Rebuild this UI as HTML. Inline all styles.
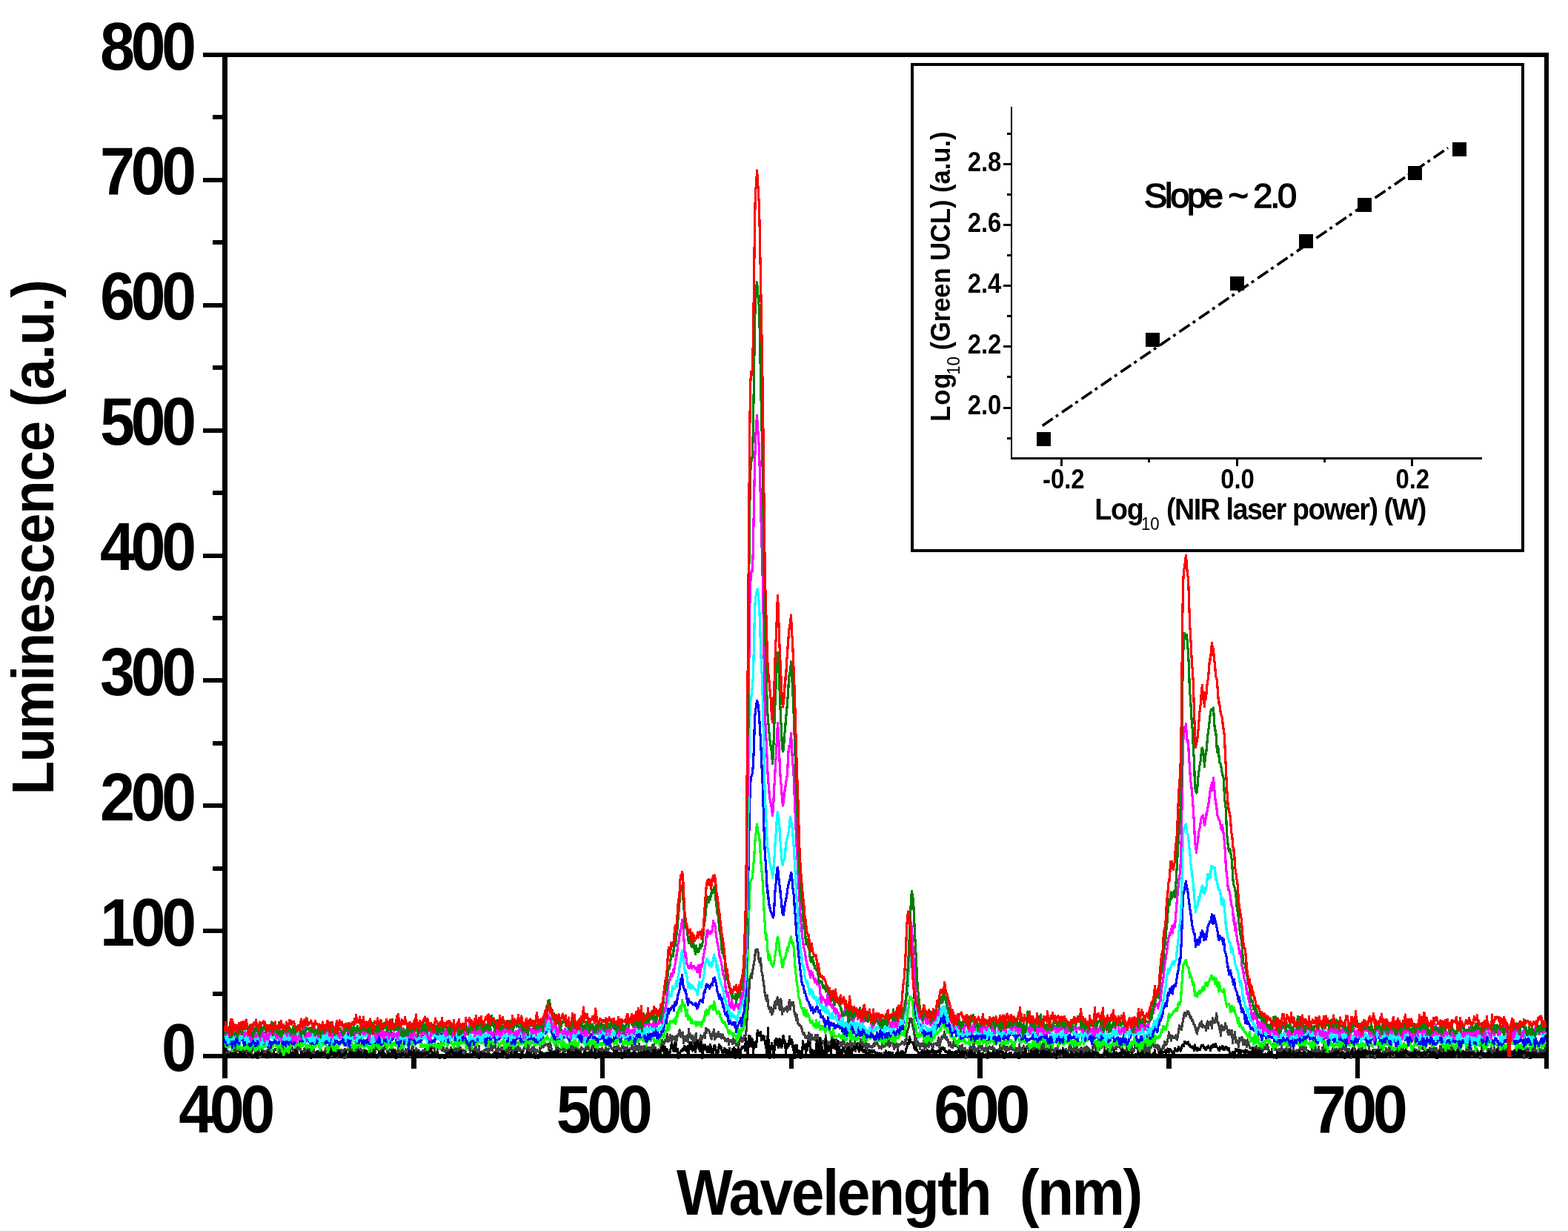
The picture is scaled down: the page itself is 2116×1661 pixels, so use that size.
<!DOCTYPE html><html><head><meta charset="utf-8"><title>Luminescence spectra</title><style>html,body{margin:0;padding:0;background:#fff;overflow:hidden}svg{display:block}text{font-family:'Liberation Sans', Arial, sans-serif;white-space:pre}</style></head><body>
<svg width="2116" height="1661" viewBox="0 0 2116 1661">
<rect x="0" y="0" width="2116" height="1661" fill="#fff"/>
<g fill="#000" shape-rendering="crispEdges">
<rect x="300" y="71" width="6.5" height="1357"/>
<rect x="274" y="71" width="1816" height="6"/>
<rect x="2084" y="71" width="6" height="1357"/>
<rect x="274" y="1422" width="1816" height="6"/>
<rect x="274" y="1422.0" width="28" height="6"/>
<rect x="274" y="1253.1" width="28" height="6"/>
<rect x="274" y="1084.2" width="28" height="6"/>
<rect x="274" y="915.4" width="28" height="6"/>
<rect x="274" y="746.5" width="28" height="6"/>
<rect x="274" y="577.6" width="28" height="6"/>
<rect x="274" y="408.8" width="28" height="6"/>
<rect x="274" y="239.9" width="28" height="6"/>
<rect x="274" y="71.0" width="28" height="6"/>
<rect x="287" y="1337.6" width="15" height="6"/>
<rect x="287" y="1168.7" width="15" height="6"/>
<rect x="287" y="999.8" width="15" height="6"/>
<rect x="287" y="830.9" width="15" height="6"/>
<rect x="287" y="662.1" width="15" height="6"/>
<rect x="287" y="493.2" width="15" height="6"/>
<rect x="287" y="324.3" width="15" height="6"/>
<rect x="287" y="155.4" width="15" height="6"/>
<rect x="300.3" y="1425" width="6.5" height="30"/>
<rect x="809.8" y="1425" width="6.5" height="30"/>
<rect x="1319.3" y="1425" width="6.5" height="30"/>
<rect x="1828.8" y="1425" width="6.5" height="30"/>
<rect x="555.0" y="1425" width="6.5" height="16.6"/>
<rect x="1064.5" y="1425" width="6.5" height="16.6"/>
<rect x="1574.0" y="1425" width="6.5" height="16.6"/>
<rect x="2083.6" y="1425" width="6.5" height="16.6"/>
</g>
<g font-weight="bold" font-size="90" letter-spacing="-5.9" fill="#000">
<text transform="translate(259.5,1444.5) scale(0.94,1)" text-anchor="end">0</text>
<text transform="translate(259.5,1275.6) scale(0.94,1)" text-anchor="end">100</text>
<text transform="translate(259.5,1106.8) scale(0.94,1)" text-anchor="end">200</text>
<text transform="translate(259.5,937.9) scale(0.94,1)" text-anchor="end">300</text>
<text transform="translate(259.5,769.0) scale(0.94,1)" text-anchor="end">400</text>
<text transform="translate(259.5,600.1) scale(0.94,1)" text-anchor="end">500</text>
<text transform="translate(259.5,431.2) scale(0.94,1)" text-anchor="end">600</text>
<text transform="translate(259.5,262.4) scale(0.94,1)" text-anchor="end">700</text>
<text transform="translate(259.5,93.5) scale(0.94,1)" text-anchor="end">800</text>
<text transform="translate(303.5,1527.5) scale(0.94,1)" text-anchor="middle">400</text>
<text transform="translate(813.0,1527.5) scale(0.94,1)" text-anchor="middle">500</text>
<text transform="translate(1322.5,1527.5) scale(0.94,1)" text-anchor="middle">600</text>
<text transform="translate(1832.0,1527.5) scale(0.94,1)" text-anchor="middle">700</text>
</g>
<text transform="translate(913,1638.8) scale(0.93,1)" font-weight="bold" font-size="86.5" letter-spacing="-2.72">Wavelength  (nm)</text>
<text transform="translate(72,1072.6) rotate(-90) scale(0.93,1)" x="0" y="0" font-weight="bold" font-size="80" letter-spacing="-1.18">Luminescence (a.u.)</text>
<g fill="none" stroke-width="3.2" stroke-linejoin="round" stroke-linecap="butt" shape-rendering="crispEdges">
<polyline stroke="#404040" points="303.5,1421.8 304.5,1424.1 305.5,1420.7 306.5,1425.1 307.5,1420.5 308.5,1418.6 309.5,1419.8 310.5,1420.7 311.5,1423.2 312.5,1420.4 313.5,1415.7 314.5,1415.4 315.5,1415.7 316.5,1423.1 317.5,1414.7 318.5,1423.6 319.5,1414.5 320.5,1416.4 321.5,1418.0 322.5,1419.2 323.5,1411.9 324.5,1418.9 325.5,1417.4 326.5,1414.7 327.5,1418.7 328.5,1414.7 329.5,1418.8 330.5,1415.7 331.5,1416.6 332.5,1419.0 333.5,1419.7 334.5,1413.6 335.5,1422.8 336.5,1425.3 337.5,1416.1 338.5,1421.9 339.5,1423.7 340.5,1412.6 341.5,1414.2 342.5,1414.1 343.5,1416.9 344.5,1417.4 345.5,1423.8 346.5,1419.1 347.5,1419.3 348.5,1419.6 349.5,1416.3 350.5,1425.6 351.5,1422.8 352.5,1426.4 353.5,1413.9 354.5,1418.4 355.5,1420.7 356.5,1418.0 357.5,1421.0 358.5,1418.9 359.5,1421.6 360.5,1416.9 361.5,1418.8 362.5,1414.3 363.5,1420.5 364.5,1413.3 365.5,1422.2 366.5,1421.3 367.5,1423.6 368.5,1426.8 369.5,1417.1 370.5,1418.2 371.5,1415.3 372.5,1416.5 373.5,1414.9 374.5,1415.8 375.5,1419.1 376.5,1413.4 377.5,1419.4 378.5,1425.0 379.5,1423.9 380.5,1408.1 381.5,1415.3 382.5,1419.1 383.5,1420.0 384.5,1416.2 385.5,1412.5 386.5,1417.2 387.5,1419.7 388.5,1414.9 389.5,1414.9 390.5,1412.7 391.5,1420.2 392.5,1411.9 393.5,1412.2 394.5,1413.3 395.5,1418.6 396.5,1417.8 397.5,1423.5 398.5,1414.8 399.5,1411.4 400.5,1417.5 401.5,1421.4 402.5,1410.2 403.5,1415.2 404.5,1414.3 405.5,1415.3 406.5,1421.5 407.5,1418.5 408.5,1421.8 409.5,1421.8 410.5,1415.1 411.5,1424.5 412.5,1416.6 413.5,1419.2 414.5,1418.1 415.5,1414.4 416.5,1418.4 417.5,1418.8 418.5,1419.8 419.5,1407.1 420.5,1416.0 421.5,1420.5 422.5,1419.1 423.5,1414.6 424.5,1422.5 425.5,1419.4 426.5,1423.0 427.5,1422.0 428.5,1421.7 429.5,1419.3 430.5,1418.4 431.5,1420.8 432.5,1414.7 433.5,1419.1 434.5,1420.9 435.5,1419.2 436.5,1425.4 437.5,1423.6 438.5,1419.6 439.5,1414.7 440.5,1411.8 441.5,1418.1 442.5,1420.9 443.5,1418.9 444.5,1418.2 445.5,1417.4 446.5,1412.7 447.5,1425.6 448.5,1420.3 449.5,1417.2 450.5,1421.0 451.5,1414.3 452.5,1419.6 453.5,1414.1 454.5,1419.9 455.5,1427.1 456.5,1416.5 457.5,1420.0 458.5,1419.9 459.5,1421.8 460.5,1416.7 461.5,1418.7 462.5,1419.0 463.5,1416.9 464.5,1427.5 465.5,1415.3 466.5,1427.1 467.5,1417.5 468.5,1416.8 469.5,1415.0 470.5,1414.2 471.5,1418.4 472.5,1421.9 473.5,1412.7 474.5,1413.2 475.5,1413.9 476.5,1421.3 477.5,1412.6 478.5,1416.4 479.5,1415.2 480.5,1416.4 481.5,1416.0 482.5,1411.8 483.5,1412.8 484.5,1416.8 485.5,1415.3 486.5,1415.3 487.5,1416.2 488.5,1419.3 489.5,1422.6 490.5,1417.4 491.5,1421.3 492.5,1419.3 493.5,1417.7 494.5,1419.2 495.5,1420.7 496.5,1422.5 497.5,1415.6 498.5,1419.9 499.5,1416.3 500.5,1421.2 501.5,1417.2 502.5,1414.1 503.5,1417.6 504.5,1422.4 505.5,1418.8 506.5,1419.9 507.5,1411.6 508.5,1411.3 509.5,1416.1 510.5,1413.9 511.5,1419.8 512.5,1426.7 513.5,1419.1 514.5,1418.3 515.5,1414.7 516.5,1415.4 517.5,1414.1 518.5,1416.3 519.5,1409.4 520.5,1412.5 521.5,1414.7 522.5,1418.9 523.5,1422.7 524.5,1418.3 525.5,1417.2 526.5,1415.2 527.5,1415.3 528.5,1410.9 529.5,1416.6 530.5,1419.5 531.5,1422.0 532.5,1421.9 533.5,1421.6 534.5,1421.0 535.5,1418.0 536.5,1422.7 537.5,1413.2 538.5,1423.6 539.5,1412.8 540.5,1420.5 541.5,1420.4 542.5,1418.0 543.5,1413.1 544.5,1425.7 545.5,1423.8 546.5,1419.3 547.5,1415.8 548.5,1418.2 549.5,1424.1 550.5,1415.5 551.5,1415.4 552.5,1419.5 553.5,1425.5 554.5,1418.8 555.5,1415.0 556.5,1412.3 557.5,1412.0 558.5,1420.8 559.5,1419.2 560.5,1420.8 561.5,1414.7 562.5,1416.7 563.5,1416.3 564.5,1416.8 565.5,1417.5 566.5,1423.9 567.5,1419.3 568.5,1421.7 569.5,1418.8 570.5,1417.7 571.5,1420.5 572.5,1425.6 573.5,1417.5 574.5,1412.6 575.5,1421.0 576.5,1423.3 577.5,1419.4 578.5,1419.5 579.5,1417.3 580.5,1411.1 581.5,1417.0 582.5,1414.7 583.5,1411.5 584.5,1414.4 585.5,1410.8 586.5,1419.4 587.5,1423.6 588.5,1419.8 589.5,1422.2 590.5,1416.5 591.5,1408.6 592.5,1410.2 593.5,1414.2 594.5,1415.8 595.5,1405.8 596.5,1417.8 597.5,1416.8 598.5,1413.6 599.5,1418.3 600.5,1416.4 601.5,1419.5 602.5,1415.1 603.5,1412.1 604.5,1420.1 605.5,1422.9 606.5,1421.8 607.5,1418.6 608.5,1413.7 609.5,1420.9 610.5,1423.0 611.5,1419.2 612.5,1412.3 613.5,1413.9 614.5,1414.2 615.5,1422.8 616.5,1416.0 617.5,1422.5 618.5,1410.7 619.5,1413.4 620.5,1414.1 621.5,1413.4 622.5,1418.2 623.5,1419.0 624.5,1416.7 625.5,1417.0 626.5,1421.7 627.5,1423.9 628.5,1418.1 629.5,1415.4 630.5,1411.6 631.5,1413.5 632.5,1409.3 633.5,1414.8 634.5,1420.3 635.5,1413.2 636.5,1417.7 637.5,1412.1 638.5,1417.0 639.5,1419.0 640.5,1425.4 641.5,1411.2 642.5,1413.8 643.5,1422.1 644.5,1420.7 645.5,1419.8 646.5,1411.5 647.5,1426.7 648.5,1423.3 649.5,1420.0 650.5,1424.7 651.5,1418.7 652.5,1417.8 653.5,1418.6 654.5,1416.5 655.5,1416.5 656.5,1417.4 657.5,1412.8 658.5,1420.5 659.5,1423.2 660.5,1412.5 661.5,1412.1 662.5,1407.9 663.5,1417.3 664.5,1417.8 665.5,1411.7 666.5,1411.9 667.5,1408.2 668.5,1411.5 669.5,1417.0 670.5,1427.5 671.5,1418.7 672.5,1411.4 673.5,1417.3 674.5,1415.7 675.5,1417.6 676.5,1413.7 677.5,1413.2 678.5,1419.4 679.5,1416.8 680.5,1425.4 681.5,1415.5 682.5,1416.9 683.5,1417.1 684.5,1427.5 685.5,1411.2 686.5,1419.3 687.5,1415.3 688.5,1412.9 689.5,1410.0 690.5,1417.7 691.5,1423.5 692.5,1418.0 693.5,1415.4 694.5,1412.4 695.5,1416.4 696.5,1414.2 697.5,1419.5 698.5,1413.6 699.5,1409.8 700.5,1417.7 701.5,1414.4 702.5,1417.7 703.5,1421.4 704.5,1417.8 705.5,1420.9 706.5,1414.9 707.5,1415.1 708.5,1410.6 709.5,1409.3 710.5,1414.9 711.5,1404.3 712.5,1421.1 713.5,1411.1 714.5,1421.7 715.5,1420.3 716.5,1419.1 717.5,1416.8 718.5,1413.2 719.5,1418.9 720.5,1412.1 721.5,1417.4 722.5,1419.7 723.5,1422.0 724.5,1416.5 725.5,1418.3 726.5,1418.9 727.5,1419.5 728.5,1416.7 729.5,1408.9 730.5,1413.9 731.5,1412.0 732.5,1411.9 733.5,1412.9 734.5,1410.9 735.5,1406.9 736.5,1409.9 737.5,1409.6 738.5,1408.8 739.5,1408.3 740.5,1416.6 741.5,1411.2 742.5,1407.4 743.5,1412.3 744.5,1416.4 745.5,1423.4 746.5,1421.7 747.5,1420.7 748.5,1419.8 749.5,1420.8 750.5,1417.7 751.5,1408.2 752.5,1412.7 753.5,1415.0 754.5,1418.4 755.5,1418.7 756.5,1417.1 757.5,1412.7 758.5,1415.9 759.5,1407.6 760.5,1419.1 761.5,1421.4 762.5,1416.7 763.5,1414.1 764.5,1417.6 765.5,1413.5 766.5,1414.4 767.5,1421.2 768.5,1414.6 769.5,1419.1 770.5,1412.9 771.5,1408.8 772.5,1412.4 773.5,1421.0 774.5,1420.9 775.5,1411.4 776.5,1414.4 777.5,1417.3 778.5,1421.0 779.5,1410.4 780.5,1421.3 781.5,1417.8 782.5,1416.0 783.5,1421.0 784.5,1413.0 785.5,1415.3 786.5,1415.1 787.5,1415.4 788.5,1418.3 789.5,1421.8 790.5,1413.4 791.5,1413.8 792.5,1415.4 793.5,1409.8 794.5,1413.9 795.5,1417.7 796.5,1421.7 797.5,1417.3 798.5,1415.8 799.5,1409.8 800.5,1411.0 801.5,1412.7 802.5,1416.4 803.5,1422.0 804.5,1415.7 805.5,1416.1 806.5,1422.1 807.5,1418.8 808.5,1415.6 809.5,1418.1 810.5,1418.1 811.5,1415.8 812.5,1414.5 813.5,1418.3 814.5,1416.4 815.5,1421.4 816.5,1422.6 817.5,1410.4 818.5,1418.2 819.5,1419.1 820.5,1417.2 821.5,1415.3 822.5,1409.9 823.5,1413.5 824.5,1411.5 825.5,1414.8 826.5,1416.1 827.5,1415.8 828.5,1413.5 829.5,1412.2 830.5,1412.2 831.5,1415.4 832.5,1412.4 833.5,1416.4 834.5,1411.1 835.5,1416.5 836.5,1414.2 837.5,1416.4 838.5,1418.5 839.5,1411.3 840.5,1409.1 841.5,1412.8 842.5,1417.5 843.5,1414.7 844.5,1413.4 845.5,1423.0 846.5,1413.0 847.5,1421.1 848.5,1419.4 849.5,1418.1 850.5,1414.7 851.5,1415.8 852.5,1412.7 853.5,1406.0 854.5,1417.0 855.5,1401.2 856.5,1416.8 857.5,1406.9 858.5,1416.3 859.5,1411.4 860.5,1416.3 861.5,1417.4 862.5,1408.7 863.5,1416.7 864.5,1416.7 865.5,1412.0 866.5,1413.3 867.5,1412.5 868.5,1420.4 869.5,1411.4 870.5,1416.4 871.5,1414.0 872.5,1420.5 873.5,1418.3 874.5,1413.6 875.5,1421.4 876.5,1417.1 877.5,1413.4 878.5,1420.3 879.5,1417.7 880.5,1410.0 881.5,1415.3 882.5,1409.2 883.5,1420.3 884.5,1413.2 885.5,1417.7 886.5,1420.5 887.5,1419.1 888.5,1415.9 889.5,1416.5 890.5,1417.8 891.5,1416.1 892.5,1405.9 893.5,1403.6 894.5,1406.9 895.5,1410.1 896.5,1406.8 897.5,1403.3 898.5,1405.1 899.5,1400.9 900.5,1395.3 901.5,1405.9 902.5,1404.4 903.5,1402.1 904.5,1396.4 905.5,1400.9 906.5,1407.8 907.5,1397.9 908.5,1402.6 909.5,1401.2 910.5,1398.9 911.5,1398.9 912.5,1410.6 913.5,1397.6 914.5,1398.9 915.5,1396.1 916.5,1392.3 917.5,1389.7 918.5,1399.2 919.5,1393.4 920.5,1396.3 921.5,1393.0 922.5,1407.7 923.5,1400.6 924.5,1398.3 925.5,1404.6 926.5,1399.1 927.5,1396.9 928.5,1405.4 929.5,1388.7 930.5,1399.1 931.5,1395.0 932.5,1401.0 933.5,1400.3 934.5,1397.2 935.5,1407.4 936.5,1402.7 937.5,1399.6 938.5,1397.6 939.5,1394.6 940.5,1414.2 941.5,1404.1 942.5,1405.5 943.5,1402.9 944.5,1404.4 945.5,1396.9 946.5,1405.3 947.5,1398.3 948.5,1399.5 949.5,1399.1 950.5,1394.8 951.5,1400.9 952.5,1387.3 953.5,1393.4 954.5,1388.9 955.5,1390.6 956.5,1390.0 957.5,1393.3 958.5,1395.8 959.5,1400.9 960.5,1401.9 961.5,1394.1 962.5,1394.7 963.5,1389.0 964.5,1402.6 965.5,1394.8 966.5,1400.0 967.5,1398.3 968.5,1394.7 969.5,1392.5 970.5,1398.4 971.5,1399.1 972.5,1395.4 973.5,1401.0 974.5,1396.9 975.5,1396.0 976.5,1400.7 977.5,1400.0 978.5,1404.6 979.5,1401.8 980.5,1405.0 981.5,1403.6 982.5,1401.2 983.5,1409.3 984.5,1404.4 985.5,1403.3 986.5,1403.2 987.5,1403.5 988.5,1408.6 989.5,1400.4 990.5,1406.3 991.5,1407.5 992.5,1403.5 993.5,1410.8 994.5,1403.9 995.5,1406.3 996.5,1413.4 997.5,1407.4 998.5,1402.8 999.5,1398.6 1000.5,1401.8 1001.5,1405.7 1002.5,1400.7 1003.5,1403.9 1004.5,1397.5 1005.5,1399.3 1006.5,1396.6 1007.5,1386.0 1008.5,1364.8 1009.5,1360.2 1010.5,1343.0 1011.5,1323.0 1012.5,1318.7 1013.5,1314.7 1014.5,1319.7 1015.5,1307.9 1016.5,1307.4 1017.5,1297.7 1018.5,1295.4 1019.5,1282.0 1020.5,1281.1 1021.5,1282.3 1022.5,1281.0 1023.5,1289.3 1024.5,1298.0 1025.5,1296.2 1026.5,1293.1 1027.5,1310.3 1028.5,1312.4 1029.5,1319.7 1030.5,1325.9 1031.5,1334.4 1032.5,1343.2 1033.5,1345.6 1034.5,1350.7 1035.5,1342.9 1036.5,1354.1 1037.5,1361.1 1038.5,1358.9 1039.5,1365.9 1040.5,1359.4 1041.5,1369.0 1042.5,1368.2 1043.5,1362.8 1044.5,1359.3 1045.5,1351.9 1046.5,1360.9 1047.5,1351.8 1048.5,1347.9 1049.5,1345.7 1050.5,1352.3 1051.5,1360.6 1052.5,1362.4 1053.5,1348.0 1054.5,1350.9 1055.5,1368.6 1056.5,1362.9 1057.5,1364.6 1058.5,1360.8 1059.5,1360.7 1060.5,1362.8 1061.5,1358.2 1062.5,1365.1 1063.5,1360.9 1064.5,1354.2 1065.5,1349.3 1066.5,1362.0 1067.5,1352.4 1068.5,1355.2 1069.5,1355.2 1070.5,1352.3 1071.5,1361.5 1072.5,1368.9 1073.5,1367.6 1074.5,1376.5 1075.5,1369.7 1076.5,1380.8 1077.5,1381.2 1078.5,1383.3 1079.5,1382.8 1080.5,1384.4 1081.5,1385.4 1082.5,1390.3 1083.5,1394.7 1084.5,1395.3 1085.5,1393.9 1086.5,1399.7 1087.5,1400.8 1088.5,1399.6 1089.5,1398.0 1090.5,1403.1 1091.5,1393.6 1092.5,1396.3 1093.5,1408.6 1094.5,1395.8 1095.5,1396.4 1096.5,1402.4 1097.5,1402.4 1098.5,1399.9 1099.5,1402.9 1100.5,1396.2 1101.5,1399.2 1102.5,1409.5 1103.5,1396.4 1104.5,1403.6 1105.5,1400.5 1106.5,1410.2 1107.5,1400.8 1108.5,1405.8 1109.5,1405.0 1110.5,1404.2 1111.5,1405.7 1112.5,1410.6 1113.5,1407.8 1114.5,1396.9 1115.5,1411.0 1116.5,1409.4 1117.5,1411.5 1118.5,1406.0 1119.5,1407.8 1120.5,1407.3 1121.5,1412.3 1122.5,1396.7 1123.5,1402.9 1124.5,1407.9 1125.5,1406.0 1126.5,1408.9 1127.5,1410.8 1128.5,1402.2 1129.5,1404.5 1130.5,1408.7 1131.5,1405.0 1132.5,1406.1 1133.5,1406.7 1134.5,1411.5 1135.5,1407.1 1136.5,1412.1 1137.5,1403.7 1138.5,1404.1 1139.5,1406.8 1140.5,1411.0 1141.5,1413.3 1142.5,1415.1 1143.5,1407.7 1144.5,1410.1 1145.5,1409.4 1146.5,1411.8 1147.5,1404.3 1148.5,1415.6 1149.5,1407.5 1150.5,1412.0 1151.5,1408.4 1152.5,1416.8 1153.5,1405.2 1154.5,1418.8 1155.5,1411.6 1156.5,1410.2 1157.5,1407.2 1158.5,1408.2 1159.5,1408.5 1160.5,1409.2 1161.5,1402.3 1162.5,1415.8 1163.5,1403.4 1164.5,1409.1 1165.5,1397.7 1166.5,1412.7 1167.5,1401.7 1168.5,1417.6 1169.5,1408.1 1170.5,1416.0 1171.5,1409.6 1172.5,1408.8 1173.5,1412.2 1174.5,1411.4 1175.5,1413.1 1176.5,1413.6 1177.5,1412.4 1178.5,1409.7 1179.5,1408.2 1180.5,1411.2 1181.5,1403.3 1182.5,1408.3 1183.5,1407.5 1184.5,1409.1 1185.5,1411.1 1186.5,1414.2 1187.5,1411.9 1188.5,1413.0 1189.5,1415.0 1190.5,1409.1 1191.5,1412.2 1192.5,1412.7 1193.5,1408.5 1194.5,1411.8 1195.5,1409.9 1196.5,1407.9 1197.5,1407.9 1198.5,1410.6 1199.5,1400.9 1200.5,1412.3 1201.5,1411.0 1202.5,1406.2 1203.5,1407.5 1204.5,1406.1 1205.5,1408.4 1206.5,1415.8 1207.5,1413.5 1208.5,1405.6 1209.5,1407.6 1210.5,1410.1 1211.5,1416.5 1212.5,1408.9 1213.5,1410.2 1214.5,1409.1 1215.5,1409.0 1216.5,1408.4 1217.5,1405.2 1218.5,1407.1 1219.5,1406.5 1220.5,1409.5 1221.5,1403.1 1222.5,1408.3 1223.5,1396.8 1224.5,1390.6 1225.5,1388.4 1226.5,1384.9 1227.5,1374.7 1228.5,1376.4 1229.5,1374.5 1230.5,1375.7 1231.5,1384.5 1232.5,1383.9 1233.5,1393.7 1234.5,1398.3 1235.5,1410.6 1236.5,1400.7 1237.5,1411.1 1238.5,1405.5 1239.5,1408.0 1240.5,1408.2 1241.5,1415.8 1242.5,1409.4 1243.5,1407.9 1244.5,1411.8 1245.5,1411.5 1246.5,1404.3 1247.5,1417.3 1248.5,1406.3 1249.5,1413.6 1250.5,1411.7 1251.5,1406.7 1252.5,1411.0 1253.5,1412.6 1254.5,1401.0 1255.5,1405.4 1256.5,1409.5 1257.5,1409.7 1258.5,1414.6 1259.5,1411.6 1260.5,1408.1 1261.5,1408.7 1262.5,1409.1 1263.5,1407.4 1264.5,1410.7 1265.5,1407.4 1266.5,1400.0 1267.5,1414.1 1268.5,1408.9 1269.5,1404.9 1270.5,1399.0 1271.5,1401.8 1272.5,1398.6 1273.5,1399.6 1274.5,1392.0 1275.5,1400.4 1276.5,1401.9 1277.5,1399.4 1278.5,1403.4 1279.5,1403.0 1280.5,1411.1 1281.5,1408.0 1282.5,1406.5 1283.5,1412.6 1284.5,1410.0 1285.5,1413.5 1286.5,1410.3 1287.5,1402.2 1288.5,1411.6 1289.5,1408.2 1290.5,1411.0 1291.5,1410.3 1292.5,1411.9 1293.5,1414.4 1294.5,1415.6 1295.5,1411.5 1296.5,1417.5 1297.5,1413.7 1298.5,1410.1 1299.5,1417.3 1300.5,1418.9 1301.5,1415.1 1302.5,1413.8 1303.5,1427.5 1304.5,1423.8 1305.5,1417.0 1306.5,1421.1 1307.5,1418.6 1308.5,1415.6 1309.5,1412.0 1310.5,1420.7 1311.5,1418.6 1312.5,1417.1 1313.5,1406.7 1314.5,1407.2 1315.5,1417.9 1316.5,1416.5 1317.5,1418.8 1318.5,1415.1 1319.5,1421.8 1320.5,1411.4 1321.5,1411.3 1322.5,1412.7 1323.5,1411.9 1324.5,1416.3 1325.5,1411.7 1326.5,1414.9 1327.5,1417.7 1328.5,1414.3 1329.5,1418.2 1330.5,1414.2 1331.5,1404.6 1332.5,1422.7 1333.5,1413.8 1334.5,1414.6 1335.5,1411.9 1336.5,1413.1 1337.5,1415.4 1338.5,1413.4 1339.5,1412.0 1340.5,1417.9 1341.5,1414.5 1342.5,1422.0 1343.5,1416.3 1344.5,1418.7 1345.5,1421.1 1346.5,1418.4 1347.5,1416.3 1348.5,1420.4 1349.5,1410.1 1350.5,1421.7 1351.5,1414.9 1352.5,1406.6 1353.5,1415.3 1354.5,1413.8 1355.5,1408.6 1356.5,1415.1 1357.5,1420.2 1358.5,1415.6 1359.5,1412.6 1360.5,1416.1 1361.5,1416.7 1362.5,1416.1 1363.5,1412.0 1364.5,1415.1 1365.5,1407.0 1366.5,1416.7 1367.5,1414.1 1368.5,1411.1 1369.5,1414.7 1370.5,1423.2 1371.5,1414.6 1372.5,1417.1 1373.5,1416.2 1374.5,1418.8 1375.5,1409.6 1376.5,1415.6 1377.5,1420.9 1378.5,1423.0 1379.5,1414.2 1380.5,1413.2 1381.5,1411.1 1382.5,1415.1 1383.5,1417.4 1384.5,1419.5 1385.5,1411.9 1386.5,1413.0 1387.5,1408.4 1388.5,1418.2 1389.5,1417.0 1390.5,1409.9 1391.5,1420.3 1392.5,1422.1 1393.5,1417.2 1394.5,1411.5 1395.5,1409.6 1396.5,1416.4 1397.5,1415.0 1398.5,1420.5 1399.5,1407.3 1400.5,1407.2 1401.5,1414.7 1402.5,1418.0 1403.5,1404.1 1404.5,1413.5 1405.5,1418.7 1406.5,1420.9 1407.5,1418.9 1408.5,1397.8 1409.5,1417.9 1410.5,1414.9 1411.5,1411.8 1412.5,1414.8 1413.5,1416.5 1414.5,1415.0 1415.5,1417.1 1416.5,1413.1 1417.5,1420.6 1418.5,1417.4 1419.5,1406.9 1420.5,1416.6 1421.5,1418.1 1422.5,1416.8 1423.5,1424.9 1424.5,1414.6 1425.5,1414.8 1426.5,1416.4 1427.5,1410.9 1428.5,1425.6 1429.5,1417.4 1430.5,1421.5 1431.5,1416.8 1432.5,1425.7 1433.5,1420.2 1434.5,1413.8 1435.5,1417.0 1436.5,1417.9 1437.5,1416.0 1438.5,1415.4 1439.5,1416.9 1440.5,1421.8 1441.5,1422.6 1442.5,1413.3 1443.5,1411.0 1444.5,1409.2 1445.5,1416.0 1446.5,1420.1 1447.5,1416.1 1448.5,1419.3 1449.5,1411.5 1450.5,1412.3 1451.5,1425.3 1452.5,1412.4 1453.5,1413.6 1454.5,1421.5 1455.5,1420.1 1456.5,1417.1 1457.5,1414.9 1458.5,1417.2 1459.5,1413.6 1460.5,1423.8 1461.5,1416.8 1462.5,1415.5 1463.5,1413.5 1464.5,1417.3 1465.5,1422.2 1466.5,1411.9 1467.5,1418.5 1468.5,1413.8 1469.5,1418.3 1470.5,1416.0 1471.5,1420.5 1472.5,1419.5 1473.5,1419.3 1474.5,1413.6 1475.5,1409.6 1476.5,1408.7 1477.5,1413.3 1478.5,1413.7 1479.5,1424.5 1480.5,1412.4 1481.5,1413.9 1482.5,1413.3 1483.5,1416.7 1484.5,1412.1 1485.5,1408.8 1486.5,1413.9 1487.5,1406.5 1488.5,1409.7 1489.5,1410.3 1490.5,1414.5 1491.5,1425.1 1492.5,1417.2 1493.5,1418.7 1494.5,1415.1 1495.5,1418.3 1496.5,1418.5 1497.5,1425.5 1498.5,1418.7 1499.5,1415.6 1500.5,1416.9 1501.5,1410.2 1502.5,1417.0 1503.5,1415.0 1504.5,1414.7 1505.5,1412.7 1506.5,1415.8 1507.5,1410.7 1508.5,1412.3 1509.5,1410.8 1510.5,1409.3 1511.5,1413.7 1512.5,1410.4 1513.5,1420.4 1514.5,1414.6 1515.5,1423.0 1516.5,1416.3 1517.5,1417.6 1518.5,1418.3 1519.5,1422.1 1520.5,1412.7 1521.5,1410.1 1522.5,1408.6 1523.5,1416.0 1524.5,1419.2 1525.5,1418.9 1526.5,1411.1 1527.5,1414.9 1528.5,1417.5 1529.5,1419.0 1530.5,1418.2 1531.5,1410.8 1532.5,1413.3 1533.5,1413.3 1534.5,1414.6 1535.5,1412.6 1536.5,1425.8 1537.5,1416.2 1538.5,1421.5 1539.5,1416.1 1540.5,1413.2 1541.5,1419.3 1542.5,1420.9 1543.5,1420.5 1544.5,1406.0 1545.5,1420.5 1546.5,1413.1 1547.5,1398.7 1548.5,1418.4 1549.5,1413.5 1550.5,1424.2 1551.5,1415.9 1552.5,1412.2 1553.5,1413.3 1554.5,1408.7 1555.5,1402.5 1556.5,1409.9 1557.5,1412.7 1558.5,1412.6 1559.5,1409.9 1560.5,1413.6 1561.5,1410.0 1562.5,1410.6 1563.5,1420.1 1564.5,1412.1 1565.5,1416.8 1566.5,1415.9 1567.5,1417.5 1568.5,1416.0 1569.5,1411.7 1570.5,1414.0 1571.5,1405.4 1572.5,1410.5 1573.5,1409.6 1574.5,1408.7 1575.5,1403.7 1576.5,1400.2 1577.5,1392.8 1578.5,1399.0 1579.5,1397.6 1580.5,1404.2 1581.5,1397.8 1582.5,1398.1 1583.5,1399.9 1584.5,1399.2 1585.5,1400.7 1586.5,1397.0 1587.5,1401.3 1588.5,1403.1 1589.5,1397.6 1590.5,1391.5 1591.5,1383.8 1592.5,1388.5 1593.5,1385.0 1594.5,1389.8 1595.5,1380.7 1596.5,1378.7 1597.5,1369.9 1598.5,1366.6 1599.5,1366.2 1600.5,1370.9 1601.5,1368.0 1602.5,1364.7 1603.5,1368.1 1604.5,1366.0 1605.5,1372.0 1606.5,1373.6 1607.5,1372.0 1608.5,1377.6 1609.5,1376.0 1610.5,1381.0 1611.5,1382.9 1612.5,1383.5 1613.5,1388.5 1614.5,1391.4 1615.5,1395.0 1616.5,1387.7 1617.5,1387.9 1618.5,1383.2 1619.5,1380.7 1620.5,1384.7 1621.5,1378.1 1622.5,1386.2 1623.5,1383.0 1624.5,1385.5 1625.5,1384.7 1626.5,1384.2 1627.5,1390.5 1628.5,1383.9 1629.5,1378.0 1630.5,1387.7 1631.5,1379.3 1632.5,1381.2 1633.5,1378.3 1634.5,1380.6 1635.5,1387.9 1636.5,1373.8 1637.5,1378.7 1638.5,1376.5 1639.5,1380.0 1640.5,1378.8 1641.5,1367.3 1642.5,1375.3 1643.5,1381.0 1644.5,1379.8 1645.5,1388.9 1646.5,1387.7 1647.5,1397.6 1648.5,1383.7 1649.5,1385.3 1650.5,1388.7 1651.5,1390.2 1652.5,1388.7 1653.5,1380.8 1654.5,1387.7 1655.5,1384.8 1656.5,1392.1 1657.5,1395.5 1658.5,1396.0 1659.5,1390.1 1660.5,1394.0 1661.5,1396.9 1662.5,1390.4 1663.5,1407.6 1664.5,1397.7 1665.5,1400.6 1666.5,1392.2 1667.5,1406.6 1668.5,1402.8 1669.5,1404.1 1670.5,1404.8 1671.5,1412.7 1672.5,1400.8 1673.5,1403.3 1674.5,1402.5 1675.5,1399.4 1676.5,1399.9 1677.5,1409.5 1678.5,1406.6 1679.5,1403.0 1680.5,1409.6 1681.5,1404.2 1682.5,1412.7 1683.5,1402.9 1684.5,1407.9 1685.5,1409.6 1686.5,1414.0 1687.5,1414.2 1688.5,1414.6 1689.5,1413.6 1690.5,1413.7 1691.5,1413.7 1692.5,1414.8 1693.5,1415.0 1694.5,1413.1 1695.5,1411.5 1696.5,1416.7 1697.5,1414.3 1698.5,1420.0 1699.5,1415.2 1700.5,1411.0 1701.5,1422.0 1702.5,1411.7 1703.5,1413.4 1704.5,1417.9 1705.5,1414.0 1706.5,1411.1 1707.5,1407.1 1708.5,1415.3 1709.5,1411.6 1710.5,1409.0 1711.5,1417.1 1712.5,1417.3 1713.5,1420.4 1714.5,1423.8 1715.5,1421.9 1716.5,1418.5 1717.5,1410.6 1718.5,1408.4 1719.5,1416.1 1720.5,1415.9 1721.5,1414.5 1722.5,1416.3 1723.5,1418.8 1724.5,1416.5 1725.5,1420.0 1726.5,1415.3 1727.5,1422.6 1728.5,1419.7 1729.5,1410.8 1730.5,1417.6 1731.5,1421.2 1732.5,1418.1 1733.5,1416.1 1734.5,1415.6 1735.5,1416.6 1736.5,1412.0 1737.5,1420.9 1738.5,1415.7 1739.5,1420.6 1740.5,1419.8 1741.5,1414.0 1742.5,1418.1 1743.5,1425.1 1744.5,1419.5 1745.5,1414.2 1746.5,1421.5 1747.5,1420.5 1748.5,1420.9 1749.5,1417.0 1750.5,1419.4 1751.5,1422.5 1752.5,1416.8 1753.5,1421.4 1754.5,1410.3 1755.5,1416.8 1756.5,1409.0 1757.5,1406.1 1758.5,1413.1 1759.5,1420.1 1760.5,1411.1 1761.5,1409.6 1762.5,1415.9 1763.5,1417.6 1764.5,1417.5 1765.5,1419.5 1766.5,1419.7 1767.5,1421.6 1768.5,1421.0 1769.5,1421.3 1770.5,1414.9 1771.5,1416.7 1772.5,1420.1 1773.5,1426.4 1774.5,1419.4 1775.5,1413.1 1776.5,1419.5 1777.5,1418.7 1778.5,1419.0 1779.5,1412.3 1780.5,1421.4 1781.5,1423.6 1782.5,1422.6 1783.5,1423.5 1784.5,1413.2 1785.5,1421.3 1786.5,1413.5 1787.5,1404.9 1788.5,1416.5 1789.5,1413.6 1790.5,1421.8 1791.5,1416.1 1792.5,1419.4 1793.5,1418.7 1794.5,1422.8 1795.5,1419.9 1796.5,1421.7 1797.5,1418.6 1798.5,1415.1 1799.5,1415.9 1800.5,1420.1 1801.5,1421.4 1802.5,1416.6 1803.5,1414.9 1804.5,1416.4 1805.5,1423.4 1806.5,1419.4 1807.5,1416.3 1808.5,1413.7 1809.5,1409.5 1810.5,1417.7 1811.5,1413.9 1812.5,1409.7 1813.5,1415.5 1814.5,1410.3 1815.5,1417.6 1816.5,1413.2 1817.5,1416.8 1818.5,1421.7 1819.5,1420.4 1820.5,1415.5 1821.5,1422.8 1822.5,1427.5 1823.5,1418.5 1824.5,1417.8 1825.5,1421.4 1826.5,1407.5 1827.5,1413.7 1828.5,1415.8 1829.5,1421.5 1830.5,1418.8 1831.5,1420.0 1832.5,1418.6 1833.5,1414.0 1834.5,1415.2 1835.5,1412.6 1836.5,1417.4 1837.5,1408.2 1838.5,1418.1 1839.5,1419.2 1840.5,1419.6 1841.5,1420.4 1842.5,1413.4 1843.5,1421.7 1844.5,1425.4 1845.5,1418.9 1846.5,1426.7 1847.5,1412.6 1848.5,1420.9 1849.5,1421.0 1850.5,1423.4 1851.5,1420.6 1852.5,1417.0 1853.5,1416.3 1854.5,1420.8 1855.5,1427.5 1856.5,1416.7 1857.5,1416.3 1858.5,1416.5 1859.5,1420.6 1860.5,1411.0 1861.5,1416.7 1862.5,1417.0 1863.5,1415.3 1864.5,1412.9 1865.5,1412.4 1866.5,1421.0 1867.5,1422.1 1868.5,1422.6 1869.5,1422.3 1870.5,1414.7 1871.5,1419.2 1872.5,1417.0 1873.5,1426.4 1874.5,1410.9 1875.5,1424.6 1876.5,1416.7 1877.5,1414.3 1878.5,1423.9 1879.5,1427.1 1880.5,1418.1 1881.5,1424.6 1882.5,1419.9 1883.5,1419.6 1884.5,1414.3 1885.5,1415.7 1886.5,1418.1 1887.5,1414.6 1888.5,1415.9 1889.5,1415.3 1890.5,1414.9 1891.5,1420.3 1892.5,1422.1 1893.5,1414.9 1894.5,1418.3 1895.5,1421.7 1896.5,1421.1 1897.5,1413.7 1898.5,1424.6 1899.5,1418.2 1900.5,1421.5 1901.5,1425.0 1902.5,1419.3 1903.5,1420.5 1904.5,1421.7 1905.5,1422.9 1906.5,1417.1 1907.5,1416.9 1908.5,1415.5 1909.5,1421.2 1910.5,1417.1 1911.5,1416.4 1912.5,1419.9 1913.5,1422.4 1914.5,1425.6 1915.5,1411.7 1916.5,1413.3 1917.5,1412.1 1918.5,1414.4 1919.5,1415.2 1920.5,1413.1 1921.5,1415.7 1922.5,1414.7 1923.5,1425.2 1924.5,1421.6 1925.5,1424.7 1926.5,1416.4 1927.5,1417.4 1928.5,1418.0 1929.5,1413.9 1930.5,1417.4 1931.5,1413.9 1932.5,1416.8 1933.5,1421.7 1934.5,1417.2 1935.5,1408.2 1936.5,1420.1 1937.5,1424.0 1938.5,1414.5 1939.5,1418.7 1940.5,1420.4 1941.5,1417.9 1942.5,1419.6 1943.5,1411.8 1944.5,1413.6 1945.5,1418.3 1946.5,1405.8 1947.5,1417.4 1948.5,1423.2 1949.5,1411.6 1950.5,1417.3 1951.5,1407.5 1952.5,1421.0 1953.5,1420.5 1954.5,1415.8 1955.5,1409.8 1956.5,1415.5 1957.5,1414.8 1958.5,1422.1 1959.5,1413.1 1960.5,1417.6 1961.5,1419.0 1962.5,1417.5 1963.5,1420.2 1964.5,1422.1 1965.5,1426.8 1966.5,1416.1 1967.5,1414.5 1968.5,1420.3 1969.5,1413.0 1970.5,1420.6 1971.5,1421.5 1972.5,1426.1 1973.5,1419.5 1974.5,1417.8 1975.5,1420.1 1976.5,1423.7 1977.5,1422.6 1978.5,1421.6 1979.5,1411.5 1980.5,1409.7 1981.5,1417.0 1982.5,1420.5 1983.5,1418.5 1984.5,1417.6 1985.5,1414.4 1986.5,1424.6 1987.5,1419.0 1988.5,1418.5 1989.5,1424.8 1990.5,1418.2 1991.5,1423.6 1992.5,1415.3 1993.5,1418.7 1994.5,1418.3 1995.5,1420.3 1996.5,1423.2 1997.5,1427.5 1998.5,1426.7 1999.5,1412.4 2000.5,1406.7 2001.5,1416.8 2002.5,1414.8 2003.5,1414.1 2004.5,1414.3 2005.5,1414.6 2006.5,1415.0 2007.5,1418.6 2008.5,1419.3 2009.5,1415.3 2010.5,1415.4 2011.5,1423.8 2012.5,1409.3 2013.5,1425.3 2014.5,1419.7 2015.5,1423.3 2016.5,1412.9 2017.5,1420.8 2018.5,1416.9 2019.5,1417.6 2020.5,1415.5 2021.5,1415.0 2022.5,1412.8 2023.5,1418.1 2024.5,1411.9 2025.5,1416.4 2026.5,1414.7 2027.5,1415.9 2028.5,1411.1 2029.5,1416.2 2030.5,1418.3 2031.5,1415.6 2032.5,1415.3 2033.5,1415.6 2034.5,1418.3 2035.5,1419.3 2036.5,1425.0 2037.5,1415.0 2038.5,1420.2 2039.5,1424.2 2040.5,1418.5 2041.5,1423.1 2042.5,1421.4 2043.5,1417.8 2044.5,1420.4 2045.5,1422.0 2046.5,1418.0 2047.5,1417.8 2048.5,1422.9 2049.5,1415.8 2050.5,1413.6 2051.5,1419.3 2052.5,1416.0 2053.5,1415.8 2054.5,1416.0 2055.5,1418.5 2056.5,1427.5 2057.5,1418.3 2058.5,1415.9 2059.5,1416.9 2060.5,1425.9 2061.5,1414.6 2062.5,1414.5 2063.5,1427.4 2064.5,1427.0 2065.5,1422.3 2066.5,1418.5 2067.5,1420.0 2068.5,1415.8 2069.5,1416.9 2070.5,1414.8 2071.5,1413.0 2072.5,1422.2 2073.5,1417.4 2074.5,1423.7 2075.5,1420.2 2076.5,1424.7 2077.5,1415.4 2078.5,1419.6 2079.5,1420.1 2080.5,1414.1 2081.5,1418.1 2082.5,1419.3 2083.5,1424.4 2084.5,1419.1 2085.5,1408.0"/>
<polyline stroke="#000000" points="303.5,1422.3 304.5,1426.8 305.5,1424.1 306.5,1425.1 307.5,1422.4 308.5,1423.2 309.5,1423.8 310.5,1423.7 311.5,1421.9 312.5,1419.9 313.5,1420.4 314.5,1422.4 315.5,1421.4 316.5,1424.0 317.5,1421.8 318.5,1421.1 319.5,1421.8 320.5,1424.5 321.5,1422.9 322.5,1422.2 323.5,1424.1 324.5,1419.2 325.5,1422.9 326.5,1421.9 327.5,1424.2 328.5,1421.5 329.5,1425.6 330.5,1420.7 331.5,1425.5 332.5,1424.8 333.5,1424.2 334.5,1421.3 335.5,1423.9 336.5,1423.4 337.5,1422.5 338.5,1425.5 339.5,1425.3 340.5,1427.2 341.5,1425.7 342.5,1424.4 343.5,1426.0 344.5,1420.2 345.5,1425.0 346.5,1422.4 347.5,1427.5 348.5,1420.5 349.5,1423.6 350.5,1423.6 351.5,1422.4 352.5,1421.8 353.5,1419.4 354.5,1426.6 355.5,1423.4 356.5,1425.2 357.5,1422.5 358.5,1423.8 359.5,1424.6 360.5,1427.0 361.5,1419.2 362.5,1421.9 363.5,1424.1 364.5,1422.3 365.5,1424.4 366.5,1426.5 367.5,1424.9 368.5,1425.5 369.5,1419.5 370.5,1423.4 371.5,1425.4 372.5,1426.3 373.5,1421.9 374.5,1424.2 375.5,1426.3 376.5,1424.7 377.5,1425.8 378.5,1422.0 379.5,1420.8 380.5,1425.2 381.5,1422.0 382.5,1423.1 383.5,1426.8 384.5,1423.0 385.5,1426.2 386.5,1421.0 387.5,1422.1 388.5,1424.2 389.5,1426.0 390.5,1422.5 391.5,1424.1 392.5,1425.0 393.5,1420.3 394.5,1420.7 395.5,1422.1 396.5,1421.8 397.5,1425.0 398.5,1417.5 399.5,1423.8 400.5,1419.0 401.5,1422.5 402.5,1423.2 403.5,1424.2 404.5,1425.6 405.5,1424.4 406.5,1420.0 407.5,1421.7 408.5,1425.5 409.5,1424.8 410.5,1422.3 411.5,1421.1 412.5,1424.8 413.5,1423.1 414.5,1422.8 415.5,1418.8 416.5,1420.6 417.5,1423.7 418.5,1420.5 419.5,1427.5 420.5,1427.1 421.5,1424.0 422.5,1425.5 423.5,1424.0 424.5,1425.6 425.5,1425.6 426.5,1421.3 427.5,1423.4 428.5,1418.7 429.5,1424.7 430.5,1422.0 431.5,1417.7 432.5,1419.8 433.5,1423.9 434.5,1423.2 435.5,1421.2 436.5,1424.0 437.5,1420.7 438.5,1422.4 439.5,1422.7 440.5,1424.4 441.5,1424.2 442.5,1427.5 443.5,1418.6 444.5,1423.5 445.5,1423.5 446.5,1421.5 447.5,1417.2 448.5,1422.4 449.5,1422.5 450.5,1423.2 451.5,1421.0 452.5,1422.4 453.5,1423.7 454.5,1424.6 455.5,1421.6 456.5,1421.3 457.5,1417.6 458.5,1420.9 459.5,1420.5 460.5,1423.2 461.5,1424.8 462.5,1423.2 463.5,1421.2 464.5,1424.1 465.5,1421.6 466.5,1418.8 467.5,1421.0 468.5,1422.2 469.5,1422.3 470.5,1422.5 471.5,1420.3 472.5,1419.5 473.5,1422.5 474.5,1423.6 475.5,1420.1 476.5,1420.2 477.5,1422.4 478.5,1424.4 479.5,1419.9 480.5,1426.1 481.5,1426.0 482.5,1419.9 483.5,1418.1 484.5,1420.4 485.5,1419.4 486.5,1421.7 487.5,1420.4 488.5,1425.1 489.5,1424.8 490.5,1425.2 491.5,1425.6 492.5,1417.4 493.5,1424.6 494.5,1427.1 495.5,1418.8 496.5,1424.3 497.5,1425.1 498.5,1424.0 499.5,1422.8 500.5,1421.7 501.5,1421.2 502.5,1426.0 503.5,1417.9 504.5,1420.3 505.5,1426.9 506.5,1423.1 507.5,1424.0 508.5,1427.1 509.5,1425.2 510.5,1423.6 511.5,1419.8 512.5,1423.7 513.5,1420.6 514.5,1423.5 515.5,1421.1 516.5,1417.6 517.5,1420.2 518.5,1421.2 519.5,1422.5 520.5,1423.0 521.5,1424.3 522.5,1425.2 523.5,1421.5 524.5,1421.5 525.5,1425.1 526.5,1421.3 527.5,1423.4 528.5,1417.9 529.5,1422.5 530.5,1420.5 531.5,1417.2 532.5,1416.5 533.5,1423.3 534.5,1427.5 535.5,1423.7 536.5,1422.2 537.5,1422.5 538.5,1422.4 539.5,1422.6 540.5,1424.5 541.5,1423.6 542.5,1421.3 543.5,1421.1 544.5,1423.6 545.5,1423.7 546.5,1423.0 547.5,1421.9 548.5,1424.9 549.5,1426.7 550.5,1424.5 551.5,1423.3 552.5,1418.7 553.5,1420.8 554.5,1423.7 555.5,1418.9 556.5,1426.3 557.5,1423.8 558.5,1417.7 559.5,1420.8 560.5,1421.1 561.5,1423.3 562.5,1422.5 563.5,1418.9 564.5,1422.1 565.5,1423.7 566.5,1420.7 567.5,1420.0 568.5,1425.3 569.5,1421.4 570.5,1422.4 571.5,1422.0 572.5,1424.2 573.5,1421.1 574.5,1423.2 575.5,1421.6 576.5,1419.6 577.5,1421.2 578.5,1420.4 579.5,1419.2 580.5,1418.0 581.5,1415.7 582.5,1419.9 583.5,1423.0 584.5,1424.4 585.5,1420.3 586.5,1423.8 587.5,1423.8 588.5,1422.3 589.5,1422.4 590.5,1420.2 591.5,1426.5 592.5,1426.6 593.5,1427.5 594.5,1423.4 595.5,1423.9 596.5,1425.6 597.5,1425.7 598.5,1425.8 599.5,1427.5 600.5,1427.3 601.5,1425.4 602.5,1421.8 603.5,1420.2 604.5,1422.1 605.5,1420.8 606.5,1421.9 607.5,1418.7 608.5,1418.9 609.5,1416.6 610.5,1420.7 611.5,1422.7 612.5,1421.0 613.5,1423.2 614.5,1422.5 615.5,1419.9 616.5,1423.2 617.5,1422.9 618.5,1423.3 619.5,1420.6 620.5,1418.8 621.5,1424.6 622.5,1418.4 623.5,1424.5 624.5,1424.9 625.5,1424.4 626.5,1426.8 627.5,1425.4 628.5,1425.3 629.5,1422.6 630.5,1425.6 631.5,1422.4 632.5,1425.7 633.5,1424.7 634.5,1424.0 635.5,1425.2 636.5,1423.0 637.5,1424.0 638.5,1418.8 639.5,1423.2 640.5,1422.9 641.5,1420.1 642.5,1424.2 643.5,1423.2 644.5,1421.8 645.5,1424.3 646.5,1427.5 647.5,1425.7 648.5,1420.0 649.5,1424.7 650.5,1421.2 651.5,1421.9 652.5,1422.3 653.5,1422.7 654.5,1421.4 655.5,1423.5 656.5,1421.5 657.5,1423.4 658.5,1424.3 659.5,1423.8 660.5,1422.1 661.5,1422.9 662.5,1424.2 663.5,1424.4 664.5,1424.1 665.5,1422.7 666.5,1421.4 667.5,1419.9 668.5,1421.3 669.5,1421.1 670.5,1425.2 671.5,1426.5 672.5,1421.5 673.5,1421.3 674.5,1425.8 675.5,1422.7 676.5,1421.3 677.5,1419.4 678.5,1426.6 679.5,1418.4 680.5,1421.6 681.5,1422.8 682.5,1421.9 683.5,1425.4 684.5,1426.6 685.5,1423.8 686.5,1423.0 687.5,1424.9 688.5,1426.0 689.5,1420.1 690.5,1424.5 691.5,1426.8 692.5,1424.7 693.5,1424.6 694.5,1421.6 695.5,1419.5 696.5,1419.2 697.5,1422.3 698.5,1421.8 699.5,1426.2 700.5,1425.7 701.5,1422.2 702.5,1427.5 703.5,1426.0 704.5,1419.7 705.5,1424.8 706.5,1423.7 707.5,1424.1 708.5,1424.0 709.5,1424.2 710.5,1423.4 711.5,1418.8 712.5,1421.4 713.5,1420.6 714.5,1421.7 715.5,1426.4 716.5,1421.2 717.5,1425.5 718.5,1423.5 719.5,1425.8 720.5,1421.8 721.5,1426.2 722.5,1427.4 723.5,1426.6 724.5,1425.2 725.5,1425.9 726.5,1427.5 727.5,1425.6 728.5,1422.5 729.5,1419.5 730.5,1424.0 731.5,1420.3 732.5,1423.7 733.5,1424.0 734.5,1421.5 735.5,1421.8 736.5,1421.5 737.5,1426.5 738.5,1420.6 739.5,1420.8 740.5,1422.3 741.5,1421.2 742.5,1417.6 743.5,1421.7 744.5,1422.1 745.5,1423.3 746.5,1419.7 747.5,1422.7 748.5,1418.2 749.5,1422.8 750.5,1423.8 751.5,1422.6 752.5,1417.8 753.5,1420.1 754.5,1422.3 755.5,1424.8 756.5,1421.9 757.5,1425.1 758.5,1423.5 759.5,1420.7 760.5,1423.9 761.5,1422.2 762.5,1423.0 763.5,1423.0 764.5,1423.0 765.5,1423.4 766.5,1419.9 767.5,1416.6 768.5,1422.0 769.5,1420.1 770.5,1420.3 771.5,1419.6 772.5,1421.3 773.5,1420.6 774.5,1422.3 775.5,1423.7 776.5,1420.8 777.5,1417.1 778.5,1420.3 779.5,1418.2 780.5,1422.8 781.5,1423.8 782.5,1418.9 783.5,1420.5 784.5,1423.2 785.5,1424.4 786.5,1422.4 787.5,1425.4 788.5,1421.6 789.5,1418.5 790.5,1420.6 791.5,1425.6 792.5,1421.4 793.5,1420.4 794.5,1422.0 795.5,1420.7 796.5,1421.1 797.5,1421.5 798.5,1417.1 799.5,1423.4 800.5,1423.0 801.5,1423.6 802.5,1415.7 803.5,1427.3 804.5,1421.9 805.5,1423.7 806.5,1422.9 807.5,1421.7 808.5,1419.3 809.5,1420.5 810.5,1422.7 811.5,1420.2 812.5,1421.0 813.5,1421.5 814.5,1425.7 815.5,1419.7 816.5,1421.1 817.5,1421.9 818.5,1420.0 819.5,1422.6 820.5,1423.3 821.5,1420.7 822.5,1423.6 823.5,1421.1 824.5,1421.2 825.5,1422.5 826.5,1421.4 827.5,1424.2 828.5,1417.6 829.5,1424.1 830.5,1420.2 831.5,1418.7 832.5,1418.5 833.5,1425.0 834.5,1420.6 835.5,1420.7 836.5,1422.7 837.5,1421.5 838.5,1421.4 839.5,1427.5 840.5,1423.2 841.5,1420.3 842.5,1418.7 843.5,1423.1 844.5,1423.9 845.5,1421.5 846.5,1418.9 847.5,1420.6 848.5,1416.3 849.5,1423.5 850.5,1422.6 851.5,1421.9 852.5,1422.4 853.5,1420.3 854.5,1420.6 855.5,1424.7 856.5,1419.5 857.5,1423.0 858.5,1421.7 859.5,1423.1 860.5,1421.4 861.5,1422.4 862.5,1420.6 863.5,1422.3 864.5,1421.9 865.5,1419.0 866.5,1420.6 867.5,1425.8 868.5,1422.4 869.5,1418.8 870.5,1426.3 871.5,1420.9 872.5,1423.0 873.5,1418.7 874.5,1420.9 875.5,1419.1 876.5,1420.8 877.5,1422.7 878.5,1424.8 879.5,1426.1 880.5,1423.3 881.5,1417.5 882.5,1421.0 883.5,1416.5 884.5,1422.7 885.5,1422.7 886.5,1421.5 887.5,1418.4 888.5,1421.6 889.5,1417.9 890.5,1424.5 891.5,1420.1 892.5,1416.5 893.5,1414.4 894.5,1411.7 895.5,1417.4 896.5,1420.5 897.5,1412.3 898.5,1423.2 899.5,1415.6 900.5,1415.9 901.5,1421.6 902.5,1421.5 903.5,1423.0 904.5,1418.9 905.5,1412.1 906.5,1407.8 907.5,1412.2 908.5,1417.9 909.5,1418.5 910.5,1407.4 911.5,1408.5 912.5,1418.8 913.5,1418.1 914.5,1415.4 915.5,1427.5 916.5,1424.6 917.5,1420.6 918.5,1417.8 919.5,1417.1 920.5,1417.9 921.5,1415.0 922.5,1416.9 923.5,1411.3 924.5,1413.7 925.5,1417.5 926.5,1412.2 927.5,1420.0 928.5,1411.8 929.5,1422.3 930.5,1406.9 931.5,1415.5 932.5,1406.6 933.5,1411.8 934.5,1418.0 935.5,1416.0 936.5,1414.8 937.5,1407.2 938.5,1419.6 939.5,1411.8 940.5,1406.3 941.5,1404.4 942.5,1411.1 943.5,1413.1 944.5,1418.7 945.5,1406.0 946.5,1407.0 947.5,1427.5 948.5,1419.8 949.5,1410.0 950.5,1415.9 951.5,1409.9 952.5,1413.5 953.5,1416.6 954.5,1419.5 955.5,1412.1 956.5,1413.4 957.5,1419.9 958.5,1409.5 959.5,1414.6 960.5,1420.3 961.5,1415.5 962.5,1421.4 963.5,1410.8 964.5,1410.2 965.5,1412.0 966.5,1422.6 967.5,1418.0 968.5,1425.4 969.5,1415.7 970.5,1409.4 971.5,1413.9 972.5,1411.8 973.5,1413.8 974.5,1420.1 975.5,1417.9 976.5,1420.3 977.5,1414.7 978.5,1415.0 979.5,1424.6 980.5,1424.2 981.5,1416.8 982.5,1418.4 983.5,1423.3 984.5,1414.4 985.5,1426.5 986.5,1419.9 987.5,1421.9 988.5,1415.2 989.5,1421.6 990.5,1413.2 991.5,1415.3 992.5,1427.5 993.5,1422.7 994.5,1416.3 995.5,1423.2 996.5,1414.0 997.5,1419.3 998.5,1427.5 999.5,1416.6 1000.5,1415.3 1001.5,1412.8 1002.5,1413.9 1003.5,1411.9 1004.5,1411.0 1005.5,1417.6 1006.5,1401.2 1007.5,1407.8 1008.5,1423.7 1009.5,1425.1 1010.5,1397.6 1011.5,1400.1 1012.5,1398.5 1013.5,1411.6 1014.5,1401.4 1015.5,1403.0 1016.5,1420.6 1017.5,1409.9 1018.5,1406.6 1019.5,1411.1 1020.5,1412.8 1021.5,1398.6 1022.5,1390.4 1023.5,1395.4 1024.5,1397.8 1025.5,1396.3 1026.5,1392.4 1027.5,1403.6 1028.5,1397.4 1029.5,1397.4 1030.5,1402.9 1031.5,1398.3 1032.5,1409.0 1033.5,1405.4 1034.5,1420.5 1035.5,1414.3 1036.5,1387.1 1037.5,1422.1 1038.5,1427.5 1039.5,1416.4 1040.5,1415.4 1041.5,1407.2 1042.5,1414.6 1043.5,1415.8 1044.5,1427.0 1045.5,1403.8 1046.5,1403.5 1047.5,1401.7 1048.5,1410.2 1049.5,1402.3 1050.5,1413.4 1051.5,1411.3 1052.5,1401.8 1053.5,1403.8 1054.5,1413.9 1055.5,1411.1 1056.5,1398.0 1057.5,1398.0 1058.5,1408.2 1059.5,1404.9 1060.5,1421.6 1061.5,1408.2 1062.5,1413.3 1063.5,1410.6 1064.5,1411.0 1065.5,1398.3 1066.5,1404.9 1067.5,1408.7 1068.5,1403.1 1069.5,1408.1 1070.5,1416.9 1071.5,1412.0 1072.5,1427.5 1073.5,1410.7 1074.5,1415.8 1075.5,1410.5 1076.5,1423.0 1077.5,1419.1 1078.5,1418.0 1079.5,1422.9 1080.5,1427.5 1081.5,1418.4 1082.5,1424.8 1083.5,1404.8 1084.5,1415.7 1085.5,1413.8 1086.5,1409.3 1087.5,1421.8 1088.5,1408.5 1089.5,1417.2 1090.5,1405.3 1091.5,1410.2 1092.5,1406.9 1093.5,1417.3 1094.5,1423.2 1095.5,1416.6 1096.5,1424.4 1097.5,1417.9 1098.5,1419.5 1099.5,1419.7 1100.5,1421.2 1101.5,1412.2 1102.5,1404.1 1103.5,1424.4 1104.5,1422.7 1105.5,1418.3 1106.5,1400.9 1107.5,1421.8 1108.5,1406.9 1109.5,1420.8 1110.5,1418.8 1111.5,1418.1 1112.5,1423.7 1113.5,1411.4 1114.5,1400.8 1115.5,1424.1 1116.5,1411.6 1117.5,1413.2 1118.5,1418.2 1119.5,1412.3 1120.5,1413.8 1121.5,1421.5 1122.5,1403.5 1123.5,1413.6 1124.5,1414.2 1125.5,1403.7 1126.5,1410.4 1127.5,1415.7 1128.5,1409.2 1129.5,1420.5 1130.5,1405.0 1131.5,1425.2 1132.5,1412.9 1133.5,1421.9 1134.5,1416.2 1135.5,1419.9 1136.5,1420.3 1137.5,1415.2 1138.5,1413.9 1139.5,1418.4 1140.5,1417.6 1141.5,1422.6 1142.5,1421.1 1143.5,1414.9 1144.5,1423.6 1145.5,1413.5 1146.5,1420.8 1147.5,1417.2 1148.5,1416.8 1149.5,1420.6 1150.5,1415.7 1151.5,1417.0 1152.5,1412.4 1153.5,1415.4 1154.5,1413.1 1155.5,1414.6 1156.5,1408.6 1157.5,1414.5 1158.5,1416.5 1159.5,1418.9 1160.5,1410.1 1161.5,1415.7 1162.5,1417.0 1163.5,1412.5 1164.5,1418.9 1165.5,1419.5 1166.5,1416.6 1167.5,1418.1 1168.5,1418.7 1169.5,1424.1 1170.5,1421.9 1171.5,1421.6 1172.5,1417.4 1173.5,1416.8 1174.5,1420.8 1175.5,1418.2 1176.5,1417.4 1177.5,1420.0 1178.5,1419.7 1179.5,1417.5 1180.5,1419.2 1181.5,1422.3 1182.5,1420.3 1183.5,1420.5 1184.5,1421.4 1185.5,1421.6 1186.5,1420.9 1187.5,1422.6 1188.5,1422.1 1189.5,1421.4 1190.5,1424.1 1191.5,1424.2 1192.5,1424.1 1193.5,1420.3 1194.5,1423.6 1195.5,1417.8 1196.5,1422.7 1197.5,1422.5 1198.5,1420.2 1199.5,1419.8 1200.5,1420.4 1201.5,1420.1 1202.5,1421.3 1203.5,1420.2 1204.5,1420.7 1205.5,1423.4 1206.5,1425.2 1207.5,1424.7 1208.5,1423.8 1209.5,1421.1 1210.5,1423.3 1211.5,1418.0 1212.5,1421.4 1213.5,1422.7 1214.5,1422.5 1215.5,1420.7 1216.5,1418.3 1217.5,1420.3 1218.5,1419.0 1219.5,1420.6 1220.5,1421.7 1221.5,1423.3 1222.5,1415.6 1223.5,1414.9 1224.5,1409.7 1225.5,1407.4 1226.5,1408.3 1227.5,1398.9 1228.5,1404.3 1229.5,1406.4 1230.5,1406.3 1231.5,1407.1 1232.5,1407.0 1233.5,1413.0 1234.5,1415.4 1235.5,1416.6 1236.5,1413.1 1237.5,1417.5 1238.5,1418.9 1239.5,1420.5 1240.5,1420.7 1241.5,1421.0 1242.5,1422.8 1243.5,1419.7 1244.5,1416.9 1245.5,1420.6 1246.5,1422.0 1247.5,1419.8 1248.5,1421.0 1249.5,1418.8 1250.5,1421.8 1251.5,1416.5 1252.5,1421.1 1253.5,1418.2 1254.5,1421.8 1255.5,1421.1 1256.5,1419.9 1257.5,1415.9 1258.5,1416.0 1259.5,1423.9 1260.5,1418.1 1261.5,1422.1 1262.5,1419.1 1263.5,1420.7 1264.5,1418.7 1265.5,1417.8 1266.5,1419.8 1267.5,1417.4 1268.5,1421.8 1269.5,1418.1 1270.5,1413.9 1271.5,1413.4 1272.5,1413.7 1273.5,1416.4 1274.5,1414.7 1275.5,1419.1 1276.5,1417.8 1277.5,1419.8 1278.5,1420.1 1279.5,1421.5 1280.5,1417.5 1281.5,1417.4 1282.5,1422.7 1283.5,1419.9 1284.5,1419.7 1285.5,1419.8 1286.5,1421.9 1287.5,1421.2 1288.5,1419.5 1289.5,1422.3 1290.5,1418.6 1291.5,1422.3 1292.5,1419.4 1293.5,1416.9 1294.5,1419.2 1295.5,1420.2 1296.5,1423.2 1297.5,1420.1 1298.5,1418.3 1299.5,1418.8 1300.5,1421.5 1301.5,1419.2 1302.5,1421.5 1303.5,1419.6 1304.5,1422.9 1305.5,1423.5 1306.5,1422.5 1307.5,1420.1 1308.5,1421.3 1309.5,1417.4 1310.5,1420.7 1311.5,1418.6 1312.5,1420.1 1313.5,1421.2 1314.5,1420.2 1315.5,1421.9 1316.5,1423.6 1317.5,1424.7 1318.5,1424.6 1319.5,1423.1 1320.5,1419.9 1321.5,1418.6 1322.5,1425.0 1323.5,1423.2 1324.5,1421.5 1325.5,1424.7 1326.5,1420.9 1327.5,1424.1 1328.5,1424.6 1329.5,1423.1 1330.5,1425.7 1331.5,1422.5 1332.5,1427.5 1333.5,1419.5 1334.5,1423.2 1335.5,1424.1 1336.5,1420.8 1337.5,1424.0 1338.5,1420.8 1339.5,1420.1 1340.5,1418.7 1341.5,1422.9 1342.5,1423.1 1343.5,1422.1 1344.5,1423.8 1345.5,1418.1 1346.5,1420.2 1347.5,1421.5 1348.5,1420.9 1349.5,1418.6 1350.5,1419.6 1351.5,1419.8 1352.5,1419.0 1353.5,1419.6 1354.5,1425.7 1355.5,1427.5 1356.5,1421.4 1357.5,1420.7 1358.5,1423.3 1359.5,1423.9 1360.5,1422.9 1361.5,1426.1 1362.5,1420.8 1363.5,1425.9 1364.5,1420.6 1365.5,1424.0 1366.5,1425.7 1367.5,1424.7 1368.5,1422.1 1369.5,1423.2 1370.5,1422.1 1371.5,1422.9 1372.5,1423.3 1373.5,1421.5 1374.5,1427.5 1375.5,1420.5 1376.5,1427.0 1377.5,1424.8 1378.5,1424.9 1379.5,1424.4 1380.5,1420.3 1381.5,1423.5 1382.5,1422.6 1383.5,1415.2 1384.5,1419.3 1385.5,1423.6 1386.5,1422.4 1387.5,1421.8 1388.5,1421.0 1389.5,1423.6 1390.5,1423.2 1391.5,1418.1 1392.5,1420.5 1393.5,1422.3 1394.5,1419.3 1395.5,1420.5 1396.5,1417.9 1397.5,1423.2 1398.5,1417.2 1399.5,1423.2 1400.5,1418.6 1401.5,1424.3 1402.5,1426.1 1403.5,1422.9 1404.5,1419.5 1405.5,1418.7 1406.5,1421.1 1407.5,1420.6 1408.5,1417.2 1409.5,1420.5 1410.5,1425.4 1411.5,1419.0 1412.5,1422.4 1413.5,1423.1 1414.5,1423.2 1415.5,1415.2 1416.5,1423.9 1417.5,1424.4 1418.5,1421.5 1419.5,1425.7 1420.5,1423.3 1421.5,1421.1 1422.5,1423.3 1423.5,1422.9 1424.5,1422.3 1425.5,1427.5 1426.5,1418.1 1427.5,1423.2 1428.5,1422.3 1429.5,1418.9 1430.5,1418.2 1431.5,1421.1 1432.5,1421.3 1433.5,1421.9 1434.5,1416.1 1435.5,1420.8 1436.5,1424.9 1437.5,1424.6 1438.5,1418.3 1439.5,1425.8 1440.5,1421.4 1441.5,1424.3 1442.5,1423.2 1443.5,1425.1 1444.5,1422.6 1445.5,1419.7 1446.5,1420.8 1447.5,1424.3 1448.5,1422.0 1449.5,1425.7 1450.5,1422.4 1451.5,1420.7 1452.5,1424.0 1453.5,1421.5 1454.5,1423.0 1455.5,1422.7 1456.5,1423.1 1457.5,1426.2 1458.5,1418.9 1459.5,1420.8 1460.5,1425.6 1461.5,1426.1 1462.5,1423.7 1463.5,1422.0 1464.5,1423.9 1465.5,1420.4 1466.5,1422.1 1467.5,1422.5 1468.5,1422.8 1469.5,1419.4 1470.5,1422.5 1471.5,1421.4 1472.5,1421.8 1473.5,1421.4 1474.5,1424.0 1475.5,1419.1 1476.5,1423.4 1477.5,1422.0 1478.5,1419.9 1479.5,1422.1 1480.5,1424.1 1481.5,1420.1 1482.5,1423.5 1483.5,1423.1 1484.5,1423.8 1485.5,1424.6 1486.5,1424.1 1487.5,1424.6 1488.5,1423.4 1489.5,1424.0 1490.5,1417.9 1491.5,1419.0 1492.5,1423.1 1493.5,1423.5 1494.5,1419.0 1495.5,1419.4 1496.5,1425.0 1497.5,1419.0 1498.5,1422.0 1499.5,1424.5 1500.5,1423.4 1501.5,1422.2 1502.5,1422.4 1503.5,1417.6 1504.5,1423.1 1505.5,1424.2 1506.5,1419.9 1507.5,1421.1 1508.5,1422.0 1509.5,1421.9 1510.5,1424.8 1511.5,1420.6 1512.5,1423.5 1513.5,1420.2 1514.5,1417.1 1515.5,1421.7 1516.5,1420.5 1517.5,1419.5 1518.5,1421.7 1519.5,1422.9 1520.5,1424.3 1521.5,1422.0 1522.5,1419.4 1523.5,1422.3 1524.5,1423.5 1525.5,1424.3 1526.5,1426.0 1527.5,1420.4 1528.5,1423.9 1529.5,1423.7 1530.5,1423.2 1531.5,1423.4 1532.5,1422.3 1533.5,1423.2 1534.5,1423.1 1535.5,1422.8 1536.5,1420.2 1537.5,1425.0 1538.5,1420.4 1539.5,1424.2 1540.5,1419.6 1541.5,1419.3 1542.5,1421.5 1543.5,1423.2 1544.5,1424.1 1545.5,1423.6 1546.5,1426.8 1547.5,1420.8 1548.5,1425.3 1549.5,1421.4 1550.5,1424.6 1551.5,1422.6 1552.5,1424.2 1553.5,1426.6 1554.5,1423.1 1555.5,1423.8 1556.5,1421.0 1557.5,1422.2 1558.5,1416.8 1559.5,1426.8 1560.5,1423.4 1561.5,1423.4 1562.5,1424.9 1563.5,1424.5 1564.5,1423.1 1565.5,1419.0 1566.5,1417.4 1567.5,1418.7 1568.5,1422.6 1569.5,1419.4 1570.5,1419.7 1571.5,1419.5 1572.5,1417.1 1573.5,1421.0 1574.5,1419.1 1575.5,1415.1 1576.5,1415.6 1577.5,1420.0 1578.5,1415.3 1579.5,1416.4 1580.5,1417.3 1581.5,1420.2 1582.5,1420.2 1583.5,1420.4 1584.5,1421.9 1585.5,1414.7 1586.5,1416.7 1587.5,1416.8 1588.5,1418.7 1589.5,1417.8 1590.5,1412.7 1591.5,1416.7 1592.5,1414.5 1593.5,1418.3 1594.5,1412.6 1595.5,1410.1 1596.5,1411.0 1597.5,1411.8 1598.5,1405.7 1599.5,1406.2 1600.5,1406.3 1601.5,1408.3 1602.5,1407.3 1603.5,1405.9 1604.5,1410.3 1605.5,1409.4 1606.5,1412.4 1607.5,1411.8 1608.5,1413.8 1609.5,1412.1 1610.5,1412.2 1611.5,1417.5 1612.5,1409.9 1613.5,1415.6 1614.5,1414.4 1615.5,1417.7 1616.5,1414.1 1617.5,1416.7 1618.5,1416.4 1619.5,1416.3 1620.5,1412.4 1621.5,1410.4 1622.5,1411.5 1623.5,1410.1 1624.5,1413.3 1625.5,1415.2 1626.5,1413.6 1627.5,1416.3 1628.5,1413.8 1629.5,1412.5 1630.5,1410.8 1631.5,1413.4 1632.5,1414.3 1633.5,1417.4 1634.5,1411.8 1635.5,1413.7 1636.5,1410.3 1637.5,1409.5 1638.5,1412.8 1639.5,1409.5 1640.5,1408.6 1641.5,1412.4 1642.5,1413.0 1643.5,1414.7 1644.5,1416.1 1645.5,1417.6 1646.5,1412.8 1647.5,1414.9 1648.5,1412.9 1649.5,1411.6 1650.5,1415.9 1651.5,1412.8 1652.5,1416.3 1653.5,1414.3 1654.5,1412.7 1655.5,1413.4 1656.5,1416.5 1657.5,1414.4 1658.5,1414.7 1659.5,1422.2 1660.5,1421.1 1661.5,1421.6 1662.5,1425.6 1663.5,1419.7 1664.5,1424.9 1665.5,1427.1 1666.5,1423.2 1667.5,1415.5 1668.5,1418.2 1669.5,1418.6 1670.5,1416.1 1671.5,1421.0 1672.5,1416.6 1673.5,1419.9 1674.5,1420.4 1675.5,1417.6 1676.5,1417.8 1677.5,1419.0 1678.5,1419.9 1679.5,1417.4 1680.5,1421.6 1681.5,1416.8 1682.5,1417.6 1683.5,1419.5 1684.5,1421.4 1685.5,1419.1 1686.5,1420.0 1687.5,1419.7 1688.5,1423.5 1689.5,1419.9 1690.5,1415.0 1691.5,1420.3 1692.5,1422.3 1693.5,1417.1 1694.5,1416.0 1695.5,1420.6 1696.5,1421.5 1697.5,1422.3 1698.5,1417.3 1699.5,1418.8 1700.5,1426.5 1701.5,1418.2 1702.5,1421.2 1703.5,1423.3 1704.5,1423.0 1705.5,1422.3 1706.5,1423.1 1707.5,1422.1 1708.5,1423.3 1709.5,1422.6 1710.5,1421.9 1711.5,1420.7 1712.5,1424.5 1713.5,1419.4 1714.5,1424.6 1715.5,1419.9 1716.5,1422.8 1717.5,1423.0 1718.5,1427.0 1719.5,1424.4 1720.5,1423.3 1721.5,1425.6 1722.5,1427.5 1723.5,1419.8 1724.5,1424.9 1725.5,1421.9 1726.5,1423.5 1727.5,1420.3 1728.5,1422.8 1729.5,1421.2 1730.5,1421.1 1731.5,1425.4 1732.5,1417.9 1733.5,1424.5 1734.5,1419.3 1735.5,1420.1 1736.5,1421.8 1737.5,1422.6 1738.5,1422.6 1739.5,1422.2 1740.5,1417.5 1741.5,1421.1 1742.5,1423.4 1743.5,1423.2 1744.5,1424.9 1745.5,1419.1 1746.5,1422.4 1747.5,1422.0 1748.5,1422.6 1749.5,1421.0 1750.5,1421.6 1751.5,1422.4 1752.5,1421.0 1753.5,1418.5 1754.5,1420.6 1755.5,1420.2 1756.5,1421.9 1757.5,1421.0 1758.5,1421.0 1759.5,1421.8 1760.5,1419.5 1761.5,1424.7 1762.5,1423.4 1763.5,1421.5 1764.5,1423.0 1765.5,1423.8 1766.5,1419.1 1767.5,1424.9 1768.5,1419.9 1769.5,1423.2 1770.5,1421.1 1771.5,1422.0 1772.5,1425.0 1773.5,1421.1 1774.5,1424.2 1775.5,1423.4 1776.5,1421.2 1777.5,1423.7 1778.5,1421.3 1779.5,1422.0 1780.5,1423.1 1781.5,1420.4 1782.5,1421.0 1783.5,1424.4 1784.5,1426.4 1785.5,1424.2 1786.5,1418.9 1787.5,1422.0 1788.5,1422.3 1789.5,1421.6 1790.5,1422.2 1791.5,1423.2 1792.5,1422.7 1793.5,1423.4 1794.5,1422.9 1795.5,1422.1 1796.5,1422.8 1797.5,1421.3 1798.5,1425.8 1799.5,1423.1 1800.5,1420.6 1801.5,1423.8 1802.5,1418.6 1803.5,1419.8 1804.5,1422.7 1805.5,1419.5 1806.5,1418.7 1807.5,1420.2 1808.5,1422.0 1809.5,1420.2 1810.5,1421.9 1811.5,1423.7 1812.5,1420.0 1813.5,1421.2 1814.5,1427.5 1815.5,1422.6 1816.5,1421.2 1817.5,1422.1 1818.5,1420.1 1819.5,1422.1 1820.5,1423.4 1821.5,1425.0 1822.5,1420.9 1823.5,1420.9 1824.5,1416.3 1825.5,1425.5 1826.5,1422.1 1827.5,1422.4 1828.5,1421.2 1829.5,1418.9 1830.5,1421.8 1831.5,1421.8 1832.5,1417.7 1833.5,1418.1 1834.5,1422.8 1835.5,1420.7 1836.5,1419.4 1837.5,1421.4 1838.5,1418.9 1839.5,1420.8 1840.5,1417.2 1841.5,1421.5 1842.5,1423.7 1843.5,1417.9 1844.5,1418.1 1845.5,1422.1 1846.5,1419.3 1847.5,1421.4 1848.5,1419.7 1849.5,1422.6 1850.5,1419.5 1851.5,1420.0 1852.5,1419.0 1853.5,1422.0 1854.5,1421.7 1855.5,1421.5 1856.5,1420.8 1857.5,1419.1 1858.5,1417.8 1859.5,1421.7 1860.5,1419.6 1861.5,1417.9 1862.5,1420.9 1863.5,1421.2 1864.5,1421.3 1865.5,1424.1 1866.5,1423.3 1867.5,1425.7 1868.5,1421.9 1869.5,1421.3 1870.5,1426.1 1871.5,1423.7 1872.5,1422.6 1873.5,1421.3 1874.5,1423.0 1875.5,1424.3 1876.5,1419.9 1877.5,1421.6 1878.5,1421.2 1879.5,1422.9 1880.5,1420.4 1881.5,1420.8 1882.5,1419.3 1883.5,1417.9 1884.5,1421.7 1885.5,1422.4 1886.5,1421.0 1887.5,1422.1 1888.5,1423.1 1889.5,1418.7 1890.5,1420.6 1891.5,1421.7 1892.5,1426.1 1893.5,1421.4 1894.5,1418.7 1895.5,1421.1 1896.5,1420.4 1897.5,1415.2 1898.5,1418.9 1899.5,1421.8 1900.5,1422.9 1901.5,1423.0 1902.5,1424.0 1903.5,1421.4 1904.5,1425.6 1905.5,1422.5 1906.5,1418.9 1907.5,1425.6 1908.5,1420.6 1909.5,1418.5 1910.5,1421.1 1911.5,1421.1 1912.5,1419.9 1913.5,1419.9 1914.5,1423.2 1915.5,1422.3 1916.5,1420.7 1917.5,1424.9 1918.5,1420.8 1919.5,1421.2 1920.5,1420.0 1921.5,1421.6 1922.5,1420.2 1923.5,1422.5 1924.5,1424.5 1925.5,1419.4 1926.5,1418.0 1927.5,1417.9 1928.5,1419.9 1929.5,1420.6 1930.5,1420.1 1931.5,1421.3 1932.5,1420.9 1933.5,1423.5 1934.5,1419.4 1935.5,1423.1 1936.5,1423.8 1937.5,1421.2 1938.5,1427.5 1939.5,1427.3 1940.5,1425.8 1941.5,1426.8 1942.5,1419.1 1943.5,1423.4 1944.5,1424.9 1945.5,1421.0 1946.5,1423.5 1947.5,1424.1 1948.5,1424.8 1949.5,1417.3 1950.5,1424.5 1951.5,1426.6 1952.5,1422.4 1953.5,1424.3 1954.5,1418.2 1955.5,1420.4 1956.5,1419.7 1957.5,1420.0 1958.5,1424.8 1959.5,1419.5 1960.5,1422.1 1961.5,1421.5 1962.5,1417.3 1963.5,1424.5 1964.5,1420.3 1965.5,1420.8 1966.5,1420.7 1967.5,1417.9 1968.5,1422.0 1969.5,1422.9 1970.5,1421.8 1971.5,1423.0 1972.5,1424.7 1973.5,1423.0 1974.5,1418.9 1975.5,1423.5 1976.5,1420.0 1977.5,1423.5 1978.5,1420.6 1979.5,1421.5 1980.5,1420.7 1981.5,1420.2 1982.5,1421.8 1983.5,1424.6 1984.5,1420.6 1985.5,1422.6 1986.5,1420.8 1987.5,1422.2 1988.5,1420.3 1989.5,1424.8 1990.5,1423.0 1991.5,1423.5 1992.5,1422.9 1993.5,1423.0 1994.5,1420.5 1995.5,1422.9 1996.5,1422.3 1997.5,1422.6 1998.5,1418.7 1999.5,1421.0 2000.5,1423.8 2001.5,1420.8 2002.5,1420.9 2003.5,1422.7 2004.5,1421.6 2005.5,1422.8 2006.5,1421.2 2007.5,1424.1 2008.5,1421.8 2009.5,1418.3 2010.5,1421.6 2011.5,1426.4 2012.5,1422.8 2013.5,1424.2 2014.5,1424.7 2015.5,1424.4 2016.5,1421.1 2017.5,1421.8 2018.5,1425.2 2019.5,1422.2 2020.5,1416.7 2021.5,1418.5 2022.5,1424.8 2023.5,1420.6 2024.5,1418.0 2025.5,1422.3 2026.5,1419.8 2027.5,1419.1 2028.5,1418.4 2029.5,1420.4 2030.5,1421.4 2031.5,1419.6 2032.5,1420.2 2033.5,1424.4 2034.5,1420.6 2035.5,1421.2 2036.5,1421.8 2037.5,1420.3 2038.5,1420.4 2039.5,1420.5 2040.5,1422.4 2041.5,1420.3 2042.5,1420.6 2043.5,1425.5 2044.5,1417.0 2045.5,1420.9 2046.5,1417.5 2047.5,1425.0 2048.5,1417.1 2049.5,1421.9 2050.5,1423.2 2051.5,1418.6 2052.5,1414.3 2053.5,1422.1 2054.5,1418.3 2055.5,1421.0 2056.5,1418.5 2057.5,1419.6 2058.5,1421.5 2059.5,1420.9 2060.5,1424.7 2061.5,1420.6 2062.5,1424.4 2063.5,1423.7 2064.5,1420.3 2065.5,1427.3 2066.5,1423.6 2067.5,1422.2 2068.5,1420.2 2069.5,1422.5 2070.5,1424.3 2071.5,1420.6 2072.5,1424.7 2073.5,1421.8 2074.5,1423.1 2075.5,1424.4 2076.5,1423.8 2077.5,1423.5 2078.5,1423.0 2079.5,1421.1 2080.5,1422.8 2081.5,1422.9 2082.5,1421.5 2083.5,1423.9 2084.5,1420.7 2085.5,1425.9"/>
<polyline stroke="#00ff00" points="303.5,1404.0 304.5,1411.3 305.5,1412.3 306.5,1409.3 307.5,1408.0 308.5,1413.1 309.5,1411.1 310.5,1409.9 311.5,1408.4 312.5,1405.9 313.5,1418.5 314.5,1409.3 315.5,1407.1 316.5,1413.6 317.5,1406.4 318.5,1411.0 319.5,1410.4 320.5,1415.5 321.5,1404.0 322.5,1401.7 323.5,1410.6 324.5,1416.7 325.5,1415.4 326.5,1413.3 327.5,1412.8 328.5,1414.3 329.5,1410.4 330.5,1415.6 331.5,1413.0 332.5,1411.4 333.5,1410.2 334.5,1415.2 335.5,1408.3 336.5,1417.0 337.5,1410.6 338.5,1416.2 339.5,1413.5 340.5,1410.4 341.5,1404.6 342.5,1406.4 343.5,1416.1 344.5,1418.1 345.5,1416.8 346.5,1407.6 347.5,1414.7 348.5,1404.9 349.5,1411.5 350.5,1415.3 351.5,1412.9 352.5,1408.1 353.5,1411.3 354.5,1414.0 355.5,1408.3 356.5,1406.8 357.5,1412.9 358.5,1412.2 359.5,1407.2 360.5,1409.9 361.5,1412.6 362.5,1411.5 363.5,1406.7 364.5,1408.5 365.5,1410.1 366.5,1417.2 367.5,1410.0 368.5,1411.5 369.5,1409.2 370.5,1402.3 371.5,1407.1 372.5,1411.3 373.5,1405.6 374.5,1417.1 375.5,1404.6 376.5,1412.0 377.5,1410.8 378.5,1413.9 379.5,1410.6 380.5,1419.1 381.5,1418.9 382.5,1423.5 383.5,1423.0 384.5,1414.1 385.5,1418.5 386.5,1411.2 387.5,1418.7 388.5,1414.6 389.5,1420.7 390.5,1410.0 391.5,1414.2 392.5,1409.9 393.5,1404.9 394.5,1398.1 395.5,1403.7 396.5,1406.1 397.5,1407.9 398.5,1412.9 399.5,1409.9 400.5,1405.6 401.5,1410.2 402.5,1407.8 403.5,1410.7 404.5,1403.2 405.5,1408.6 406.5,1412.2 407.5,1404.7 408.5,1411.7 409.5,1408.0 410.5,1401.2 411.5,1404.8 412.5,1412.0 413.5,1413.9 414.5,1410.1 415.5,1410.8 416.5,1413.0 417.5,1409.9 418.5,1411.6 419.5,1412.1 420.5,1417.3 421.5,1416.1 422.5,1407.5 423.5,1413.9 424.5,1400.7 425.5,1412.7 426.5,1410.1 427.5,1408.2 428.5,1405.8 429.5,1409.0 430.5,1409.1 431.5,1417.3 432.5,1413.8 433.5,1408.4 434.5,1411.0 435.5,1404.3 436.5,1409.6 437.5,1409.1 438.5,1407.6 439.5,1406.5 440.5,1414.0 441.5,1413.4 442.5,1419.6 443.5,1414.6 444.5,1409.6 445.5,1409.3 446.5,1405.9 447.5,1411.6 448.5,1407.8 449.5,1417.0 450.5,1411.3 451.5,1404.3 452.5,1417.3 453.5,1413.8 454.5,1410.9 455.5,1413.4 456.5,1414.7 457.5,1407.6 458.5,1409.7 459.5,1403.1 460.5,1406.6 461.5,1406.9 462.5,1408.8 463.5,1405.4 464.5,1410.2 465.5,1409.4 466.5,1406.4 467.5,1409.6 468.5,1401.8 469.5,1413.3 470.5,1409.0 471.5,1402.5 472.5,1404.1 473.5,1408.1 474.5,1405.3 475.5,1413.3 476.5,1411.1 477.5,1417.3 478.5,1410.9 479.5,1408.6 480.5,1406.3 481.5,1413.2 482.5,1404.2 483.5,1407.1 484.5,1408.2 485.5,1413.2 486.5,1409.2 487.5,1412.8 488.5,1408.6 489.5,1405.5 490.5,1410.4 491.5,1414.4 492.5,1410.3 493.5,1411.3 494.5,1407.8 495.5,1409.7 496.5,1405.5 497.5,1419.1 498.5,1412.2 499.5,1413.2 500.5,1411.7 501.5,1418.2 502.5,1407.4 503.5,1410.7 504.5,1413.4 505.5,1408.6 506.5,1406.1 507.5,1409.4 508.5,1409.8 509.5,1412.9 510.5,1404.4 511.5,1415.8 512.5,1402.2 513.5,1414.4 514.5,1413.0 515.5,1407.0 516.5,1410.2 517.5,1406.4 518.5,1410.0 519.5,1407.4 520.5,1403.5 521.5,1411.5 522.5,1415.5 523.5,1408.4 524.5,1409.5 525.5,1404.4 526.5,1407.6 527.5,1413.5 528.5,1407.9 529.5,1413.2 530.5,1407.6 531.5,1409.5 532.5,1406.9 533.5,1411.1 534.5,1404.9 535.5,1407.2 536.5,1411.6 537.5,1410.3 538.5,1408.0 539.5,1414.8 540.5,1415.2 541.5,1403.3 542.5,1413.3 543.5,1412.4 544.5,1412.9 545.5,1411.9 546.5,1405.8 547.5,1404.5 548.5,1406.2 549.5,1407.3 550.5,1411.2 551.5,1406.2 552.5,1409.8 553.5,1407.0 554.5,1410.3 555.5,1409.6 556.5,1404.2 557.5,1408.0 558.5,1406.4 559.5,1402.5 560.5,1410.5 561.5,1402.2 562.5,1406.3 563.5,1407.6 564.5,1402.4 565.5,1400.7 566.5,1404.4 567.5,1412.5 568.5,1407.0 569.5,1409.6 570.5,1412.2 571.5,1411.9 572.5,1409.9 573.5,1409.6 574.5,1412.6 575.5,1409.8 576.5,1416.2 577.5,1414.7 578.5,1406.3 579.5,1404.1 580.5,1410.7 581.5,1409.9 582.5,1408.4 583.5,1409.4 584.5,1410.2 585.5,1411.5 586.5,1410.1 587.5,1407.8 588.5,1412.5 589.5,1411.3 590.5,1410.7 591.5,1411.5 592.5,1414.4 593.5,1408.3 594.5,1415.1 595.5,1412.1 596.5,1407.7 597.5,1407.9 598.5,1408.3 599.5,1409.8 600.5,1400.2 601.5,1405.0 602.5,1398.4 603.5,1412.2 604.5,1409.6 605.5,1403.4 606.5,1406.5 607.5,1407.4 608.5,1405.5 609.5,1405.2 610.5,1409.3 611.5,1409.0 612.5,1413.2 613.5,1405.2 614.5,1403.8 615.5,1404.2 616.5,1409.7 617.5,1412.4 618.5,1404.3 619.5,1409.5 620.5,1409.3 621.5,1400.8 622.5,1406.4 623.5,1407.9 624.5,1403.2 625.5,1407.8 626.5,1404.9 627.5,1403.2 628.5,1411.9 629.5,1416.0 630.5,1411.0 631.5,1405.7 632.5,1403.6 633.5,1404.3 634.5,1405.7 635.5,1404.7 636.5,1410.5 637.5,1415.0 638.5,1406.5 639.5,1408.9 640.5,1407.6 641.5,1409.5 642.5,1402.5 643.5,1410.6 644.5,1407.4 645.5,1400.3 646.5,1406.1 647.5,1406.1 648.5,1404.1 649.5,1407.4 650.5,1404.6 651.5,1404.1 652.5,1407.2 653.5,1406.9 654.5,1409.4 655.5,1410.5 656.5,1412.8 657.5,1402.9 658.5,1404.7 659.5,1412.4 660.5,1404.6 661.5,1405.8 662.5,1402.4 663.5,1404.8 664.5,1406.3 665.5,1407.8 666.5,1408.9 667.5,1402.2 668.5,1404.3 669.5,1403.8 670.5,1405.9 671.5,1406.2 672.5,1410.3 673.5,1411.0 674.5,1408.9 675.5,1406.9 676.5,1406.0 677.5,1407.6 678.5,1406.7 679.5,1401.5 680.5,1415.3 681.5,1412.5 682.5,1405.2 683.5,1413.8 684.5,1403.3 685.5,1403.4 686.5,1410.9 687.5,1409.1 688.5,1407.2 689.5,1410.5 690.5,1404.7 691.5,1406.5 692.5,1414.4 693.5,1412.6 694.5,1403.5 695.5,1410.6 696.5,1406.6 697.5,1407.6 698.5,1406.9 699.5,1409.8 700.5,1406.9 701.5,1403.2 702.5,1408.9 703.5,1408.0 704.5,1408.5 705.5,1407.8 706.5,1397.4 707.5,1405.0 708.5,1410.2 709.5,1413.0 710.5,1402.0 711.5,1407.2 712.5,1405.0 713.5,1404.0 714.5,1402.0 715.5,1410.9 716.5,1408.4 717.5,1405.2 718.5,1404.7 719.5,1407.4 720.5,1403.0 721.5,1410.2 722.5,1410.6 723.5,1409.1 724.5,1405.6 725.5,1398.0 726.5,1408.6 727.5,1408.7 728.5,1411.7 729.5,1401.0 730.5,1407.5 731.5,1403.7 732.5,1399.0 733.5,1407.7 734.5,1406.9 735.5,1400.5 736.5,1400.5 737.5,1402.0 738.5,1397.0 739.5,1401.4 740.5,1402.0 741.5,1404.3 742.5,1405.0 743.5,1404.1 744.5,1399.0 745.5,1402.6 746.5,1405.4 747.5,1406.8 748.5,1410.8 749.5,1406.3 750.5,1405.7 751.5,1402.7 752.5,1410.3 753.5,1400.9 754.5,1405.8 755.5,1406.2 756.5,1407.0 757.5,1413.3 758.5,1405.4 759.5,1398.6 760.5,1411.3 761.5,1412.8 762.5,1407.5 763.5,1409.9 764.5,1414.3 765.5,1410.5 766.5,1409.2 767.5,1413.2 768.5,1406.6 769.5,1402.9 770.5,1407.9 771.5,1405.9 772.5,1408.7 773.5,1409.7 774.5,1403.2 775.5,1411.2 776.5,1402.1 777.5,1409.7 778.5,1409.1 779.5,1412.8 780.5,1408.9 781.5,1404.0 782.5,1405.8 783.5,1404.2 784.5,1401.4 785.5,1406.7 786.5,1404.3 787.5,1397.0 788.5,1408.1 789.5,1401.7 790.5,1410.3 791.5,1404.3 792.5,1400.6 793.5,1408.9 794.5,1405.3 795.5,1410.4 796.5,1404.3 797.5,1408.6 798.5,1404.4 799.5,1401.8 800.5,1407.2 801.5,1408.7 802.5,1403.6 803.5,1413.2 804.5,1407.7 805.5,1410.0 806.5,1413.8 807.5,1404.2 808.5,1408.3 809.5,1409.4 810.5,1407.5 811.5,1409.5 812.5,1411.2 813.5,1407.6 814.5,1407.7 815.5,1407.4 816.5,1408.1 817.5,1410.9 818.5,1403.1 819.5,1407.0 820.5,1405.2 821.5,1412.9 822.5,1407.9 823.5,1406.8 824.5,1400.7 825.5,1405.3 826.5,1406.6 827.5,1405.5 828.5,1409.0 829.5,1407.2 830.5,1404.5 831.5,1401.1 832.5,1409.7 833.5,1394.4 834.5,1403.6 835.5,1401.6 836.5,1407.3 837.5,1404.7 838.5,1404.5 839.5,1403.8 840.5,1407.8 841.5,1409.3 842.5,1407.4 843.5,1404.2 844.5,1396.9 845.5,1408.8 846.5,1408.5 847.5,1409.8 848.5,1409.7 849.5,1402.7 850.5,1408.5 851.5,1408.0 852.5,1403.2 853.5,1406.9 854.5,1407.3 855.5,1409.5 856.5,1408.0 857.5,1407.8 858.5,1404.3 859.5,1401.9 860.5,1406.0 861.5,1405.5 862.5,1403.5 863.5,1403.0 864.5,1399.6 865.5,1399.0 866.5,1403.2 867.5,1403.2 868.5,1405.2 869.5,1404.0 870.5,1399.3 871.5,1399.6 872.5,1411.2 873.5,1402.0 874.5,1403.6 875.5,1400.4 876.5,1397.1 877.5,1403.0 878.5,1404.8 879.5,1400.0 880.5,1401.5 881.5,1398.3 882.5,1404.6 883.5,1406.5 884.5,1405.1 885.5,1407.7 886.5,1404.6 887.5,1401.5 888.5,1405.0 889.5,1409.8 890.5,1406.1 891.5,1399.5 892.5,1397.8 893.5,1396.6 894.5,1399.0 895.5,1400.4 896.5,1394.7 897.5,1390.2 898.5,1390.1 899.5,1391.9 900.5,1384.4 901.5,1381.1 902.5,1390.2 903.5,1385.4 904.5,1377.8 905.5,1378.4 906.5,1378.8 907.5,1376.9 908.5,1379.5 909.5,1379.2 910.5,1374.6 911.5,1381.4 912.5,1378.4 913.5,1366.1 914.5,1371.6 915.5,1363.8 916.5,1361.0 917.5,1358.1 918.5,1356.9 919.5,1364.7 920.5,1349.4 921.5,1353.7 922.5,1355.4 923.5,1358.6 924.5,1356.0 925.5,1371.0 926.5,1368.5 927.5,1362.5 928.5,1375.9 929.5,1370.9 930.5,1372.0 931.5,1373.7 932.5,1380.4 933.5,1375.4 934.5,1378.7 935.5,1380.3 936.5,1381.2 937.5,1381.3 938.5,1378.3 939.5,1384.5 940.5,1379.3 941.5,1379.2 942.5,1382.6 943.5,1380.3 944.5,1379.6 945.5,1381.6 946.5,1385.4 947.5,1378.7 948.5,1378.8 949.5,1374.4 950.5,1377.8 951.5,1364.9 952.5,1370.1 953.5,1362.6 954.5,1364.4 955.5,1368.7 956.5,1365.9 957.5,1358.2 958.5,1359.6 959.5,1357.4 960.5,1358.9 961.5,1356.7 962.5,1362.7 963.5,1351.7 964.5,1354.0 965.5,1361.6 966.5,1363.3 967.5,1367.7 968.5,1365.9 969.5,1366.6 970.5,1364.7 971.5,1371.1 972.5,1373.3 973.5,1373.3 974.5,1378.4 975.5,1379.8 976.5,1380.7 977.5,1378.4 978.5,1380.5 979.5,1385.7 980.5,1384.0 981.5,1387.5 982.5,1391.4 983.5,1394.9 984.5,1390.3 985.5,1392.8 986.5,1393.9 987.5,1395.9 988.5,1393.8 989.5,1399.1 990.5,1394.3 991.5,1397.8 992.5,1397.7 993.5,1397.3 994.5,1405.8 995.5,1396.9 996.5,1387.9 997.5,1399.8 998.5,1390.9 999.5,1396.1 1000.5,1388.1 1001.5,1391.6 1002.5,1388.9 1003.5,1388.7 1004.5,1375.8 1005.5,1370.5 1006.5,1372.9 1007.5,1344.3 1008.5,1310.9 1009.5,1277.4 1010.5,1239.1 1011.5,1209.7 1012.5,1190.4 1013.5,1188.2 1014.5,1185.4 1015.5,1184.9 1016.5,1167.1 1017.5,1161.1 1018.5,1140.9 1019.5,1128.1 1020.5,1121.2 1021.5,1112.1 1022.5,1119.9 1023.5,1124.6 1024.5,1127.3 1025.5,1139.2 1026.5,1158.8 1027.5,1169.9 1028.5,1181.1 1029.5,1194.6 1030.5,1215.3 1031.5,1237.2 1032.5,1249.7 1033.5,1268.1 1034.5,1260.8 1035.5,1276.1 1036.5,1290.3 1037.5,1295.5 1038.5,1288.0 1039.5,1293.5 1040.5,1298.3 1041.5,1301.9 1042.5,1303.9 1043.5,1304.1 1044.5,1299.2 1045.5,1293.5 1046.5,1285.0 1047.5,1280.0 1048.5,1266.1 1049.5,1264.5 1050.5,1266.6 1051.5,1277.7 1052.5,1288.6 1053.5,1289.8 1054.5,1293.2 1055.5,1304.7 1056.5,1305.2 1057.5,1296.5 1058.5,1292.6 1059.5,1293.8 1060.5,1287.8 1061.5,1284.0 1062.5,1278.3 1063.5,1282.7 1064.5,1273.3 1065.5,1271.2 1066.5,1267.4 1067.5,1263.8 1068.5,1272.9 1069.5,1273.0 1070.5,1271.8 1071.5,1282.1 1072.5,1298.1 1073.5,1310.5 1074.5,1318.0 1075.5,1329.5 1076.5,1331.6 1077.5,1343.2 1078.5,1347.0 1079.5,1349.8 1080.5,1357.9 1081.5,1359.7 1082.5,1362.0 1083.5,1360.7 1084.5,1369.2 1085.5,1360.7 1086.5,1368.7 1087.5,1371.3 1088.5,1363.1 1089.5,1371.4 1090.5,1368.6 1091.5,1370.2 1092.5,1375.1 1093.5,1379.3 1094.5,1378.0 1095.5,1380.8 1096.5,1377.3 1097.5,1384.0 1098.5,1384.0 1099.5,1383.3 1100.5,1386.4 1101.5,1376.4 1102.5,1386.8 1103.5,1386.2 1104.5,1382.1 1105.5,1379.1 1106.5,1389.9 1107.5,1384.5 1108.5,1388.4 1109.5,1385.8 1110.5,1384.5 1111.5,1388.7 1112.5,1387.3 1113.5,1393.5 1114.5,1391.7 1115.5,1387.1 1116.5,1388.6 1117.5,1387.3 1118.5,1389.5 1119.5,1391.7 1120.5,1391.0 1121.5,1397.7 1122.5,1393.9 1123.5,1395.9 1124.5,1388.8 1125.5,1400.2 1126.5,1397.5 1127.5,1397.3 1128.5,1398.4 1129.5,1398.5 1130.5,1398.6 1131.5,1397.0 1132.5,1395.7 1133.5,1398.1 1134.5,1400.6 1135.5,1400.5 1136.5,1399.8 1137.5,1393.4 1138.5,1392.1 1139.5,1402.5 1140.5,1402.0 1141.5,1403.5 1142.5,1401.5 1143.5,1402.4 1144.5,1393.1 1145.5,1390.2 1146.5,1396.0 1147.5,1401.4 1148.5,1390.8 1149.5,1403.8 1150.5,1396.0 1151.5,1401.7 1152.5,1400.1 1153.5,1402.7 1154.5,1399.9 1155.5,1395.4 1156.5,1403.7 1157.5,1402.4 1158.5,1400.5 1159.5,1400.3 1160.5,1389.0 1161.5,1395.1 1162.5,1397.1 1163.5,1394.2 1164.5,1403.6 1165.5,1396.0 1166.5,1406.1 1167.5,1397.9 1168.5,1401.0 1169.5,1400.5 1170.5,1404.1 1171.5,1393.4 1172.5,1399.0 1173.5,1390.0 1174.5,1401.4 1175.5,1400.1 1176.5,1390.7 1177.5,1398.8 1178.5,1397.4 1179.5,1403.2 1180.5,1402.5 1181.5,1400.6 1182.5,1404.4 1183.5,1401.3 1184.5,1398.8 1185.5,1405.0 1186.5,1404.2 1187.5,1401.6 1188.5,1402.1 1189.5,1406.0 1190.5,1400.7 1191.5,1400.7 1192.5,1408.9 1193.5,1404.3 1194.5,1400.1 1195.5,1405.7 1196.5,1403.3 1197.5,1400.9 1198.5,1401.6 1199.5,1399.7 1200.5,1392.9 1201.5,1400.2 1202.5,1402.1 1203.5,1405.1 1204.5,1397.5 1205.5,1398.9 1206.5,1405.9 1207.5,1402.0 1208.5,1406.7 1209.5,1391.7 1210.5,1400.8 1211.5,1397.0 1212.5,1400.5 1213.5,1396.7 1214.5,1397.7 1215.5,1392.4 1216.5,1393.8 1217.5,1396.8 1218.5,1395.5 1219.5,1391.4 1220.5,1398.0 1221.5,1386.8 1222.5,1383.3 1223.5,1378.5 1224.5,1370.3 1225.5,1364.3 1226.5,1355.1 1227.5,1345.2 1228.5,1344.3 1229.5,1347.7 1230.5,1347.2 1231.5,1351.8 1232.5,1362.3 1233.5,1378.2 1234.5,1384.2 1235.5,1382.1 1236.5,1391.0 1237.5,1395.3 1238.5,1400.0 1239.5,1395.9 1240.5,1393.9 1241.5,1398.4 1242.5,1397.5 1243.5,1395.4 1244.5,1396.2 1245.5,1397.3 1246.5,1394.7 1247.5,1405.8 1248.5,1393.0 1249.5,1404.0 1250.5,1407.0 1251.5,1401.1 1252.5,1396.3 1253.5,1403.6 1254.5,1398.6 1255.5,1397.3 1256.5,1405.6 1257.5,1402.1 1258.5,1404.1 1259.5,1396.7 1260.5,1400.7 1261.5,1397.5 1262.5,1394.1 1263.5,1390.0 1264.5,1395.6 1265.5,1393.9 1266.5,1393.0 1267.5,1391.4 1268.5,1388.5 1269.5,1390.8 1270.5,1387.7 1271.5,1383.5 1272.5,1377.2 1273.5,1383.1 1274.5,1387.3 1275.5,1383.1 1276.5,1382.3 1277.5,1386.6 1278.5,1393.5 1279.5,1392.8 1280.5,1390.7 1281.5,1390.6 1282.5,1397.5 1283.5,1399.5 1284.5,1397.6 1285.5,1399.3 1286.5,1401.7 1287.5,1399.7 1288.5,1401.8 1289.5,1407.3 1290.5,1406.5 1291.5,1404.2 1292.5,1410.3 1293.5,1402.9 1294.5,1406.7 1295.5,1395.0 1296.5,1404.4 1297.5,1405.1 1298.5,1402.2 1299.5,1398.8 1300.5,1401.8 1301.5,1407.7 1302.5,1404.7 1303.5,1407.9 1304.5,1406.4 1305.5,1406.8 1306.5,1408.0 1307.5,1402.8 1308.5,1409.3 1309.5,1407.9 1310.5,1403.5 1311.5,1400.5 1312.5,1406.2 1313.5,1404.3 1314.5,1397.2 1315.5,1406.2 1316.5,1400.2 1317.5,1407.5 1318.5,1406.3 1319.5,1410.0 1320.5,1409.1 1321.5,1402.7 1322.5,1407.9 1323.5,1403.7 1324.5,1400.4 1325.5,1395.9 1326.5,1408.0 1327.5,1400.0 1328.5,1403.7 1329.5,1401.8 1330.5,1411.2 1331.5,1411.5 1332.5,1406.4 1333.5,1408.0 1334.5,1402.0 1335.5,1400.0 1336.5,1407.2 1337.5,1403.9 1338.5,1404.5 1339.5,1404.9 1340.5,1401.8 1341.5,1409.2 1342.5,1403.4 1343.5,1408.3 1344.5,1409.4 1345.5,1404.5 1346.5,1405.8 1347.5,1405.6 1348.5,1402.4 1349.5,1400.7 1350.5,1401.3 1351.5,1411.0 1352.5,1407.0 1353.5,1408.5 1354.5,1408.1 1355.5,1405.5 1356.5,1409.0 1357.5,1404.3 1358.5,1408.0 1359.5,1397.4 1360.5,1408.1 1361.5,1403.4 1362.5,1403.1 1363.5,1405.8 1364.5,1403.4 1365.5,1405.8 1366.5,1410.9 1367.5,1406.5 1368.5,1413.7 1369.5,1408.0 1370.5,1404.5 1371.5,1396.2 1372.5,1400.7 1373.5,1401.7 1374.5,1401.1 1375.5,1403.4 1376.5,1406.5 1377.5,1406.3 1378.5,1407.0 1379.5,1399.5 1380.5,1404.4 1381.5,1405.2 1382.5,1405.0 1383.5,1406.4 1384.5,1407.7 1385.5,1401.2 1386.5,1407.8 1387.5,1408.2 1388.5,1408.2 1389.5,1415.0 1390.5,1413.4 1391.5,1409.6 1392.5,1410.9 1393.5,1411.0 1394.5,1401.1 1395.5,1410.4 1396.5,1403.5 1397.5,1411.5 1398.5,1408.9 1399.5,1412.6 1400.5,1412.3 1401.5,1409.0 1402.5,1414.1 1403.5,1406.4 1404.5,1402.3 1405.5,1403.2 1406.5,1402.5 1407.5,1405.5 1408.5,1401.4 1409.5,1403.8 1410.5,1398.0 1411.5,1412.6 1412.5,1405.2 1413.5,1408.4 1414.5,1408.4 1415.5,1413.8 1416.5,1408.0 1417.5,1406.1 1418.5,1405.0 1419.5,1404.4 1420.5,1413.8 1421.5,1405.4 1422.5,1402.9 1423.5,1400.2 1424.5,1402.8 1425.5,1399.5 1426.5,1404.4 1427.5,1403.4 1428.5,1411.9 1429.5,1407.7 1430.5,1408.3 1431.5,1406.3 1432.5,1402.4 1433.5,1408.1 1434.5,1404.8 1435.5,1409.8 1436.5,1404.2 1437.5,1406.3 1438.5,1407.5 1439.5,1405.3 1440.5,1405.9 1441.5,1407.1 1442.5,1408.5 1443.5,1403.2 1444.5,1405.2 1445.5,1401.2 1446.5,1410.1 1447.5,1408.2 1448.5,1404.2 1449.5,1408.1 1450.5,1411.6 1451.5,1404.6 1452.5,1398.7 1453.5,1409.2 1454.5,1410.5 1455.5,1405.2 1456.5,1408.4 1457.5,1409.6 1458.5,1406.7 1459.5,1405.6 1460.5,1403.4 1461.5,1402.9 1462.5,1409.9 1463.5,1405.5 1464.5,1402.2 1465.5,1396.5 1466.5,1404.3 1467.5,1403.9 1468.5,1400.7 1469.5,1400.2 1470.5,1401.9 1471.5,1402.9 1472.5,1402.9 1473.5,1391.5 1474.5,1406.9 1475.5,1404.0 1476.5,1404.9 1477.5,1406.0 1478.5,1407.2 1479.5,1404.6 1480.5,1406.7 1481.5,1417.0 1482.5,1407.0 1483.5,1395.9 1484.5,1402.9 1485.5,1413.2 1486.5,1401.1 1487.5,1404.3 1488.5,1410.7 1489.5,1404.6 1490.5,1408.4 1491.5,1408.1 1492.5,1406.3 1493.5,1413.0 1494.5,1406.8 1495.5,1410.6 1496.5,1402.4 1497.5,1418.8 1498.5,1409.8 1499.5,1411.4 1500.5,1408.8 1501.5,1407.5 1502.5,1405.2 1503.5,1409.8 1504.5,1406.7 1505.5,1410.0 1506.5,1404.2 1507.5,1401.2 1508.5,1410.1 1509.5,1409.9 1510.5,1406.4 1511.5,1402.8 1512.5,1405.5 1513.5,1412.4 1514.5,1411.9 1515.5,1406.4 1516.5,1400.3 1517.5,1410.0 1518.5,1408.6 1519.5,1410.3 1520.5,1408.1 1521.5,1403.2 1522.5,1409.8 1523.5,1416.8 1524.5,1411.4 1525.5,1413.1 1526.5,1406.7 1527.5,1405.3 1528.5,1409.9 1529.5,1408.3 1530.5,1401.2 1531.5,1402.2 1532.5,1405.2 1533.5,1411.3 1534.5,1405.4 1535.5,1406.2 1536.5,1407.1 1537.5,1414.5 1538.5,1418.2 1539.5,1405.7 1540.5,1399.7 1541.5,1414.8 1542.5,1407.9 1543.5,1400.9 1544.5,1406.7 1545.5,1404.2 1546.5,1406.1 1547.5,1401.6 1548.5,1411.0 1549.5,1407.1 1550.5,1400.8 1551.5,1410.4 1552.5,1403.9 1553.5,1408.7 1554.5,1400.8 1555.5,1403.4 1556.5,1406.1 1557.5,1396.5 1558.5,1406.4 1559.5,1399.0 1560.5,1398.2 1561.5,1399.9 1562.5,1400.1 1563.5,1400.0 1564.5,1397.7 1565.5,1399.0 1566.5,1396.6 1567.5,1389.8 1568.5,1392.6 1569.5,1384.6 1570.5,1387.6 1571.5,1389.1 1572.5,1385.3 1573.5,1388.9 1574.5,1381.9 1575.5,1383.4 1576.5,1373.4 1577.5,1368.0 1578.5,1372.1 1579.5,1371.9 1580.5,1369.3 1581.5,1369.4 1582.5,1366.8 1583.5,1365.5 1584.5,1363.7 1585.5,1364.6 1586.5,1361.6 1587.5,1360.8 1588.5,1364.0 1589.5,1356.6 1590.5,1353.2 1591.5,1352.3 1592.5,1355.8 1593.5,1349.0 1594.5,1331.9 1595.5,1320.4 1596.5,1302.7 1597.5,1301.9 1598.5,1298.2 1599.5,1297.0 1600.5,1295.2 1601.5,1302.9 1602.5,1303.4 1603.5,1305.3 1604.5,1306.0 1605.5,1319.2 1606.5,1314.7 1607.5,1318.2 1608.5,1320.2 1609.5,1329.2 1610.5,1325.4 1611.5,1330.2 1612.5,1343.7 1613.5,1340.5 1614.5,1343.6 1615.5,1345.0 1616.5,1338.9 1617.5,1339.1 1618.5,1336.9 1619.5,1340.8 1620.5,1339.9 1621.5,1336.7 1622.5,1332.8 1623.5,1331.7 1624.5,1336.3 1625.5,1335.1 1626.5,1326.3 1627.5,1326.6 1628.5,1325.8 1629.5,1330.6 1630.5,1325.5 1631.5,1325.0 1632.5,1321.5 1633.5,1320.5 1634.5,1316.6 1635.5,1316.7 1636.5,1321.2 1637.5,1320.7 1638.5,1319.1 1639.5,1327.6 1640.5,1323.0 1641.5,1320.5 1642.5,1330.4 1643.5,1325.5 1644.5,1338.0 1645.5,1326.1 1646.5,1333.1 1647.5,1335.5 1648.5,1337.4 1649.5,1337.2 1650.5,1338.9 1651.5,1334.4 1652.5,1338.4 1653.5,1348.4 1654.5,1352.5 1655.5,1358.2 1656.5,1355.4 1657.5,1355.4 1658.5,1354.5 1659.5,1359.0 1660.5,1365.4 1661.5,1360.6 1662.5,1357.2 1663.5,1364.9 1664.5,1362.5 1665.5,1359.2 1666.5,1366.3 1667.5,1368.4 1668.5,1371.3 1669.5,1374.3 1670.5,1380.7 1671.5,1373.2 1672.5,1385.0 1673.5,1380.8 1674.5,1385.1 1675.5,1385.9 1676.5,1388.6 1677.5,1386.5 1678.5,1390.8 1679.5,1392.3 1680.5,1394.2 1681.5,1393.1 1682.5,1397.8 1683.5,1398.0 1684.5,1399.6 1685.5,1396.0 1686.5,1392.1 1687.5,1405.6 1688.5,1401.2 1689.5,1400.5 1690.5,1401.0 1691.5,1409.3 1692.5,1400.2 1693.5,1395.0 1694.5,1407.3 1695.5,1406.9 1696.5,1398.9 1697.5,1396.9 1698.5,1405.3 1699.5,1411.6 1700.5,1411.6 1701.5,1407.6 1702.5,1408.2 1703.5,1413.5 1704.5,1407.0 1705.5,1404.9 1706.5,1409.9 1707.5,1404.5 1708.5,1402.8 1709.5,1404.7 1710.5,1401.0 1711.5,1405.1 1712.5,1406.4 1713.5,1403.4 1714.5,1408.0 1715.5,1409.3 1716.5,1410.5 1717.5,1411.4 1718.5,1415.5 1719.5,1407.0 1720.5,1407.2 1721.5,1412.6 1722.5,1412.5 1723.5,1407.4 1724.5,1403.7 1725.5,1410.4 1726.5,1402.7 1727.5,1409.3 1728.5,1403.4 1729.5,1407.3 1730.5,1405.2 1731.5,1409.8 1732.5,1406.0 1733.5,1409.0 1734.5,1407.5 1735.5,1404.9 1736.5,1403.7 1737.5,1413.0 1738.5,1407.9 1739.5,1408.2 1740.5,1405.1 1741.5,1404.7 1742.5,1409.4 1743.5,1411.7 1744.5,1407.6 1745.5,1401.8 1746.5,1405.4 1747.5,1403.5 1748.5,1407.5 1749.5,1399.3 1750.5,1408.5 1751.5,1404.9 1752.5,1407.1 1753.5,1410.3 1754.5,1405.7 1755.5,1406.2 1756.5,1410.2 1757.5,1407.3 1758.5,1409.9 1759.5,1404.0 1760.5,1406.7 1761.5,1411.1 1762.5,1401.5 1763.5,1407.8 1764.5,1408.0 1765.5,1408.1 1766.5,1409.1 1767.5,1406.9 1768.5,1413.1 1769.5,1406.2 1770.5,1412.3 1771.5,1403.0 1772.5,1414.6 1773.5,1407.8 1774.5,1405.2 1775.5,1405.8 1776.5,1409.6 1777.5,1407.4 1778.5,1406.1 1779.5,1404.2 1780.5,1404.3 1781.5,1403.6 1782.5,1403.2 1783.5,1404.2 1784.5,1406.6 1785.5,1401.6 1786.5,1403.5 1787.5,1410.4 1788.5,1413.2 1789.5,1409.0 1790.5,1407.8 1791.5,1419.5 1792.5,1408.7 1793.5,1410.6 1794.5,1409.2 1795.5,1405.4 1796.5,1410.7 1797.5,1408.1 1798.5,1411.2 1799.5,1408.2 1800.5,1413.3 1801.5,1409.9 1802.5,1410.3 1803.5,1406.9 1804.5,1410.0 1805.5,1406.7 1806.5,1412.3 1807.5,1402.1 1808.5,1408.3 1809.5,1412.3 1810.5,1411.2 1811.5,1402.6 1812.5,1401.9 1813.5,1406.8 1814.5,1410.1 1815.5,1410.6 1816.5,1407.9 1817.5,1402.2 1818.5,1410.9 1819.5,1403.6 1820.5,1404.9 1821.5,1410.9 1822.5,1406.8 1823.5,1404.2 1824.5,1407.1 1825.5,1407.7 1826.5,1411.4 1827.5,1396.5 1828.5,1403.0 1829.5,1402.2 1830.5,1409.0 1831.5,1405.5 1832.5,1408.6 1833.5,1412.8 1834.5,1410.6 1835.5,1413.1 1836.5,1405.7 1837.5,1411.3 1838.5,1408.1 1839.5,1407.6 1840.5,1409.3 1841.5,1409.8 1842.5,1413.5 1843.5,1404.4 1844.5,1408.3 1845.5,1406.7 1846.5,1407.8 1847.5,1406.1 1848.5,1409.3 1849.5,1404.2 1850.5,1410.2 1851.5,1411.6 1852.5,1412.6 1853.5,1409.0 1854.5,1408.9 1855.5,1410.2 1856.5,1410.2 1857.5,1409.5 1858.5,1407.4 1859.5,1408.8 1860.5,1405.7 1861.5,1407.9 1862.5,1413.3 1863.5,1404.6 1864.5,1405.9 1865.5,1408.2 1866.5,1416.5 1867.5,1411.7 1868.5,1406.2 1869.5,1395.5 1870.5,1404.9 1871.5,1409.3 1872.5,1404.9 1873.5,1406.1 1874.5,1410.9 1875.5,1403.1 1876.5,1408.9 1877.5,1409.9 1878.5,1415.5 1879.5,1415.7 1880.5,1414.1 1881.5,1416.9 1882.5,1414.9 1883.5,1416.0 1884.5,1410.0 1885.5,1411.3 1886.5,1413.1 1887.5,1401.2 1888.5,1416.7 1889.5,1409.2 1890.5,1409.1 1891.5,1409.1 1892.5,1412.9 1893.5,1410.1 1894.5,1407.3 1895.5,1412.8 1896.5,1409.9 1897.5,1409.3 1898.5,1413.9 1899.5,1410.9 1900.5,1407.6 1901.5,1404.9 1902.5,1409.7 1903.5,1406.5 1904.5,1414.8 1905.5,1417.4 1906.5,1411.2 1907.5,1411.4 1908.5,1411.9 1909.5,1404.4 1910.5,1407.4 1911.5,1409.7 1912.5,1410.5 1913.5,1409.7 1914.5,1409.0 1915.5,1405.2 1916.5,1416.0 1917.5,1408.7 1918.5,1411.3 1919.5,1407.6 1920.5,1408.2 1921.5,1409.2 1922.5,1412.4 1923.5,1415.6 1924.5,1406.2 1925.5,1409.6 1926.5,1407.3 1927.5,1404.8 1928.5,1406.7 1929.5,1409.1 1930.5,1408.1 1931.5,1408.8 1932.5,1412.4 1933.5,1406.9 1934.5,1408.5 1935.5,1411.7 1936.5,1407.5 1937.5,1405.0 1938.5,1407.6 1939.5,1406.7 1940.5,1405.7 1941.5,1401.6 1942.5,1402.7 1943.5,1407.1 1944.5,1406.7 1945.5,1407.7 1946.5,1407.1 1947.5,1412.9 1948.5,1408.2 1949.5,1406.1 1950.5,1417.3 1951.5,1414.0 1952.5,1405.1 1953.5,1411.2 1954.5,1409.4 1955.5,1414.4 1956.5,1408.3 1957.5,1408.9 1958.5,1410.4 1959.5,1406.8 1960.5,1410.2 1961.5,1411.8 1962.5,1412.5 1963.5,1415.9 1964.5,1410.1 1965.5,1412.3 1966.5,1407.1 1967.5,1407.3 1968.5,1410.4 1969.5,1408.9 1970.5,1409.6 1971.5,1416.6 1972.5,1407.6 1973.5,1408.8 1974.5,1404.9 1975.5,1402.2 1976.5,1401.2 1977.5,1403.4 1978.5,1413.8 1979.5,1404.8 1980.5,1406.9 1981.5,1410.5 1982.5,1404.2 1983.5,1408.6 1984.5,1396.5 1985.5,1399.2 1986.5,1409.3 1987.5,1405.8 1988.5,1406.3 1989.5,1407.2 1990.5,1413.1 1991.5,1418.2 1992.5,1403.8 1993.5,1410.7 1994.5,1409.3 1995.5,1410.2 1996.5,1411.1 1997.5,1405.6 1998.5,1404.3 1999.5,1406.0 2000.5,1410.0 2001.5,1408.5 2002.5,1415.4 2003.5,1406.4 2004.5,1412.4 2005.5,1415.0 2006.5,1408.5 2007.5,1411.2 2008.5,1401.4 2009.5,1407.1 2010.5,1405.0 2011.5,1400.9 2012.5,1411.5 2013.5,1410.8 2014.5,1403.7 2015.5,1410.0 2016.5,1409.5 2017.5,1407.9 2018.5,1409.6 2019.5,1410.1 2020.5,1410.5 2021.5,1410.2 2022.5,1407.7 2023.5,1407.7 2024.5,1416.5 2025.5,1413.5 2026.5,1415.5 2027.5,1409.3 2028.5,1409.4 2029.5,1404.8 2030.5,1414.8 2031.5,1412.8 2032.5,1413.2 2033.5,1410.3 2034.5,1409.2 2035.5,1408.7 2036.5,1408.2 2037.5,1407.4 2038.5,1407.8 2039.5,1408.2 2040.5,1405.7 2041.5,1408.5 2042.5,1405.9 2043.5,1406.6 2044.5,1406.3 2045.5,1410.9 2046.5,1417.0 2047.5,1411.4 2048.5,1408.9 2049.5,1410.3 2050.5,1410.7 2051.5,1414.0 2052.5,1409.7 2053.5,1413.0 2054.5,1415.7 2055.5,1411.5 2056.5,1414.0 2057.5,1406.0 2058.5,1404.3 2059.5,1412.6 2060.5,1406.0 2061.5,1407.3 2062.5,1408.8 2063.5,1408.3 2064.5,1412.3 2065.5,1417.1 2066.5,1409.3 2067.5,1404.7 2068.5,1412.0 2069.5,1411.0 2070.5,1408.6 2071.5,1409.2 2072.5,1403.7 2073.5,1411.0 2074.5,1404.9 2075.5,1414.5 2076.5,1412.9 2077.5,1407.2 2078.5,1409.9 2079.5,1407.1 2080.5,1414.4 2081.5,1410.3 2082.5,1406.2 2083.5,1411.8 2084.5,1405.1 2085.5,1408.3"/>
<polyline stroke="#0000ff" points="303.5,1408.5 304.5,1399.0 305.5,1405.1 306.5,1410.4 307.5,1409.0 308.5,1402.0 309.5,1402.0 310.5,1407.2 311.5,1408.8 312.5,1404.7 313.5,1413.5 314.5,1404.6 315.5,1404.9 316.5,1404.2 317.5,1412.1 318.5,1403.1 319.5,1400.8 320.5,1405.1 321.5,1406.8 322.5,1408.3 323.5,1405.1 324.5,1401.8 325.5,1403.4 326.5,1402.5 327.5,1399.3 328.5,1406.2 329.5,1410.3 330.5,1410.1 331.5,1406.1 332.5,1405.8 333.5,1405.7 334.5,1400.4 335.5,1409.3 336.5,1406.2 337.5,1411.6 338.5,1410.5 339.5,1409.3 340.5,1405.9 341.5,1396.0 342.5,1404.5 343.5,1404.6 344.5,1411.6 345.5,1408.7 346.5,1410.5 347.5,1403.4 348.5,1406.9 349.5,1402.0 350.5,1409.4 351.5,1405.2 352.5,1403.1 353.5,1398.9 354.5,1397.7 355.5,1408.1 356.5,1399.8 357.5,1405.3 358.5,1405.1 359.5,1405.8 360.5,1404.5 361.5,1412.7 362.5,1404.2 363.5,1407.9 364.5,1405.3 365.5,1413.4 366.5,1406.7 367.5,1408.0 368.5,1407.6 369.5,1406.9 370.5,1403.5 371.5,1406.5 372.5,1404.3 373.5,1407.9 374.5,1408.8 375.5,1406.9 376.5,1407.4 377.5,1403.2 378.5,1403.9 379.5,1403.6 380.5,1405.3 381.5,1408.2 382.5,1410.3 383.5,1402.2 384.5,1401.9 385.5,1411.3 386.5,1396.4 387.5,1407.7 388.5,1400.9 389.5,1409.8 390.5,1405.2 391.5,1406.5 392.5,1403.7 393.5,1406.1 394.5,1408.8 395.5,1399.1 396.5,1409.4 397.5,1403.7 398.5,1407.3 399.5,1397.2 400.5,1400.4 401.5,1403.2 402.5,1397.0 403.5,1400.9 404.5,1405.2 405.5,1404.4 406.5,1403.7 407.5,1404.9 408.5,1401.1 409.5,1403.3 410.5,1404.6 411.5,1403.0 412.5,1405.9 413.5,1400.7 414.5,1398.7 415.5,1402.0 416.5,1405.4 417.5,1404.6 418.5,1407.1 419.5,1400.9 420.5,1401.2 421.5,1407.3 422.5,1405.0 423.5,1408.4 424.5,1406.0 425.5,1408.3 426.5,1400.7 427.5,1407.6 428.5,1399.4 429.5,1404.5 430.5,1400.1 431.5,1401.8 432.5,1404.0 433.5,1405.3 434.5,1402.7 435.5,1402.1 436.5,1403.5 437.5,1403.9 438.5,1407.2 439.5,1402.4 440.5,1407.3 441.5,1406.6 442.5,1406.1 443.5,1403.8 444.5,1410.3 445.5,1402.1 446.5,1403.1 447.5,1402.2 448.5,1391.6 449.5,1403.8 450.5,1409.3 451.5,1408.6 452.5,1403.1 453.5,1407.1 454.5,1404.4 455.5,1404.9 456.5,1407.1 457.5,1408.6 458.5,1408.3 459.5,1406.7 460.5,1403.0 461.5,1406.5 462.5,1403.1 463.5,1396.6 464.5,1406.7 465.5,1410.5 466.5,1410.3 467.5,1402.6 468.5,1404.8 469.5,1395.7 470.5,1409.0 471.5,1411.5 472.5,1405.3 473.5,1401.6 474.5,1397.4 475.5,1395.8 476.5,1398.1 477.5,1401.9 478.5,1403.5 479.5,1405.2 480.5,1401.0 481.5,1402.6 482.5,1407.2 483.5,1403.9 484.5,1406.9 485.5,1401.7 486.5,1402.0 487.5,1401.6 488.5,1408.0 489.5,1399.7 490.5,1405.3 491.5,1410.0 492.5,1405.7 493.5,1404.7 494.5,1403.7 495.5,1407.3 496.5,1399.9 497.5,1403.6 498.5,1408.4 499.5,1408.6 500.5,1406.4 501.5,1402.5 502.5,1401.1 503.5,1400.9 504.5,1401.8 505.5,1402.3 506.5,1407.8 507.5,1405.5 508.5,1403.3 509.5,1401.5 510.5,1407.2 511.5,1399.6 512.5,1398.5 513.5,1409.1 514.5,1410.1 515.5,1408.4 516.5,1407.7 517.5,1403.3 518.5,1400.1 519.5,1399.4 520.5,1404.7 521.5,1405.6 522.5,1397.2 523.5,1400.2 524.5,1401.9 525.5,1405.4 526.5,1406.3 527.5,1401.7 528.5,1403.3 529.5,1402.5 530.5,1401.4 531.5,1397.3 532.5,1395.4 533.5,1396.9 534.5,1399.7 535.5,1407.9 536.5,1400.9 537.5,1403.6 538.5,1411.3 539.5,1405.6 540.5,1407.2 541.5,1403.3 542.5,1402.9 543.5,1400.4 544.5,1395.8 545.5,1408.3 546.5,1398.7 547.5,1406.8 548.5,1398.9 549.5,1402.2 550.5,1403.0 551.5,1415.4 552.5,1401.8 553.5,1400.5 554.5,1402.6 555.5,1400.5 556.5,1397.3 557.5,1402.9 558.5,1402.5 559.5,1404.3 560.5,1408.6 561.5,1399.6 562.5,1400.9 563.5,1406.2 564.5,1405.4 565.5,1400.6 566.5,1402.2 567.5,1405.5 568.5,1404.1 569.5,1395.4 570.5,1402.0 571.5,1400.6 572.5,1397.7 573.5,1397.1 574.5,1397.0 575.5,1402.2 576.5,1402.7 577.5,1402.5 578.5,1406.9 579.5,1397.0 580.5,1405.4 581.5,1400.5 582.5,1406.9 583.5,1405.7 584.5,1404.5 585.5,1403.4 586.5,1405.7 587.5,1401.9 588.5,1397.2 589.5,1394.4 590.5,1395.5 591.5,1395.3 592.5,1393.2 593.5,1398.7 594.5,1395.4 595.5,1394.4 596.5,1400.0 597.5,1398.5 598.5,1395.9 599.5,1394.2 600.5,1405.0 601.5,1396.2 602.5,1403.6 603.5,1405.5 604.5,1403.9 605.5,1406.8 606.5,1400.2 607.5,1398.9 608.5,1393.9 609.5,1396.8 610.5,1394.8 611.5,1391.7 612.5,1394.2 613.5,1402.3 614.5,1403.5 615.5,1400.7 616.5,1401.7 617.5,1398.8 618.5,1402.3 619.5,1403.3 620.5,1396.9 621.5,1399.3 622.5,1396.4 623.5,1396.5 624.5,1404.1 625.5,1398.7 626.5,1400.4 627.5,1400.6 628.5,1401.0 629.5,1406.6 630.5,1406.6 631.5,1409.4 632.5,1410.3 633.5,1408.3 634.5,1410.6 635.5,1401.2 636.5,1402.7 637.5,1403.7 638.5,1400.8 639.5,1409.7 640.5,1395.1 641.5,1406.2 642.5,1401.3 643.5,1401.6 644.5,1403.7 645.5,1399.3 646.5,1401.9 647.5,1397.3 648.5,1396.7 649.5,1400.4 650.5,1392.6 651.5,1396.6 652.5,1401.8 653.5,1402.9 654.5,1398.8 655.5,1411.2 656.5,1406.0 657.5,1401.5 658.5,1399.4 659.5,1400.5 660.5,1399.7 661.5,1402.6 662.5,1402.7 663.5,1393.0 664.5,1400.1 665.5,1398.1 666.5,1399.7 667.5,1394.5 668.5,1407.0 669.5,1400.2 670.5,1402.7 671.5,1400.4 672.5,1397.9 673.5,1402.4 674.5,1393.5 675.5,1400.0 676.5,1394.9 677.5,1398.0 678.5,1397.6 679.5,1395.6 680.5,1399.4 681.5,1398.4 682.5,1401.0 683.5,1399.5 684.5,1405.5 685.5,1405.0 686.5,1399.3 687.5,1400.5 688.5,1401.3 689.5,1403.4 690.5,1408.7 691.5,1401.7 692.5,1401.5 693.5,1405.1 694.5,1408.9 695.5,1407.5 696.5,1398.8 697.5,1401.4 698.5,1399.1 699.5,1400.7 700.5,1395.7 701.5,1398.0 702.5,1403.1 703.5,1406.0 704.5,1402.9 705.5,1404.9 706.5,1405.5 707.5,1397.2 708.5,1397.3 709.5,1398.9 710.5,1400.2 711.5,1391.8 712.5,1402.8 713.5,1399.3 714.5,1400.8 715.5,1401.9 716.5,1394.1 717.5,1398.6 718.5,1401.3 719.5,1402.3 720.5,1400.6 721.5,1402.5 722.5,1405.5 723.5,1404.2 724.5,1400.3 725.5,1407.0 726.5,1403.9 727.5,1393.4 728.5,1400.1 729.5,1403.1 730.5,1399.9 731.5,1400.7 732.5,1399.6 733.5,1386.7 734.5,1395.1 735.5,1391.8 736.5,1394.1 737.5,1392.3 738.5,1387.2 739.5,1383.4 740.5,1386.7 741.5,1390.3 742.5,1386.0 743.5,1388.9 744.5,1393.2 745.5,1395.3 746.5,1394.8 747.5,1401.1 748.5,1398.2 749.5,1402.9 750.5,1385.4 751.5,1396.3 752.5,1395.5 753.5,1401.8 754.5,1395.9 755.5,1397.2 756.5,1401.9 757.5,1394.5 758.5,1398.9 759.5,1397.2 760.5,1396.1 761.5,1400.1 762.5,1398.4 763.5,1398.0 764.5,1397.9 765.5,1400.0 766.5,1397.1 767.5,1402.3 768.5,1405.1 769.5,1400.1 770.5,1402.0 771.5,1399.9 772.5,1394.1 773.5,1396.1 774.5,1395.5 775.5,1398.8 776.5,1398.4 777.5,1399.6 778.5,1398.5 779.5,1396.9 780.5,1396.6 781.5,1399.3 782.5,1402.5 783.5,1396.5 784.5,1406.1 785.5,1401.7 786.5,1398.9 787.5,1393.4 788.5,1397.5 789.5,1395.0 790.5,1399.7 791.5,1406.0 792.5,1401.6 793.5,1402.7 794.5,1399.2 795.5,1400.3 796.5,1399.6 797.5,1395.9 798.5,1396.2 799.5,1392.5 800.5,1400.9 801.5,1400.4 802.5,1398.4 803.5,1400.8 804.5,1403.0 805.5,1401.7 806.5,1406.3 807.5,1402.8 808.5,1398.7 809.5,1398.9 810.5,1401.9 811.5,1400.7 812.5,1391.1 813.5,1396.8 814.5,1401.1 815.5,1405.9 816.5,1398.4 817.5,1405.1 818.5,1409.7 819.5,1399.5 820.5,1394.9 821.5,1408.7 822.5,1410.5 823.5,1406.5 824.5,1401.8 825.5,1404.9 826.5,1404.6 827.5,1404.8 828.5,1399.8 829.5,1397.0 830.5,1400.8 831.5,1394.2 832.5,1399.3 833.5,1396.1 834.5,1397.5 835.5,1398.9 836.5,1398.3 837.5,1405.9 838.5,1397.1 839.5,1390.5 840.5,1391.6 841.5,1394.0 842.5,1395.0 843.5,1401.0 844.5,1393.9 845.5,1400.5 846.5,1394.3 847.5,1392.5 848.5,1403.3 849.5,1399.8 850.5,1396.1 851.5,1399.4 852.5,1401.4 853.5,1396.9 854.5,1396.7 855.5,1404.0 856.5,1408.5 857.5,1403.5 858.5,1400.5 859.5,1391.8 860.5,1394.7 861.5,1399.8 862.5,1392.6 863.5,1398.7 864.5,1399.3 865.5,1399.5 866.5,1397.2 867.5,1394.8 868.5,1395.5 869.5,1400.3 870.5,1396.8 871.5,1405.0 872.5,1399.5 873.5,1405.2 874.5,1398.7 875.5,1391.3 876.5,1395.9 877.5,1402.3 878.5,1395.7 879.5,1395.0 880.5,1397.8 881.5,1394.7 882.5,1397.5 883.5,1386.8 884.5,1392.6 885.5,1397.6 886.5,1400.2 887.5,1389.7 888.5,1401.1 889.5,1396.7 890.5,1398.5 891.5,1397.1 892.5,1393.8 893.5,1390.4 894.5,1392.0 895.5,1389.2 896.5,1382.7 897.5,1380.8 898.5,1375.2 899.5,1380.1 900.5,1366.3 901.5,1361.1 902.5,1367.3 903.5,1362.6 904.5,1361.0 905.5,1362.1 906.5,1359.3 907.5,1357.6 908.5,1357.1 909.5,1363.8 910.5,1352.3 911.5,1352.0 912.5,1356.2 913.5,1353.2 914.5,1342.5 915.5,1341.9 916.5,1336.9 917.5,1333.5 918.5,1321.6 919.5,1324.0 920.5,1315.3 921.5,1327.9 922.5,1331.9 923.5,1334.7 924.5,1337.2 925.5,1335.8 926.5,1345.6 927.5,1350.3 928.5,1356.0 929.5,1347.8 930.5,1352.7 931.5,1352.2 932.5,1352.7 933.5,1353.1 934.5,1355.1 935.5,1354.8 936.5,1355.3 937.5,1356.0 938.5,1353.5 939.5,1354.8 940.5,1361.0 941.5,1359.7 942.5,1357.1 943.5,1353.2 944.5,1350.6 945.5,1349.4 946.5,1350.3 947.5,1351.3 948.5,1352.6 949.5,1342.5 950.5,1337.6 951.5,1338.9 952.5,1330.4 953.5,1328.1 954.5,1331.6 955.5,1329.0 956.5,1330.1 957.5,1334.0 958.5,1331.3 959.5,1328.2 960.5,1326.9 961.5,1329.8 962.5,1320.2 963.5,1324.6 964.5,1319.1 965.5,1324.7 966.5,1326.6 967.5,1334.3 968.5,1340.1 969.5,1341.5 970.5,1347.6 971.5,1342.7 972.5,1346.0 973.5,1349.7 974.5,1347.2 975.5,1359.1 976.5,1356.0 977.5,1363.0 978.5,1368.4 979.5,1366.5 980.5,1371.1 981.5,1364.9 982.5,1375.0 983.5,1381.5 984.5,1372.4 985.5,1379.1 986.5,1380.0 987.5,1382.4 988.5,1382.5 989.5,1379.7 990.5,1379.7 991.5,1385.7 992.5,1379.7 993.5,1392.9 994.5,1384.5 995.5,1384.4 996.5,1382.8 997.5,1379.7 998.5,1379.6 999.5,1373.7 1000.5,1384.5 1001.5,1377.1 1002.5,1369.7 1003.5,1367.0 1004.5,1364.7 1005.5,1349.5 1006.5,1338.0 1007.5,1303.0 1008.5,1248.5 1009.5,1197.7 1010.5,1142.5 1011.5,1090.8 1012.5,1057.8 1013.5,1049.9 1014.5,1045.2 1015.5,1043.7 1016.5,1029.8 1017.5,1007.2 1018.5,969.9 1019.5,959.0 1020.5,952.0 1021.5,945.3 1022.5,948.2 1023.5,954.0 1024.5,964.7 1025.5,984.9 1026.5,998.7 1027.5,1022.2 1028.5,1045.6 1029.5,1063.7 1030.5,1104.5 1031.5,1132.6 1032.5,1155.6 1033.5,1166.0 1034.5,1185.5 1035.5,1204.9 1036.5,1202.4 1037.5,1221.1 1038.5,1221.1 1039.5,1228.6 1040.5,1230.2 1041.5,1232.2 1042.5,1236.0 1043.5,1238.1 1044.5,1232.5 1045.5,1209.1 1046.5,1197.0 1047.5,1188.3 1048.5,1174.0 1049.5,1170.2 1050.5,1179.0 1051.5,1193.4 1052.5,1195.4 1053.5,1210.1 1054.5,1215.3 1055.5,1230.6 1056.5,1234.1 1057.5,1234.6 1058.5,1224.0 1059.5,1220.9 1060.5,1212.5 1061.5,1212.1 1062.5,1200.4 1063.5,1197.1 1064.5,1190.5 1065.5,1189.0 1066.5,1183.6 1067.5,1177.4 1068.5,1179.5 1069.5,1195.3 1070.5,1202.2 1071.5,1210.6 1072.5,1229.4 1073.5,1236.2 1074.5,1256.3 1075.5,1266.6 1076.5,1274.5 1077.5,1286.8 1078.5,1295.0 1079.5,1305.0 1080.5,1313.6 1081.5,1319.8 1082.5,1329.1 1083.5,1328.8 1084.5,1331.1 1085.5,1339.6 1086.5,1338.6 1087.5,1342.9 1088.5,1345.8 1089.5,1350.2 1090.5,1351.0 1091.5,1352.4 1092.5,1356.7 1093.5,1356.2 1094.5,1363.2 1095.5,1359.6 1096.5,1358.8 1097.5,1367.0 1098.5,1362.6 1099.5,1362.1 1100.5,1364.9 1101.5,1360.6 1102.5,1357.4 1103.5,1360.1 1104.5,1365.4 1105.5,1365.4 1106.5,1363.4 1107.5,1372.3 1108.5,1372.1 1109.5,1371.8 1110.5,1371.3 1111.5,1377.9 1112.5,1375.1 1113.5,1385.2 1114.5,1377.7 1115.5,1382.0 1116.5,1381.5 1117.5,1372.8 1118.5,1382.2 1119.5,1388.2 1120.5,1381.2 1121.5,1380.0 1122.5,1383.5 1123.5,1382.9 1124.5,1380.9 1125.5,1381.7 1126.5,1387.7 1127.5,1386.6 1128.5,1383.5 1129.5,1384.2 1130.5,1385.8 1131.5,1381.7 1132.5,1383.0 1133.5,1387.5 1134.5,1383.6 1135.5,1382.7 1136.5,1391.3 1137.5,1389.0 1138.5,1388.2 1139.5,1395.1 1140.5,1384.5 1141.5,1384.1 1142.5,1397.7 1143.5,1391.9 1144.5,1384.1 1145.5,1382.0 1146.5,1387.1 1147.5,1375.2 1148.5,1387.5 1149.5,1389.2 1150.5,1384.7 1151.5,1393.6 1152.5,1393.8 1153.5,1392.8 1154.5,1393.8 1155.5,1397.4 1156.5,1396.9 1157.5,1386.5 1158.5,1392.8 1159.5,1394.9 1160.5,1397.6 1161.5,1396.0 1162.5,1383.9 1163.5,1396.5 1164.5,1387.6 1165.5,1393.2 1166.5,1389.7 1167.5,1394.7 1168.5,1393.2 1169.5,1400.0 1170.5,1397.9 1171.5,1397.6 1172.5,1393.2 1173.5,1399.2 1174.5,1391.3 1175.5,1399.3 1176.5,1396.7 1177.5,1396.2 1178.5,1398.9 1179.5,1401.6 1180.5,1402.2 1181.5,1398.4 1182.5,1402.2 1183.5,1392.8 1184.5,1396.5 1185.5,1399.5 1186.5,1402.2 1187.5,1393.1 1188.5,1388.6 1189.5,1398.5 1190.5,1401.0 1191.5,1392.5 1192.5,1388.9 1193.5,1393.9 1194.5,1400.1 1195.5,1398.5 1196.5,1394.1 1197.5,1400.1 1198.5,1395.5 1199.5,1394.2 1200.5,1391.9 1201.5,1398.6 1202.5,1393.7 1203.5,1390.8 1204.5,1393.0 1205.5,1389.3 1206.5,1392.9 1207.5,1395.5 1208.5,1397.2 1209.5,1393.8 1210.5,1393.0 1211.5,1388.8 1212.5,1390.9 1213.5,1394.5 1214.5,1387.8 1215.5,1381.5 1216.5,1389.0 1217.5,1383.3 1218.5,1388.5 1219.5,1370.4 1220.5,1371.3 1221.5,1363.7 1222.5,1359.6 1223.5,1348.1 1224.5,1336.6 1225.5,1323.4 1226.5,1292.1 1227.5,1288.9 1228.5,1287.2 1229.5,1286.6 1230.5,1292.5 1231.5,1304.5 1232.5,1314.7 1233.5,1341.6 1234.5,1351.7 1235.5,1367.4 1236.5,1371.8 1237.5,1376.2 1238.5,1375.2 1239.5,1381.3 1240.5,1383.9 1241.5,1390.0 1242.5,1382.4 1243.5,1386.0 1244.5,1392.4 1245.5,1394.1 1246.5,1390.4 1247.5,1397.5 1248.5,1396.7 1249.5,1391.9 1250.5,1393.7 1251.5,1395.4 1252.5,1393.8 1253.5,1394.1 1254.5,1394.0 1255.5,1392.0 1256.5,1398.5 1257.5,1388.9 1258.5,1391.8 1259.5,1390.7 1260.5,1388.9 1261.5,1385.9 1262.5,1377.9 1263.5,1387.8 1264.5,1386.7 1265.5,1383.0 1266.5,1382.5 1267.5,1385.1 1268.5,1379.0 1269.5,1378.0 1270.5,1369.3 1271.5,1370.3 1272.5,1379.5 1273.5,1380.2 1274.5,1367.0 1275.5,1375.9 1276.5,1384.1 1277.5,1382.0 1278.5,1378.1 1279.5,1384.2 1280.5,1380.9 1281.5,1384.2 1282.5,1392.4 1283.5,1388.6 1284.5,1397.5 1285.5,1391.1 1286.5,1392.0 1287.5,1392.9 1288.5,1392.4 1289.5,1386.9 1290.5,1398.0 1291.5,1397.5 1292.5,1395.4 1293.5,1397.2 1294.5,1393.6 1295.5,1396.4 1296.5,1401.6 1297.5,1395.1 1298.5,1397.7 1299.5,1400.6 1300.5,1392.6 1301.5,1398.6 1302.5,1397.1 1303.5,1393.4 1304.5,1398.8 1305.5,1399.6 1306.5,1399.0 1307.5,1397.2 1308.5,1399.1 1309.5,1395.6 1310.5,1403.2 1311.5,1396.3 1312.5,1398.5 1313.5,1397.8 1314.5,1400.0 1315.5,1404.6 1316.5,1400.5 1317.5,1397.1 1318.5,1395.4 1319.5,1401.2 1320.5,1399.5 1321.5,1397.5 1322.5,1395.6 1323.5,1397.3 1324.5,1401.9 1325.5,1401.2 1326.5,1396.8 1327.5,1399.1 1328.5,1388.2 1329.5,1400.7 1330.5,1395.2 1331.5,1397.6 1332.5,1392.9 1333.5,1388.0 1334.5,1402.4 1335.5,1396.8 1336.5,1398.4 1337.5,1395.4 1338.5,1399.7 1339.5,1397.2 1340.5,1401.7 1341.5,1394.9 1342.5,1395.5 1343.5,1401.6 1344.5,1408.1 1345.5,1401.4 1346.5,1400.3 1347.5,1403.0 1348.5,1393.6 1349.5,1404.0 1350.5,1390.7 1351.5,1396.7 1352.5,1394.8 1353.5,1401.2 1354.5,1402.5 1355.5,1397.1 1356.5,1392.3 1357.5,1400.9 1358.5,1395.5 1359.5,1398.9 1360.5,1402.4 1361.5,1396.5 1362.5,1393.8 1363.5,1396.3 1364.5,1392.9 1365.5,1393.6 1366.5,1390.2 1367.5,1397.1 1368.5,1397.7 1369.5,1394.2 1370.5,1403.0 1371.5,1397.4 1372.5,1398.7 1373.5,1398.3 1374.5,1392.9 1375.5,1395.2 1376.5,1396.4 1377.5,1393.6 1378.5,1402.3 1379.5,1395.8 1380.5,1401.3 1381.5,1397.9 1382.5,1393.6 1383.5,1399.2 1384.5,1402.6 1385.5,1405.1 1386.5,1402.4 1387.5,1402.6 1388.5,1403.5 1389.5,1403.2 1390.5,1401.3 1391.5,1401.7 1392.5,1400.1 1393.5,1401.0 1394.5,1395.0 1395.5,1401.9 1396.5,1402.2 1397.5,1400.4 1398.5,1400.4 1399.5,1403.6 1400.5,1404.4 1401.5,1402.8 1402.5,1403.1 1403.5,1396.1 1404.5,1402.5 1405.5,1399.4 1406.5,1396.9 1407.5,1395.2 1408.5,1391.9 1409.5,1399.3 1410.5,1400.3 1411.5,1396.0 1412.5,1397.7 1413.5,1403.5 1414.5,1407.2 1415.5,1401.6 1416.5,1408.0 1417.5,1397.9 1418.5,1399.6 1419.5,1406.5 1420.5,1398.8 1421.5,1405.4 1422.5,1403.2 1423.5,1396.7 1424.5,1404.6 1425.5,1406.6 1426.5,1403.3 1427.5,1397.6 1428.5,1398.3 1429.5,1402.2 1430.5,1407.1 1431.5,1401.9 1432.5,1404.1 1433.5,1397.7 1434.5,1406.9 1435.5,1397.6 1436.5,1401.2 1437.5,1399.8 1438.5,1399.2 1439.5,1399.0 1440.5,1404.4 1441.5,1397.3 1442.5,1403.7 1443.5,1396.2 1444.5,1398.7 1445.5,1400.9 1446.5,1399.8 1447.5,1399.5 1448.5,1400.3 1449.5,1397.8 1450.5,1400.2 1451.5,1401.4 1452.5,1392.0 1453.5,1403.0 1454.5,1404.4 1455.5,1398.7 1456.5,1396.4 1457.5,1396.3 1458.5,1395.9 1459.5,1394.8 1460.5,1402.1 1461.5,1389.8 1462.5,1404.2 1463.5,1399.5 1464.5,1404.1 1465.5,1399.8 1466.5,1398.7 1467.5,1398.3 1468.5,1400.5 1469.5,1401.9 1470.5,1396.0 1471.5,1395.4 1472.5,1402.4 1473.5,1408.4 1474.5,1401.8 1475.5,1398.1 1476.5,1395.2 1477.5,1401.2 1478.5,1395.6 1479.5,1392.8 1480.5,1399.7 1481.5,1400.2 1482.5,1397.9 1483.5,1402.3 1484.5,1396.5 1485.5,1403.9 1486.5,1395.0 1487.5,1401.5 1488.5,1401.0 1489.5,1396.5 1490.5,1397.2 1491.5,1398.4 1492.5,1398.0 1493.5,1403.0 1494.5,1394.1 1495.5,1406.2 1496.5,1403.2 1497.5,1404.4 1498.5,1403.9 1499.5,1396.1 1500.5,1395.0 1501.5,1395.0 1502.5,1398.0 1503.5,1405.0 1504.5,1404.3 1505.5,1402.5 1506.5,1401.9 1507.5,1398.4 1508.5,1399.3 1509.5,1402.2 1510.5,1408.5 1511.5,1401.0 1512.5,1403.4 1513.5,1409.3 1514.5,1401.2 1515.5,1405.1 1516.5,1394.8 1517.5,1406.4 1518.5,1399.3 1519.5,1403.1 1520.5,1409.7 1521.5,1407.5 1522.5,1407.7 1523.5,1404.0 1524.5,1398.2 1525.5,1400.1 1526.5,1394.6 1527.5,1396.0 1528.5,1392.5 1529.5,1395.5 1530.5,1393.6 1531.5,1393.9 1532.5,1398.9 1533.5,1398.7 1534.5,1403.6 1535.5,1403.3 1536.5,1406.6 1537.5,1404.6 1538.5,1404.6 1539.5,1398.7 1540.5,1403.6 1541.5,1403.0 1542.5,1398.4 1543.5,1400.4 1544.5,1400.2 1545.5,1397.7 1546.5,1396.9 1547.5,1397.6 1548.5,1394.2 1549.5,1385.3 1550.5,1394.5 1551.5,1398.7 1552.5,1401.4 1553.5,1400.0 1554.5,1394.5 1555.5,1398.7 1556.5,1390.8 1557.5,1392.1 1558.5,1389.1 1559.5,1385.4 1560.5,1385.5 1561.5,1392.3 1562.5,1390.1 1563.5,1378.4 1564.5,1382.4 1565.5,1373.8 1566.5,1376.5 1567.5,1371.6 1568.5,1371.5 1569.5,1364.2 1570.5,1359.8 1571.5,1359.2 1572.5,1354.1 1573.5,1353.4 1574.5,1357.7 1575.5,1344.4 1576.5,1339.6 1577.5,1343.2 1578.5,1334.7 1579.5,1339.8 1580.5,1334.6 1581.5,1331.6 1582.5,1341.1 1583.5,1330.0 1584.5,1331.9 1585.5,1329.2 1586.5,1330.6 1587.5,1323.7 1588.5,1317.6 1589.5,1311.1 1590.5,1308.1 1591.5,1294.5 1592.5,1298.5 1593.5,1287.0 1594.5,1265.7 1595.5,1236.7 1596.5,1206.3 1597.5,1205.4 1598.5,1199.8 1599.5,1194.6 1600.5,1189.0 1601.5,1199.6 1602.5,1199.0 1603.5,1209.5 1604.5,1215.0 1605.5,1224.7 1606.5,1230.4 1607.5,1237.0 1608.5,1246.8 1609.5,1251.3 1610.5,1256.7 1611.5,1260.9 1612.5,1260.7 1613.5,1277.4 1614.5,1271.6 1615.5,1268.1 1616.5,1274.9 1617.5,1274.6 1618.5,1265.2 1619.5,1271.7 1620.5,1258.4 1621.5,1259.9 1622.5,1255.8 1623.5,1259.1 1624.5,1268.7 1625.5,1261.0 1626.5,1261.0 1627.5,1267.5 1628.5,1262.1 1629.5,1251.4 1630.5,1248.8 1631.5,1246.7 1632.5,1243.5 1633.5,1244.8 1634.5,1240.8 1635.5,1233.8 1636.5,1245.9 1637.5,1246.1 1638.5,1235.3 1639.5,1242.3 1640.5,1242.9 1641.5,1250.1 1642.5,1253.0 1643.5,1259.5 1644.5,1268.2 1645.5,1268.2 1646.5,1262.8 1647.5,1266.7 1648.5,1265.9 1649.5,1265.5 1650.5,1273.6 1651.5,1267.7 1652.5,1281.7 1653.5,1285.2 1654.5,1287.8 1655.5,1293.5 1656.5,1304.6 1657.5,1304.7 1658.5,1315.2 1659.5,1309.4 1660.5,1309.4 1661.5,1315.9 1662.5,1319.5 1663.5,1321.8 1664.5,1328.6 1665.5,1321.3 1666.5,1330.7 1667.5,1335.5 1668.5,1338.0 1669.5,1339.6 1670.5,1345.9 1671.5,1351.3 1672.5,1345.6 1673.5,1354.3 1674.5,1356.9 1675.5,1365.4 1676.5,1360.5 1677.5,1362.5 1678.5,1366.7 1679.5,1370.0 1680.5,1380.5 1681.5,1369.8 1682.5,1375.7 1683.5,1381.3 1684.5,1378.5 1685.5,1381.7 1686.5,1382.8 1687.5,1388.0 1688.5,1386.6 1689.5,1388.8 1690.5,1386.3 1691.5,1389.9 1692.5,1388.6 1693.5,1390.9 1694.5,1389.4 1695.5,1389.5 1696.5,1392.8 1697.5,1390.9 1698.5,1396.1 1699.5,1386.8 1700.5,1393.9 1701.5,1394.2 1702.5,1403.9 1703.5,1400.0 1704.5,1397.7 1705.5,1395.3 1706.5,1395.2 1707.5,1394.7 1708.5,1400.8 1709.5,1390.5 1710.5,1397.6 1711.5,1397.3 1712.5,1399.7 1713.5,1399.6 1714.5,1399.6 1715.5,1393.1 1716.5,1400.5 1717.5,1397.3 1718.5,1395.0 1719.5,1404.8 1720.5,1403.5 1721.5,1404.4 1722.5,1398.8 1723.5,1406.4 1724.5,1401.7 1725.5,1401.2 1726.5,1403.1 1727.5,1408.7 1728.5,1396.6 1729.5,1405.6 1730.5,1404.8 1731.5,1398.0 1732.5,1403.6 1733.5,1403.2 1734.5,1404.6 1735.5,1403.0 1736.5,1401.4 1737.5,1398.4 1738.5,1403.5 1739.5,1402.8 1740.5,1410.9 1741.5,1403.5 1742.5,1401.7 1743.5,1401.2 1744.5,1411.4 1745.5,1408.6 1746.5,1411.0 1747.5,1404.5 1748.5,1398.1 1749.5,1407.0 1750.5,1398.6 1751.5,1401.6 1752.5,1395.0 1753.5,1401.3 1754.5,1406.3 1755.5,1402.5 1756.5,1401.8 1757.5,1403.0 1758.5,1403.9 1759.5,1398.7 1760.5,1399.0 1761.5,1401.9 1762.5,1398.9 1763.5,1400.7 1764.5,1397.1 1765.5,1395.4 1766.5,1394.7 1767.5,1402.7 1768.5,1398.3 1769.5,1401.1 1770.5,1399.1 1771.5,1399.3 1772.5,1402.6 1773.5,1403.5 1774.5,1400.4 1775.5,1405.1 1776.5,1405.8 1777.5,1407.1 1778.5,1407.5 1779.5,1399.7 1780.5,1398.1 1781.5,1402.2 1782.5,1403.3 1783.5,1395.1 1784.5,1401.0 1785.5,1402.2 1786.5,1401.4 1787.5,1397.7 1788.5,1400.5 1789.5,1395.9 1790.5,1398.9 1791.5,1402.1 1792.5,1410.0 1793.5,1407.7 1794.5,1399.4 1795.5,1400.6 1796.5,1402.5 1797.5,1401.9 1798.5,1403.2 1799.5,1402.8 1800.5,1405.6 1801.5,1398.8 1802.5,1399.5 1803.5,1405.2 1804.5,1405.4 1805.5,1399.2 1806.5,1402.4 1807.5,1393.6 1808.5,1398.6 1809.5,1403.0 1810.5,1401.4 1811.5,1403.3 1812.5,1404.5 1813.5,1400.3 1814.5,1405.8 1815.5,1406.7 1816.5,1410.5 1817.5,1399.0 1818.5,1399.2 1819.5,1407.5 1820.5,1395.8 1821.5,1402.5 1822.5,1395.8 1823.5,1403.1 1824.5,1407.0 1825.5,1403.0 1826.5,1401.6 1827.5,1409.7 1828.5,1403.6 1829.5,1401.7 1830.5,1404.3 1831.5,1406.5 1832.5,1404.4 1833.5,1398.4 1834.5,1398.9 1835.5,1401.7 1836.5,1396.6 1837.5,1401.0 1838.5,1399.6 1839.5,1400.1 1840.5,1401.3 1841.5,1402.0 1842.5,1398.8 1843.5,1402.5 1844.5,1400.8 1845.5,1410.0 1846.5,1404.7 1847.5,1405.1 1848.5,1393.2 1849.5,1407.2 1850.5,1399.4 1851.5,1397.1 1852.5,1402.3 1853.5,1402.1 1854.5,1400.7 1855.5,1408.8 1856.5,1401.8 1857.5,1396.4 1858.5,1397.8 1859.5,1400.3 1860.5,1400.4 1861.5,1396.9 1862.5,1404.3 1863.5,1401.0 1864.5,1398.9 1865.5,1408.0 1866.5,1404.6 1867.5,1400.8 1868.5,1395.6 1869.5,1406.5 1870.5,1398.6 1871.5,1395.4 1872.5,1400.0 1873.5,1402.7 1874.5,1403.5 1875.5,1408.6 1876.5,1399.3 1877.5,1409.5 1878.5,1404.4 1879.5,1405.2 1880.5,1402.1 1881.5,1405.4 1882.5,1399.3 1883.5,1410.9 1884.5,1411.7 1885.5,1404.3 1886.5,1408.8 1887.5,1400.3 1888.5,1399.4 1889.5,1398.0 1890.5,1404.2 1891.5,1402.5 1892.5,1401.2 1893.5,1398.6 1894.5,1399.5 1895.5,1397.6 1896.5,1403.2 1897.5,1394.9 1898.5,1401.3 1899.5,1400.5 1900.5,1410.5 1901.5,1404.6 1902.5,1397.3 1903.5,1402.7 1904.5,1402.9 1905.5,1405.2 1906.5,1402.0 1907.5,1398.8 1908.5,1401.8 1909.5,1398.1 1910.5,1406.2 1911.5,1401.0 1912.5,1402.7 1913.5,1402.8 1914.5,1408.6 1915.5,1403.2 1916.5,1402.0 1917.5,1408.6 1918.5,1396.8 1919.5,1404.0 1920.5,1409.3 1921.5,1400.9 1922.5,1409.6 1923.5,1404.4 1924.5,1411.4 1925.5,1400.5 1926.5,1402.4 1927.5,1403.3 1928.5,1405.9 1929.5,1407.3 1930.5,1398.5 1931.5,1405.5 1932.5,1401.0 1933.5,1409.2 1934.5,1405.0 1935.5,1408.3 1936.5,1401.7 1937.5,1409.9 1938.5,1399.7 1939.5,1407.5 1940.5,1401.4 1941.5,1402.6 1942.5,1403.4 1943.5,1403.1 1944.5,1396.5 1945.5,1406.8 1946.5,1406.0 1947.5,1399.8 1948.5,1402.1 1949.5,1399.9 1950.5,1403.8 1951.5,1407.0 1952.5,1406.0 1953.5,1404.3 1954.5,1403.2 1955.5,1404.7 1956.5,1407.6 1957.5,1404.2 1958.5,1396.1 1959.5,1403.7 1960.5,1395.1 1961.5,1405.3 1962.5,1404.0 1963.5,1406.8 1964.5,1398.3 1965.5,1404.2 1966.5,1404.3 1967.5,1399.9 1968.5,1404.1 1969.5,1411.6 1970.5,1400.9 1971.5,1413.1 1972.5,1403.2 1973.5,1405.4 1974.5,1407.0 1975.5,1402.5 1976.5,1399.3 1977.5,1397.6 1978.5,1392.8 1979.5,1404.0 1980.5,1398.8 1981.5,1399.1 1982.5,1402.1 1983.5,1413.4 1984.5,1409.0 1985.5,1397.1 1986.5,1407.4 1987.5,1403.8 1988.5,1407.8 1989.5,1397.4 1990.5,1401.2 1991.5,1407.4 1992.5,1408.3 1993.5,1401.1 1994.5,1399.2 1995.5,1404.4 1996.5,1400.0 1997.5,1402.0 1998.5,1401.7 1999.5,1401.4 2000.5,1407.8 2001.5,1405.8 2002.5,1402.5 2003.5,1404.2 2004.5,1399.0 2005.5,1409.6 2006.5,1403.0 2007.5,1395.5 2008.5,1402.3 2009.5,1401.2 2010.5,1405.6 2011.5,1397.8 2012.5,1401.7 2013.5,1406.1 2014.5,1407.2 2015.5,1408.0 2016.5,1408.2 2017.5,1400.2 2018.5,1402.0 2019.5,1401.7 2020.5,1405.2 2021.5,1405.0 2022.5,1410.2 2023.5,1405.9 2024.5,1402.3 2025.5,1407.1 2026.5,1410.7 2027.5,1402.1 2028.5,1408.2 2029.5,1401.1 2030.5,1404.8 2031.5,1405.7 2032.5,1405.2 2033.5,1404.1 2034.5,1399.5 2035.5,1398.6 2036.5,1396.6 2037.5,1398.1 2038.5,1398.8 2039.5,1397.0 2040.5,1400.9 2041.5,1402.7 2042.5,1401.4 2043.5,1403.2 2044.5,1408.6 2045.5,1407.7 2046.5,1402.4 2047.5,1405.1 2048.5,1407.0 2049.5,1405.0 2050.5,1404.5 2051.5,1401.3 2052.5,1402.7 2053.5,1404.9 2054.5,1403.7 2055.5,1404.2 2056.5,1412.0 2057.5,1399.1 2058.5,1409.4 2059.5,1402.7 2060.5,1406.5 2061.5,1406.9 2062.5,1398.7 2063.5,1405.2 2064.5,1402.9 2065.5,1409.6 2066.5,1398.2 2067.5,1402.3 2068.5,1404.2 2069.5,1398.1 2070.5,1402.6 2071.5,1412.2 2072.5,1401.2 2073.5,1407.9 2074.5,1407.5 2075.5,1408.0 2076.5,1411.4 2077.5,1407.8 2078.5,1406.1 2079.5,1402.5 2080.5,1401.0 2081.5,1408.0 2082.5,1399.1 2083.5,1406.0 2084.5,1399.9 2085.5,1403.4"/>
<polyline stroke="#00ffff" points="303.5,1397.6 304.5,1399.9 305.5,1403.0 306.5,1397.1 307.5,1407.7 308.5,1407.0 309.5,1406.3 310.5,1394.6 311.5,1402.3 312.5,1398.7 313.5,1398.0 314.5,1402.7 315.5,1402.5 316.5,1398.9 317.5,1394.2 318.5,1395.7 319.5,1394.3 320.5,1393.1 321.5,1395.1 322.5,1396.4 323.5,1404.4 324.5,1398.5 325.5,1401.8 326.5,1400.6 327.5,1399.8 328.5,1396.9 329.5,1396.3 330.5,1403.8 331.5,1398.2 332.5,1397.3 333.5,1406.4 334.5,1397.3 335.5,1398.7 336.5,1405.8 337.5,1398.7 338.5,1396.9 339.5,1396.8 340.5,1401.5 341.5,1396.2 342.5,1394.6 343.5,1396.0 344.5,1404.1 345.5,1395.3 346.5,1401.1 347.5,1401.3 348.5,1394.6 349.5,1394.2 350.5,1394.3 351.5,1412.1 352.5,1396.0 353.5,1410.2 354.5,1400.0 355.5,1407.1 356.5,1401.0 357.5,1397.6 358.5,1397.4 359.5,1402.0 360.5,1410.6 361.5,1402.0 362.5,1401.0 363.5,1397.7 364.5,1393.2 365.5,1399.5 366.5,1393.4 367.5,1400.2 368.5,1399.8 369.5,1396.6 370.5,1395.6 371.5,1395.3 372.5,1401.3 373.5,1396.5 374.5,1403.5 375.5,1391.2 376.5,1397.3 377.5,1399.8 378.5,1403.6 379.5,1402.4 380.5,1399.2 381.5,1402.4 382.5,1399.2 383.5,1402.9 384.5,1402.1 385.5,1395.1 386.5,1402.7 387.5,1400.6 388.5,1402.8 389.5,1397.1 390.5,1403.5 391.5,1401.5 392.5,1400.5 393.5,1402.1 394.5,1398.4 395.5,1399.0 396.5,1398.4 397.5,1400.2 398.5,1398.2 399.5,1400.2 400.5,1399.8 401.5,1401.0 402.5,1391.6 403.5,1394.1 404.5,1401.8 405.5,1397.6 406.5,1393.5 407.5,1397.4 408.5,1390.4 409.5,1402.1 410.5,1397.3 411.5,1406.4 412.5,1393.2 413.5,1400.9 414.5,1397.9 415.5,1395.5 416.5,1400.9 417.5,1403.7 418.5,1405.8 419.5,1398.2 420.5,1397.4 421.5,1404.5 422.5,1395.6 423.5,1401.7 424.5,1406.9 425.5,1399.6 426.5,1399.7 427.5,1395.6 428.5,1396.0 429.5,1401.6 430.5,1402.9 431.5,1401.6 432.5,1411.0 433.5,1399.0 434.5,1396.8 435.5,1399.6 436.5,1404.8 437.5,1388.2 438.5,1402.6 439.5,1402.3 440.5,1393.5 441.5,1401.0 442.5,1402.5 443.5,1397.1 444.5,1405.1 445.5,1393.2 446.5,1398.8 447.5,1399.6 448.5,1399.2 449.5,1405.7 450.5,1397.2 451.5,1396.9 452.5,1398.1 453.5,1401.3 454.5,1398.4 455.5,1392.5 456.5,1401.0 457.5,1396.3 458.5,1394.1 459.5,1402.1 460.5,1398.8 461.5,1395.7 462.5,1391.8 463.5,1395.6 464.5,1399.4 465.5,1397.7 466.5,1405.1 467.5,1397.0 468.5,1399.8 469.5,1400.6 470.5,1399.0 471.5,1397.8 472.5,1401.8 473.5,1389.1 474.5,1401.5 475.5,1397.2 476.5,1398.0 477.5,1405.0 478.5,1399.9 479.5,1402.7 480.5,1404.0 481.5,1405.7 482.5,1399.2 483.5,1395.5 484.5,1396.7 485.5,1400.5 486.5,1398.5 487.5,1398.3 488.5,1398.2 489.5,1401.2 490.5,1395.8 491.5,1394.7 492.5,1396.7 493.5,1397.3 494.5,1397.0 495.5,1389.2 496.5,1398.4 497.5,1396.7 498.5,1395.9 499.5,1394.9 500.5,1406.3 501.5,1400.5 502.5,1405.4 503.5,1401.5 504.5,1396.4 505.5,1405.2 506.5,1396.9 507.5,1397.2 508.5,1392.7 509.5,1395.3 510.5,1394.0 511.5,1395.7 512.5,1390.2 513.5,1391.6 514.5,1393.0 515.5,1406.3 516.5,1391.2 517.5,1396.6 518.5,1392.2 519.5,1394.2 520.5,1394.5 521.5,1399.4 522.5,1398.2 523.5,1400.2 524.5,1405.6 525.5,1398.2 526.5,1402.5 527.5,1398.8 528.5,1394.7 529.5,1392.8 530.5,1395.0 531.5,1395.5 532.5,1396.8 533.5,1400.7 534.5,1397.1 535.5,1399.0 536.5,1403.6 537.5,1399.7 538.5,1394.1 539.5,1398.8 540.5,1401.7 541.5,1401.6 542.5,1401.3 543.5,1400.4 544.5,1402.8 545.5,1399.7 546.5,1400.1 547.5,1389.7 548.5,1407.5 549.5,1401.9 550.5,1396.5 551.5,1393.0 552.5,1397.8 553.5,1393.5 554.5,1397.9 555.5,1393.2 556.5,1398.2 557.5,1401.3 558.5,1396.2 559.5,1398.1 560.5,1397.8 561.5,1400.0 562.5,1404.1 563.5,1399.9 564.5,1400.2 565.5,1402.1 566.5,1400.3 567.5,1397.2 568.5,1396.7 569.5,1400.4 570.5,1401.3 571.5,1399.9 572.5,1400.4 573.5,1398.4 574.5,1391.2 575.5,1399.2 576.5,1405.4 577.5,1393.0 578.5,1388.1 579.5,1401.3 580.5,1397.8 581.5,1401.0 582.5,1392.0 583.5,1397.8 584.5,1397.1 585.5,1398.2 586.5,1395.2 587.5,1398.0 588.5,1399.0 589.5,1398.7 590.5,1401.9 591.5,1396.0 592.5,1394.4 593.5,1403.6 594.5,1401.4 595.5,1397.8 596.5,1404.1 597.5,1401.7 598.5,1396.6 599.5,1398.2 600.5,1397.4 601.5,1405.7 602.5,1393.8 603.5,1397.4 604.5,1398.0 605.5,1390.2 606.5,1393.6 607.5,1403.3 608.5,1390.5 609.5,1400.1 610.5,1398.3 611.5,1401.9 612.5,1391.0 613.5,1396.3 614.5,1393.7 615.5,1391.6 616.5,1395.1 617.5,1403.2 618.5,1389.2 619.5,1396.4 620.5,1400.8 621.5,1396.4 622.5,1396.2 623.5,1396.6 624.5,1395.6 625.5,1393.7 626.5,1388.3 627.5,1391.6 628.5,1394.2 629.5,1385.8 630.5,1394.2 631.5,1385.9 632.5,1396.0 633.5,1404.0 634.5,1393.3 635.5,1400.7 636.5,1401.9 637.5,1401.4 638.5,1400.5 639.5,1398.0 640.5,1400.1 641.5,1403.9 642.5,1396.7 643.5,1395.7 644.5,1398.6 645.5,1390.0 646.5,1394.6 647.5,1404.2 648.5,1405.1 649.5,1400.9 650.5,1394.5 651.5,1404.1 652.5,1393.5 653.5,1399.7 654.5,1395.1 655.5,1398.0 656.5,1397.4 657.5,1395.9 658.5,1397.3 659.5,1398.0 660.5,1391.1 661.5,1395.5 662.5,1395.3 663.5,1399.2 664.5,1395.4 665.5,1394.6 666.5,1391.3 667.5,1392.0 668.5,1394.4 669.5,1394.8 670.5,1400.9 671.5,1398.5 672.5,1393.9 673.5,1395.5 674.5,1391.2 675.5,1388.6 676.5,1389.7 677.5,1399.2 678.5,1399.5 679.5,1398.8 680.5,1392.6 681.5,1396.5 682.5,1398.8 683.5,1401.6 684.5,1396.9 685.5,1397.2 686.5,1391.1 687.5,1386.5 688.5,1402.3 689.5,1403.6 690.5,1394.7 691.5,1395.4 692.5,1400.2 693.5,1396.0 694.5,1395.1 695.5,1400.1 696.5,1392.2 697.5,1396.6 698.5,1393.4 699.5,1389.1 700.5,1398.3 701.5,1391.2 702.5,1391.8 703.5,1389.1 704.5,1399.3 705.5,1395.1 706.5,1403.1 707.5,1397.3 708.5,1391.8 709.5,1389.5 710.5,1394.0 711.5,1400.4 712.5,1391.9 713.5,1394.9 714.5,1399.0 715.5,1394.4 716.5,1395.1 717.5,1394.2 718.5,1386.9 719.5,1398.3 720.5,1393.2 721.5,1389.5 722.5,1387.3 723.5,1398.6 724.5,1400.1 725.5,1397.7 726.5,1403.0 727.5,1400.9 728.5,1390.3 729.5,1399.0 730.5,1400.2 731.5,1395.9 732.5,1392.9 733.5,1395.9 734.5,1391.9 735.5,1387.3 736.5,1387.1 737.5,1389.8 738.5,1382.5 739.5,1379.5 740.5,1382.6 741.5,1392.0 742.5,1380.6 743.5,1386.2 744.5,1370.8 745.5,1389.8 746.5,1391.5 747.5,1392.7 748.5,1393.6 749.5,1386.3 750.5,1396.4 751.5,1396.9 752.5,1394.8 753.5,1400.1 754.5,1397.9 755.5,1399.8 756.5,1392.4 757.5,1402.2 758.5,1397.5 759.5,1396.6 760.5,1392.5 761.5,1393.7 762.5,1395.0 763.5,1399.0 764.5,1384.7 765.5,1388.1 766.5,1391.6 767.5,1399.4 768.5,1396.1 769.5,1399.0 770.5,1399.3 771.5,1397.6 772.5,1400.2 773.5,1398.9 774.5,1395.6 775.5,1394.8 776.5,1401.5 777.5,1394.7 778.5,1387.0 779.5,1393.8 780.5,1394.7 781.5,1394.3 782.5,1383.1 783.5,1389.0 784.5,1389.9 785.5,1392.4 786.5,1396.1 787.5,1389.9 788.5,1399.4 789.5,1407.5 790.5,1396.6 791.5,1394.4 792.5,1395.9 793.5,1393.4 794.5,1393.1 795.5,1393.0 796.5,1385.9 797.5,1387.8 798.5,1391.1 799.5,1392.4 800.5,1394.3 801.5,1396.4 802.5,1396.3 803.5,1395.5 804.5,1391.6 805.5,1391.9 806.5,1388.5 807.5,1391.2 808.5,1400.2 809.5,1399.5 810.5,1395.6 811.5,1382.9 812.5,1394.4 813.5,1390.3 814.5,1391.4 815.5,1394.4 816.5,1389.7 817.5,1400.8 818.5,1396.8 819.5,1399.2 820.5,1391.7 821.5,1385.2 822.5,1395.5 823.5,1398.4 824.5,1398.4 825.5,1394.1 826.5,1394.9 827.5,1392.7 828.5,1396.8 829.5,1397.2 830.5,1390.0 831.5,1389.6 832.5,1391.9 833.5,1398.2 834.5,1389.6 835.5,1382.2 836.5,1399.3 837.5,1393.0 838.5,1397.8 839.5,1396.2 840.5,1397.2 841.5,1395.9 842.5,1400.8 843.5,1397.2 844.5,1399.8 845.5,1395.7 846.5,1396.2 847.5,1398.9 848.5,1395.8 849.5,1396.7 850.5,1392.7 851.5,1392.5 852.5,1391.9 853.5,1402.0 854.5,1394.2 855.5,1396.4 856.5,1396.4 857.5,1390.5 858.5,1391.1 859.5,1393.8 860.5,1388.3 861.5,1389.2 862.5,1392.8 863.5,1389.9 864.5,1386.4 865.5,1390.5 866.5,1397.3 867.5,1395.8 868.5,1393.1 869.5,1391.7 870.5,1386.8 871.5,1394.8 872.5,1386.8 873.5,1387.7 874.5,1387.9 875.5,1393.0 876.5,1386.2 877.5,1386.7 878.5,1388.9 879.5,1390.6 880.5,1385.2 881.5,1386.3 882.5,1389.9 883.5,1384.3 884.5,1385.0 885.5,1386.4 886.5,1384.4 887.5,1390.1 888.5,1387.7 889.5,1390.7 890.5,1385.7 891.5,1387.9 892.5,1388.6 893.5,1381.9 894.5,1383.5 895.5,1380.1 896.5,1368.8 897.5,1373.0 898.5,1359.9 899.5,1348.5 900.5,1356.2 901.5,1351.8 902.5,1337.6 903.5,1344.1 904.5,1344.4 905.5,1343.8 906.5,1344.1 907.5,1330.7 908.5,1335.0 909.5,1334.5 910.5,1334.3 911.5,1331.1 912.5,1323.4 913.5,1331.5 914.5,1320.2 915.5,1315.5 916.5,1312.4 917.5,1297.9 918.5,1298.4 919.5,1287.1 920.5,1282.4 921.5,1295.3 922.5,1294.4 923.5,1305.0 924.5,1312.4 925.5,1310.1 926.5,1317.8 927.5,1317.9 928.5,1333.0 929.5,1326.7 930.5,1332.7 931.5,1327.9 932.5,1334.2 933.5,1329.7 934.5,1333.0 935.5,1331.0 936.5,1333.6 937.5,1334.0 938.5,1335.3 939.5,1335.7 940.5,1339.5 941.5,1342.4 942.5,1331.7 943.5,1324.3 944.5,1331.3 945.5,1327.0 946.5,1332.4 947.5,1323.9 948.5,1323.0 949.5,1318.3 950.5,1313.0 951.5,1300.5 952.5,1300.1 953.5,1293.7 954.5,1298.6 955.5,1295.0 956.5,1302.7 957.5,1302.9 958.5,1298.8 959.5,1300.0 960.5,1304.3 961.5,1299.1 962.5,1294.9 963.5,1288.1 964.5,1295.4 965.5,1293.3 966.5,1301.0 967.5,1309.1 968.5,1302.4 969.5,1312.6 970.5,1317.5 971.5,1322.2 972.5,1324.1 973.5,1329.9 974.5,1331.6 975.5,1333.6 976.5,1340.1 977.5,1347.7 978.5,1345.2 979.5,1354.4 980.5,1355.0 981.5,1361.3 982.5,1357.0 983.5,1366.5 984.5,1363.4 985.5,1374.3 986.5,1372.3 987.5,1367.1 988.5,1368.4 989.5,1372.1 990.5,1370.3 991.5,1372.8 992.5,1374.3 993.5,1371.7 994.5,1378.1 995.5,1371.6 996.5,1367.3 997.5,1362.9 998.5,1366.0 999.5,1358.9 1000.5,1350.9 1001.5,1357.4 1002.5,1350.3 1003.5,1346.7 1004.5,1334.4 1005.5,1332.7 1006.5,1307.7 1007.5,1267.9 1008.5,1199.1 1009.5,1126.9 1010.5,1053.6 1011.5,979.8 1012.5,945.9 1013.5,944.3 1014.5,934.6 1015.5,924.3 1016.5,911.7 1017.5,866.2 1018.5,824.6 1019.5,806.7 1020.5,802.2 1021.5,795.7 1022.5,794.9 1023.5,805.3 1024.5,816.2 1025.5,839.8 1026.5,872.2 1027.5,899.4 1028.5,915.7 1029.5,952.5 1030.5,998.5 1031.5,1043.4 1032.5,1080.3 1033.5,1095.5 1034.5,1119.5 1035.5,1142.8 1036.5,1146.3 1037.5,1153.7 1038.5,1159.9 1039.5,1168.7 1040.5,1170.1 1041.5,1175.9 1042.5,1184.5 1043.5,1176.3 1044.5,1164.7 1045.5,1148.5 1046.5,1129.3 1047.5,1121.9 1048.5,1100.1 1049.5,1095.8 1050.5,1105.7 1051.5,1103.8 1052.5,1133.7 1053.5,1137.2 1054.5,1157.0 1055.5,1165.6 1056.5,1167.0 1057.5,1160.6 1058.5,1159.3 1059.5,1155.7 1060.5,1137.1 1061.5,1136.3 1062.5,1128.4 1063.5,1126.2 1064.5,1121.0 1065.5,1109.7 1066.5,1101.9 1067.5,1105.7 1068.5,1114.8 1069.5,1118.1 1070.5,1135.2 1071.5,1145.5 1072.5,1169.1 1073.5,1182.5 1074.5,1203.0 1075.5,1217.4 1076.5,1233.3 1077.5,1243.6 1078.5,1260.5 1079.5,1272.9 1080.5,1286.4 1081.5,1286.2 1082.5,1299.2 1083.5,1303.5 1084.5,1303.6 1085.5,1312.8 1086.5,1320.5 1087.5,1322.9 1088.5,1327.1 1089.5,1323.4 1090.5,1330.6 1091.5,1333.7 1092.5,1342.1 1093.5,1334.8 1094.5,1335.6 1095.5,1335.3 1096.5,1345.8 1097.5,1338.6 1098.5,1347.3 1099.5,1345.2 1100.5,1347.4 1101.5,1345.7 1102.5,1355.4 1103.5,1350.8 1104.5,1349.5 1105.5,1346.7 1106.5,1356.5 1107.5,1355.8 1108.5,1354.0 1109.5,1362.4 1110.5,1363.3 1111.5,1363.2 1112.5,1358.7 1113.5,1366.1 1114.5,1364.9 1115.5,1359.7 1116.5,1367.6 1117.5,1362.6 1118.5,1367.5 1119.5,1368.4 1120.5,1372.4 1121.5,1373.4 1122.5,1367.6 1123.5,1366.8 1124.5,1374.9 1125.5,1373.4 1126.5,1374.1 1127.5,1373.7 1128.5,1369.3 1129.5,1377.4 1130.5,1369.8 1131.5,1369.4 1132.5,1381.8 1133.5,1377.3 1134.5,1379.7 1135.5,1383.7 1136.5,1373.2 1137.5,1375.7 1138.5,1384.3 1139.5,1385.2 1140.5,1383.3 1141.5,1379.6 1142.5,1380.6 1143.5,1383.8 1144.5,1388.8 1145.5,1390.3 1146.5,1383.6 1147.5,1380.3 1148.5,1378.9 1149.5,1376.3 1150.5,1382.4 1151.5,1383.0 1152.5,1378.5 1153.5,1384.1 1154.5,1381.0 1155.5,1393.8 1156.5,1380.1 1157.5,1383.8 1158.5,1383.4 1159.5,1380.9 1160.5,1383.8 1161.5,1389.6 1162.5,1385.5 1163.5,1377.4 1164.5,1384.7 1165.5,1384.6 1166.5,1387.3 1167.5,1387.1 1168.5,1390.1 1169.5,1393.2 1170.5,1389.8 1171.5,1392.9 1172.5,1394.9 1173.5,1385.9 1174.5,1391.0 1175.5,1388.8 1176.5,1384.0 1177.5,1383.5 1178.5,1391.8 1179.5,1387.7 1180.5,1388.6 1181.5,1390.4 1182.5,1385.8 1183.5,1388.1 1184.5,1388.1 1185.5,1384.8 1186.5,1383.5 1187.5,1382.4 1188.5,1385.9 1189.5,1382.8 1190.5,1389.5 1191.5,1390.4 1192.5,1386.5 1193.5,1392.7 1194.5,1387.1 1195.5,1385.6 1196.5,1389.8 1197.5,1381.8 1198.5,1387.4 1199.5,1386.0 1200.5,1390.2 1201.5,1390.0 1202.5,1394.4 1203.5,1387.3 1204.5,1385.3 1205.5,1384.8 1206.5,1388.3 1207.5,1385.7 1208.5,1381.8 1209.5,1383.9 1210.5,1385.3 1211.5,1384.6 1212.5,1381.8 1213.5,1381.5 1214.5,1383.1 1215.5,1378.1 1216.5,1381.5 1217.5,1378.0 1218.5,1380.9 1219.5,1372.2 1220.5,1372.2 1221.5,1369.1 1222.5,1361.8 1223.5,1342.2 1224.5,1334.9 1225.5,1319.6 1226.5,1311.8 1227.5,1299.5 1228.5,1293.5 1229.5,1290.3 1230.5,1298.8 1231.5,1307.6 1232.5,1325.3 1233.5,1325.4 1234.5,1349.3 1235.5,1338.0 1236.5,1362.0 1237.5,1365.2 1238.5,1375.8 1239.5,1375.9 1240.5,1381.6 1241.5,1389.3 1242.5,1389.5 1243.5,1390.7 1244.5,1382.6 1245.5,1386.1 1246.5,1385.0 1247.5,1383.9 1248.5,1384.9 1249.5,1385.2 1250.5,1389.1 1251.5,1391.3 1252.5,1387.2 1253.5,1388.8 1254.5,1390.6 1255.5,1388.4 1256.5,1388.8 1257.5,1388.4 1258.5,1384.0 1259.5,1395.5 1260.5,1384.7 1261.5,1393.3 1262.5,1379.8 1263.5,1378.1 1264.5,1379.1 1265.5,1376.2 1266.5,1362.8 1267.5,1371.9 1268.5,1367.9 1269.5,1361.5 1270.5,1371.2 1271.5,1359.6 1272.5,1358.5 1273.5,1357.3 1274.5,1359.5 1275.5,1369.0 1276.5,1360.5 1277.5,1371.8 1278.5,1380.3 1279.5,1372.4 1280.5,1375.5 1281.5,1376.9 1282.5,1377.8 1283.5,1376.2 1284.5,1380.2 1285.5,1390.8 1286.5,1384.9 1287.5,1385.7 1288.5,1388.1 1289.5,1387.3 1290.5,1388.0 1291.5,1385.0 1292.5,1392.0 1293.5,1398.9 1294.5,1391.6 1295.5,1395.8 1296.5,1394.5 1297.5,1391.0 1298.5,1398.0 1299.5,1393.0 1300.5,1397.0 1301.5,1396.1 1302.5,1394.5 1303.5,1395.6 1304.5,1390.9 1305.5,1397.2 1306.5,1394.2 1307.5,1394.6 1308.5,1395.4 1309.5,1391.2 1310.5,1389.8 1311.5,1391.4 1312.5,1389.1 1313.5,1393.6 1314.5,1388.9 1315.5,1389.8 1316.5,1392.3 1317.5,1387.4 1318.5,1394.5 1319.5,1394.5 1320.5,1394.9 1321.5,1388.5 1322.5,1394.3 1323.5,1386.1 1324.5,1394.3 1325.5,1391.4 1326.5,1390.7 1327.5,1389.2 1328.5,1394.3 1329.5,1389.6 1330.5,1389.2 1331.5,1393.0 1332.5,1400.1 1333.5,1378.9 1334.5,1395.4 1335.5,1396.8 1336.5,1393.4 1337.5,1401.2 1338.5,1389.7 1339.5,1397.2 1340.5,1391.1 1341.5,1392.5 1342.5,1396.0 1343.5,1391.8 1344.5,1391.8 1345.5,1393.6 1346.5,1392.2 1347.5,1391.0 1348.5,1394.3 1349.5,1395.5 1350.5,1392.3 1351.5,1398.8 1352.5,1397.0 1353.5,1391.0 1354.5,1391.3 1355.5,1394.5 1356.5,1391.6 1357.5,1394.3 1358.5,1396.3 1359.5,1391.2 1360.5,1393.6 1361.5,1393.7 1362.5,1394.4 1363.5,1385.3 1364.5,1391.4 1365.5,1389.8 1366.5,1393.9 1367.5,1391.0 1368.5,1395.1 1369.5,1393.3 1370.5,1392.2 1371.5,1391.4 1372.5,1384.9 1373.5,1394.4 1374.5,1388.9 1375.5,1391.9 1376.5,1392.9 1377.5,1385.7 1378.5,1393.8 1379.5,1398.6 1380.5,1386.7 1381.5,1387.2 1382.5,1394.7 1383.5,1386.2 1384.5,1392.5 1385.5,1390.2 1386.5,1386.4 1387.5,1396.4 1388.5,1395.1 1389.5,1390.3 1390.5,1395.8 1391.5,1397.1 1392.5,1392.0 1393.5,1391.1 1394.5,1390.3 1395.5,1384.7 1396.5,1399.2 1397.5,1398.5 1398.5,1394.1 1399.5,1398.1 1400.5,1395.5 1401.5,1397.6 1402.5,1390.7 1403.5,1389.9 1404.5,1396.4 1405.5,1385.7 1406.5,1387.6 1407.5,1396.7 1408.5,1394.9 1409.5,1394.3 1410.5,1386.3 1411.5,1391.2 1412.5,1393.1 1413.5,1392.3 1414.5,1392.0 1415.5,1390.0 1416.5,1394.5 1417.5,1391.9 1418.5,1396.2 1419.5,1393.9 1420.5,1396.6 1421.5,1396.3 1422.5,1404.4 1423.5,1403.0 1424.5,1391.0 1425.5,1395.6 1426.5,1399.1 1427.5,1393.4 1428.5,1386.3 1429.5,1389.2 1430.5,1397.1 1431.5,1395.6 1432.5,1399.8 1433.5,1396.9 1434.5,1389.8 1435.5,1388.4 1436.5,1394.0 1437.5,1399.6 1438.5,1402.5 1439.5,1392.0 1440.5,1392.1 1441.5,1392.1 1442.5,1391.7 1443.5,1384.8 1444.5,1393.7 1445.5,1392.1 1446.5,1391.3 1447.5,1388.2 1448.5,1395.0 1449.5,1395.7 1450.5,1393.1 1451.5,1395.8 1452.5,1399.6 1453.5,1395.6 1454.5,1395.6 1455.5,1397.7 1456.5,1399.9 1457.5,1397.5 1458.5,1396.6 1459.5,1391.8 1460.5,1390.1 1461.5,1404.4 1462.5,1393.2 1463.5,1394.3 1464.5,1393.4 1465.5,1391.8 1466.5,1397.7 1467.5,1400.1 1468.5,1393.6 1469.5,1395.5 1470.5,1392.0 1471.5,1392.2 1472.5,1394.3 1473.5,1390.1 1474.5,1393.2 1475.5,1390.8 1476.5,1395.9 1477.5,1392.9 1478.5,1394.1 1479.5,1398.8 1480.5,1386.2 1481.5,1390.5 1482.5,1398.0 1483.5,1400.2 1484.5,1389.5 1485.5,1387.2 1486.5,1394.2 1487.5,1393.7 1488.5,1393.5 1489.5,1398.1 1490.5,1394.3 1491.5,1399.0 1492.5,1407.1 1493.5,1400.2 1494.5,1397.8 1495.5,1391.9 1496.5,1399.1 1497.5,1400.6 1498.5,1397.1 1499.5,1397.2 1500.5,1398.3 1501.5,1390.7 1502.5,1392.8 1503.5,1396.5 1504.5,1392.0 1505.5,1388.4 1506.5,1396.9 1507.5,1397.4 1508.5,1392.4 1509.5,1393.9 1510.5,1395.8 1511.5,1393.8 1512.5,1396.8 1513.5,1383.6 1514.5,1389.1 1515.5,1387.2 1516.5,1391.7 1517.5,1387.1 1518.5,1399.1 1519.5,1392.1 1520.5,1388.5 1521.5,1392.8 1522.5,1391.2 1523.5,1399.6 1524.5,1393.2 1525.5,1391.2 1526.5,1390.5 1527.5,1393.0 1528.5,1395.6 1529.5,1388.5 1530.5,1397.6 1531.5,1396.8 1532.5,1391.0 1533.5,1393.5 1534.5,1391.5 1535.5,1395.4 1536.5,1389.0 1537.5,1388.2 1538.5,1394.5 1539.5,1387.8 1540.5,1393.7 1541.5,1385.8 1542.5,1385.5 1543.5,1397.8 1544.5,1401.8 1545.5,1397.7 1546.5,1395.8 1547.5,1394.9 1548.5,1395.7 1549.5,1388.8 1550.5,1392.7 1551.5,1390.1 1552.5,1397.9 1553.5,1387.7 1554.5,1389.1 1555.5,1385.6 1556.5,1384.3 1557.5,1377.7 1558.5,1381.2 1559.5,1377.7 1560.5,1386.0 1561.5,1375.8 1562.5,1376.1 1563.5,1369.2 1564.5,1372.5 1565.5,1366.5 1566.5,1367.1 1567.5,1359.2 1568.5,1355.2 1569.5,1351.1 1570.5,1346.0 1571.5,1338.5 1572.5,1337.4 1573.5,1327.8 1574.5,1316.8 1575.5,1312.0 1576.5,1307.6 1577.5,1312.9 1578.5,1308.5 1579.5,1307.3 1580.5,1302.7 1581.5,1301.2 1582.5,1297.7 1583.5,1301.8 1584.5,1302.1 1585.5,1296.5 1586.5,1296.3 1587.5,1294.0 1588.5,1278.5 1589.5,1275.1 1590.5,1262.1 1591.5,1250.6 1592.5,1244.4 1593.5,1237.5 1594.5,1209.5 1595.5,1166.4 1596.5,1126.3 1597.5,1120.6 1598.5,1115.7 1599.5,1113.5 1600.5,1111.9 1601.5,1123.4 1602.5,1125.0 1603.5,1126.6 1604.5,1141.9 1605.5,1147.8 1606.5,1159.5 1607.5,1172.1 1608.5,1175.9 1609.5,1188.5 1610.5,1192.2 1611.5,1209.4 1612.5,1218.3 1613.5,1230.4 1614.5,1223.1 1615.5,1223.4 1616.5,1221.0 1617.5,1210.6 1618.5,1215.7 1619.5,1205.7 1620.5,1202.7 1621.5,1198.3 1622.5,1195.1 1623.5,1204.3 1624.5,1198.1 1625.5,1205.4 1626.5,1202.2 1627.5,1198.3 1628.5,1194.4 1629.5,1179.5 1630.5,1186.0 1631.5,1185.0 1632.5,1178.9 1633.5,1184.4 1634.5,1168.6 1635.5,1171.4 1636.5,1169.3 1637.5,1170.5 1638.5,1170.3 1639.5,1170.6 1640.5,1187.1 1641.5,1184.8 1642.5,1190.7 1643.5,1195.2 1644.5,1200.7 1645.5,1200.5 1646.5,1201.7 1647.5,1210.0 1648.5,1220.3 1649.5,1211.7 1650.5,1218.6 1651.5,1214.6 1652.5,1229.1 1653.5,1234.7 1654.5,1253.8 1655.5,1253.1 1656.5,1264.4 1657.5,1266.0 1658.5,1270.8 1659.5,1271.0 1660.5,1272.9 1661.5,1285.2 1662.5,1277.8 1663.5,1284.3 1664.5,1288.1 1665.5,1291.3 1666.5,1299.5 1667.5,1302.6 1668.5,1305.9 1669.5,1308.7 1670.5,1309.7 1671.5,1317.4 1672.5,1320.4 1673.5,1329.4 1674.5,1323.3 1675.5,1329.7 1676.5,1336.0 1677.5,1348.3 1678.5,1346.0 1679.5,1356.5 1680.5,1356.8 1681.5,1361.1 1682.5,1366.1 1683.5,1363.8 1684.5,1361.1 1685.5,1373.1 1686.5,1369.6 1687.5,1376.0 1688.5,1378.1 1689.5,1377.0 1690.5,1377.0 1691.5,1382.5 1692.5,1385.2 1693.5,1383.7 1694.5,1393.2 1695.5,1394.5 1696.5,1386.7 1697.5,1384.2 1698.5,1387.3 1699.5,1389.5 1700.5,1391.9 1701.5,1393.4 1702.5,1391.9 1703.5,1392.4 1704.5,1393.7 1705.5,1392.0 1706.5,1388.9 1707.5,1396.2 1708.5,1397.2 1709.5,1385.9 1710.5,1395.9 1711.5,1395.2 1712.5,1391.9 1713.5,1395.6 1714.5,1391.2 1715.5,1396.1 1716.5,1393.7 1717.5,1396.3 1718.5,1395.4 1719.5,1399.4 1720.5,1400.4 1721.5,1397.8 1722.5,1403.0 1723.5,1394.6 1724.5,1400.0 1725.5,1400.8 1726.5,1393.1 1727.5,1400.9 1728.5,1400.8 1729.5,1395.1 1730.5,1397.7 1731.5,1396.4 1732.5,1395.1 1733.5,1392.5 1734.5,1396.2 1735.5,1390.2 1736.5,1398.2 1737.5,1395.3 1738.5,1398.0 1739.5,1392.2 1740.5,1401.1 1741.5,1388.9 1742.5,1401.7 1743.5,1396.5 1744.5,1396.5 1745.5,1394.6 1746.5,1394.4 1747.5,1400.7 1748.5,1400.7 1749.5,1395.9 1750.5,1394.9 1751.5,1399.8 1752.5,1395.5 1753.5,1392.1 1754.5,1397.0 1755.5,1395.2 1756.5,1400.0 1757.5,1388.1 1758.5,1396.2 1759.5,1395.2 1760.5,1394.9 1761.5,1396.7 1762.5,1395.4 1763.5,1394.7 1764.5,1392.9 1765.5,1391.8 1766.5,1391.6 1767.5,1394.4 1768.5,1397.5 1769.5,1394.9 1770.5,1398.1 1771.5,1387.6 1772.5,1390.6 1773.5,1394.8 1774.5,1396.9 1775.5,1392.1 1776.5,1393.3 1777.5,1388.8 1778.5,1403.3 1779.5,1394.2 1780.5,1402.1 1781.5,1389.3 1782.5,1404.7 1783.5,1401.3 1784.5,1400.2 1785.5,1397.3 1786.5,1396.4 1787.5,1391.1 1788.5,1395.5 1789.5,1394.6 1790.5,1394.2 1791.5,1401.2 1792.5,1390.8 1793.5,1400.2 1794.5,1393.4 1795.5,1394.2 1796.5,1402.1 1797.5,1395.0 1798.5,1397.6 1799.5,1398.3 1800.5,1398.7 1801.5,1398.1 1802.5,1395.9 1803.5,1393.2 1804.5,1404.9 1805.5,1388.9 1806.5,1394.5 1807.5,1393.5 1808.5,1397.1 1809.5,1396.7 1810.5,1393.3 1811.5,1399.3 1812.5,1401.2 1813.5,1394.1 1814.5,1396.5 1815.5,1399.6 1816.5,1391.9 1817.5,1398.2 1818.5,1397.8 1819.5,1399.5 1820.5,1398.5 1821.5,1400.8 1822.5,1391.5 1823.5,1401.9 1824.5,1397.9 1825.5,1402.8 1826.5,1397.2 1827.5,1395.4 1828.5,1396.0 1829.5,1393.5 1830.5,1397.9 1831.5,1393.8 1832.5,1398.5 1833.5,1399.3 1834.5,1397.1 1835.5,1394.0 1836.5,1405.9 1837.5,1402.2 1838.5,1402.6 1839.5,1397.9 1840.5,1401.0 1841.5,1398.0 1842.5,1394.0 1843.5,1396.9 1844.5,1397.1 1845.5,1399.8 1846.5,1402.1 1847.5,1398.0 1848.5,1390.6 1849.5,1400.8 1850.5,1396.8 1851.5,1400.1 1852.5,1394.3 1853.5,1391.7 1854.5,1400.3 1855.5,1395.4 1856.5,1396.5 1857.5,1391.0 1858.5,1400.1 1859.5,1395.3 1860.5,1395.6 1861.5,1391.4 1862.5,1400.2 1863.5,1397.5 1864.5,1400.6 1865.5,1399.8 1866.5,1389.9 1867.5,1393.1 1868.5,1398.3 1869.5,1397.9 1870.5,1396.4 1871.5,1390.9 1872.5,1392.5 1873.5,1396.8 1874.5,1401.5 1875.5,1398.8 1876.5,1391.8 1877.5,1402.0 1878.5,1400.0 1879.5,1406.2 1880.5,1396.9 1881.5,1397.9 1882.5,1390.9 1883.5,1404.9 1884.5,1401.1 1885.5,1401.2 1886.5,1394.3 1887.5,1397.5 1888.5,1402.9 1889.5,1395.7 1890.5,1409.0 1891.5,1391.8 1892.5,1392.6 1893.5,1401.7 1894.5,1398.7 1895.5,1401.1 1896.5,1393.9 1897.5,1392.4 1898.5,1397.0 1899.5,1387.4 1900.5,1394.7 1901.5,1391.4 1902.5,1393.4 1903.5,1395.3 1904.5,1395.9 1905.5,1398.8 1906.5,1400.9 1907.5,1401.7 1908.5,1398.1 1909.5,1393.8 1910.5,1389.6 1911.5,1395.2 1912.5,1397.5 1913.5,1398.3 1914.5,1398.2 1915.5,1403.2 1916.5,1402.4 1917.5,1396.8 1918.5,1394.0 1919.5,1391.9 1920.5,1394.3 1921.5,1398.3 1922.5,1391.8 1923.5,1394.9 1924.5,1397.5 1925.5,1389.6 1926.5,1397.1 1927.5,1392.1 1928.5,1398.1 1929.5,1396.9 1930.5,1396.3 1931.5,1396.1 1932.5,1396.1 1933.5,1394.8 1934.5,1391.0 1935.5,1395.9 1936.5,1399.7 1937.5,1405.1 1938.5,1394.5 1939.5,1390.8 1940.5,1401.6 1941.5,1395.3 1942.5,1388.9 1943.5,1397.7 1944.5,1396.5 1945.5,1390.9 1946.5,1396.7 1947.5,1398.8 1948.5,1395.6 1949.5,1408.1 1950.5,1400.7 1951.5,1394.6 1952.5,1399.4 1953.5,1399.5 1954.5,1398.3 1955.5,1399.5 1956.5,1400.4 1957.5,1398.4 1958.5,1403.2 1959.5,1397.1 1960.5,1399.5 1961.5,1397.0 1962.5,1401.4 1963.5,1393.6 1964.5,1400.4 1965.5,1402.0 1966.5,1395.6 1967.5,1402.6 1968.5,1392.3 1969.5,1389.1 1970.5,1401.5 1971.5,1402.5 1972.5,1395.7 1973.5,1394.5 1974.5,1394.8 1975.5,1401.1 1976.5,1402.3 1977.5,1405.4 1978.5,1396.0 1979.5,1401.0 1980.5,1406.9 1981.5,1397.7 1982.5,1396.4 1983.5,1398.3 1984.5,1390.6 1985.5,1396.7 1986.5,1409.0 1987.5,1398.9 1988.5,1397.5 1989.5,1401.1 1990.5,1403.5 1991.5,1402.6 1992.5,1395.0 1993.5,1402.9 1994.5,1408.1 1995.5,1397.6 1996.5,1402.9 1997.5,1396.8 1998.5,1398.2 1999.5,1395.6 2000.5,1400.1 2001.5,1392.7 2002.5,1392.5 2003.5,1393.7 2004.5,1393.3 2005.5,1393.3 2006.5,1396.5 2007.5,1395.4 2008.5,1393.1 2009.5,1396.9 2010.5,1400.2 2011.5,1405.0 2012.5,1393.7 2013.5,1390.3 2014.5,1394.7 2015.5,1395.7 2016.5,1398.6 2017.5,1396.6 2018.5,1392.9 2019.5,1388.4 2020.5,1393.4 2021.5,1395.3 2022.5,1390.5 2023.5,1390.8 2024.5,1405.2 2025.5,1398.8 2026.5,1404.0 2027.5,1406.3 2028.5,1397.2 2029.5,1399.2 2030.5,1400.1 2031.5,1396.5 2032.5,1398.8 2033.5,1396.6 2034.5,1395.1 2035.5,1398.9 2036.5,1386.7 2037.5,1392.0 2038.5,1396.9 2039.5,1395.9 2040.5,1400.7 2041.5,1397.3 2042.5,1396.8 2043.5,1401.0 2044.5,1401.5 2045.5,1387.2 2046.5,1401.9 2047.5,1393.9 2048.5,1402.2 2049.5,1401.2 2050.5,1396.3 2051.5,1397.0 2052.5,1391.1 2053.5,1395.5 2054.5,1398.4 2055.5,1390.4 2056.5,1399.8 2057.5,1391.1 2058.5,1395.9 2059.5,1393.5 2060.5,1396.5 2061.5,1398.6 2062.5,1398.5 2063.5,1394.0 2064.5,1398.7 2065.5,1400.4 2066.5,1401.3 2067.5,1405.7 2068.5,1392.2 2069.5,1395.1 2070.5,1400.1 2071.5,1395.0 2072.5,1392.6 2073.5,1395.8 2074.5,1394.8 2075.5,1395.0 2076.5,1393.4 2077.5,1395.3 2078.5,1392.4 2079.5,1392.3 2080.5,1395.3 2081.5,1395.7 2082.5,1398.3 2083.5,1394.3 2084.5,1391.1 2085.5,1396.0"/>
<polyline stroke="#ff00ff" points="303.5,1397.6 304.5,1394.2 305.5,1395.1 306.5,1388.0 307.5,1394.1 308.5,1393.4 309.5,1398.3 310.5,1394.4 311.5,1396.4 312.5,1397.2 313.5,1389.4 314.5,1392.2 315.5,1390.9 316.5,1393.0 317.5,1397.2 318.5,1393.0 319.5,1389.2 320.5,1397.2 321.5,1395.4 322.5,1395.5 323.5,1391.8 324.5,1395.8 325.5,1392.5 326.5,1392.2 327.5,1395.1 328.5,1392.8 329.5,1398.6 330.5,1396.1 331.5,1392.8 332.5,1394.5 333.5,1395.7 334.5,1397.7 335.5,1395.0 336.5,1396.1 337.5,1398.4 338.5,1405.0 339.5,1386.5 340.5,1389.2 341.5,1401.6 342.5,1391.9 343.5,1398.4 344.5,1391.8 345.5,1399.4 346.5,1395.7 347.5,1397.4 348.5,1392.5 349.5,1391.7 350.5,1394.6 351.5,1404.1 352.5,1394.4 353.5,1398.7 354.5,1388.1 355.5,1396.7 356.5,1404.2 357.5,1397.2 358.5,1402.8 359.5,1396.1 360.5,1402.7 361.5,1395.4 362.5,1402.6 363.5,1390.3 364.5,1394.6 365.5,1391.5 366.5,1395.8 367.5,1387.2 368.5,1396.5 369.5,1392.8 370.5,1395.3 371.5,1389.4 372.5,1399.8 373.5,1400.4 374.5,1392.3 375.5,1397.9 376.5,1399.4 377.5,1393.7 378.5,1395.5 379.5,1404.7 380.5,1393.2 381.5,1394.6 382.5,1395.6 383.5,1387.5 384.5,1388.1 385.5,1385.4 386.5,1394.4 387.5,1397.4 388.5,1384.2 389.5,1391.4 390.5,1391.7 391.5,1397.5 392.5,1395.1 393.5,1389.6 394.5,1405.1 395.5,1399.1 396.5,1393.8 397.5,1404.1 398.5,1394.9 399.5,1399.8 400.5,1406.7 401.5,1400.3 402.5,1399.8 403.5,1399.5 404.5,1395.4 405.5,1402.8 406.5,1397.5 407.5,1392.6 408.5,1393.5 409.5,1394.1 410.5,1384.3 411.5,1398.5 412.5,1399.9 413.5,1395.1 414.5,1398.5 415.5,1393.5 416.5,1397.4 417.5,1388.6 418.5,1397.4 419.5,1394.9 420.5,1389.5 421.5,1392.1 422.5,1388.1 423.5,1388.6 424.5,1388.4 425.5,1397.7 426.5,1389.6 427.5,1393.7 428.5,1393.5 429.5,1399.0 430.5,1393.6 431.5,1392.1 432.5,1393.5 433.5,1392.5 434.5,1393.6 435.5,1394.6 436.5,1391.5 437.5,1394.3 438.5,1394.4 439.5,1392.4 440.5,1390.5 441.5,1387.4 442.5,1389.8 443.5,1393.9 444.5,1397.4 445.5,1392.6 446.5,1397.6 447.5,1397.1 448.5,1400.3 449.5,1387.1 450.5,1387.1 451.5,1396.0 452.5,1391.3 453.5,1390.9 454.5,1386.9 455.5,1388.0 456.5,1397.8 457.5,1393.1 458.5,1400.9 459.5,1394.9 460.5,1394.0 461.5,1395.0 462.5,1398.0 463.5,1394.3 464.5,1383.7 465.5,1394.2 466.5,1391.0 467.5,1386.9 468.5,1387.3 469.5,1392.4 470.5,1385.6 471.5,1386.6 472.5,1392.6 473.5,1393.1 474.5,1395.4 475.5,1393.0 476.5,1394.0 477.5,1390.3 478.5,1401.3 479.5,1390.1 480.5,1393.9 481.5,1387.3 482.5,1388.1 483.5,1393.5 484.5,1392.8 485.5,1394.5 486.5,1396.2 487.5,1392.2 488.5,1387.4 489.5,1391.0 490.5,1395.3 491.5,1390.4 492.5,1395.4 493.5,1391.8 494.5,1390.2 495.5,1389.7 496.5,1389.0 497.5,1396.8 498.5,1403.7 499.5,1393.5 500.5,1394.4 501.5,1390.8 502.5,1391.3 503.5,1395.4 504.5,1394.0 505.5,1390.7 506.5,1396.8 507.5,1402.8 508.5,1392.7 509.5,1393.5 510.5,1396.2 511.5,1389.2 512.5,1395.2 513.5,1397.9 514.5,1394.3 515.5,1388.4 516.5,1400.1 517.5,1392.4 518.5,1400.8 519.5,1392.6 520.5,1397.1 521.5,1396.8 522.5,1392.1 523.5,1384.6 524.5,1401.7 525.5,1395.4 526.5,1397.8 527.5,1390.0 528.5,1395.0 529.5,1399.4 530.5,1393.2 531.5,1394.9 532.5,1398.8 533.5,1395.3 534.5,1397.0 535.5,1393.9 536.5,1401.2 537.5,1393.2 538.5,1390.8 539.5,1397.1 540.5,1378.5 541.5,1386.3 542.5,1391.4 543.5,1394.6 544.5,1393.3 545.5,1392.5 546.5,1390.5 547.5,1397.7 548.5,1396.9 549.5,1387.2 550.5,1398.1 551.5,1385.1 552.5,1394.6 553.5,1400.8 554.5,1399.5 555.5,1389.9 556.5,1396.3 557.5,1401.4 558.5,1391.5 559.5,1393.6 560.5,1397.2 561.5,1398.2 562.5,1399.4 563.5,1392.9 564.5,1391.3 565.5,1387.6 566.5,1387.6 567.5,1389.7 568.5,1399.1 569.5,1394.8 570.5,1389.9 571.5,1393.0 572.5,1391.9 573.5,1395.0 574.5,1394.3 575.5,1391.0 576.5,1393.6 577.5,1401.8 578.5,1398.0 579.5,1401.1 580.5,1403.2 581.5,1392.6 582.5,1396.1 583.5,1384.9 584.5,1390.7 585.5,1390.0 586.5,1392.9 587.5,1393.1 588.5,1386.8 589.5,1392.1 590.5,1383.8 591.5,1386.2 592.5,1385.9 593.5,1388.6 594.5,1392.6 595.5,1383.8 596.5,1391.4 597.5,1389.7 598.5,1387.3 599.5,1392.8 600.5,1393.9 601.5,1398.0 602.5,1388.5 603.5,1386.2 604.5,1396.9 605.5,1388.9 606.5,1385.9 607.5,1386.6 608.5,1389.4 609.5,1396.1 610.5,1399.1 611.5,1395.6 612.5,1390.5 613.5,1386.6 614.5,1386.6 615.5,1391.8 616.5,1388.8 617.5,1391.7 618.5,1396.8 619.5,1391.9 620.5,1384.8 621.5,1386.3 622.5,1389.5 623.5,1390.4 624.5,1381.4 625.5,1389.5 626.5,1393.0 627.5,1397.7 628.5,1394.6 629.5,1390.2 630.5,1394.0 631.5,1389.9 632.5,1393.9 633.5,1380.5 634.5,1392.8 635.5,1386.9 636.5,1393.4 637.5,1389.0 638.5,1386.5 639.5,1389.5 640.5,1397.6 641.5,1385.0 642.5,1388.4 643.5,1395.1 644.5,1393.2 645.5,1388.7 646.5,1394.5 647.5,1388.6 648.5,1396.5 649.5,1391.1 650.5,1388.5 651.5,1393.9 652.5,1392.1 653.5,1391.5 654.5,1387.3 655.5,1388.0 656.5,1391.5 657.5,1390.7 658.5,1393.0 659.5,1393.0 660.5,1393.6 661.5,1394.7 662.5,1389.7 663.5,1394.8 664.5,1397.6 665.5,1397.5 666.5,1394.2 667.5,1391.4 668.5,1394.9 669.5,1396.0 670.5,1390.4 671.5,1386.8 672.5,1394.9 673.5,1392.8 674.5,1399.2 675.5,1381.8 676.5,1395.8 677.5,1396.0 678.5,1389.3 679.5,1391.3 680.5,1386.7 681.5,1394.0 682.5,1391.3 683.5,1392.1 684.5,1391.5 685.5,1386.0 686.5,1393.2 687.5,1395.6 688.5,1389.4 689.5,1393.6 690.5,1386.7 691.5,1389.3 692.5,1389.9 693.5,1396.9 694.5,1396.7 695.5,1393.1 696.5,1391.2 697.5,1399.9 698.5,1393.7 699.5,1391.0 700.5,1394.3 701.5,1387.6 702.5,1390.0 703.5,1384.2 704.5,1393.1 705.5,1388.1 706.5,1401.2 707.5,1393.3 708.5,1386.2 709.5,1392.0 710.5,1392.6 711.5,1395.6 712.5,1383.7 713.5,1385.3 714.5,1390.3 715.5,1388.4 716.5,1389.6 717.5,1395.2 718.5,1388.3 719.5,1392.3 720.5,1393.9 721.5,1386.8 722.5,1391.8 723.5,1396.8 724.5,1390.7 725.5,1392.8 726.5,1390.6 727.5,1391.5 728.5,1388.5 729.5,1387.1 730.5,1390.3 731.5,1376.3 732.5,1382.3 733.5,1392.1 734.5,1376.5 735.5,1385.1 736.5,1376.0 737.5,1369.7 738.5,1376.2 739.5,1374.7 740.5,1369.5 741.5,1372.6 742.5,1374.5 743.5,1379.5 744.5,1380.6 745.5,1390.1 746.5,1385.0 747.5,1384.5 748.5,1382.1 749.5,1383.5 750.5,1392.2 751.5,1391.5 752.5,1398.8 753.5,1391.1 754.5,1384.5 755.5,1389.5 756.5,1392.8 757.5,1388.8 758.5,1390.3 759.5,1395.1 760.5,1394.4 761.5,1392.2 762.5,1388.6 763.5,1394.6 764.5,1394.9 765.5,1397.5 766.5,1391.4 767.5,1394.8 768.5,1382.3 769.5,1389.1 770.5,1402.1 771.5,1384.3 772.5,1389.7 773.5,1391.9 774.5,1391.3 775.5,1394.2 776.5,1394.6 777.5,1393.1 778.5,1390.3 779.5,1388.1 780.5,1382.1 781.5,1388.9 782.5,1387.5 783.5,1387.0 784.5,1394.2 785.5,1395.0 786.5,1394.8 787.5,1385.4 788.5,1397.9 789.5,1390.3 790.5,1396.3 791.5,1382.2 792.5,1397.8 793.5,1388.3 794.5,1393.0 795.5,1395.1 796.5,1387.3 797.5,1386.7 798.5,1386.6 799.5,1382.1 800.5,1394.4 801.5,1389.8 802.5,1392.0 803.5,1393.6 804.5,1389.3 805.5,1382.0 806.5,1394.7 807.5,1381.9 808.5,1389.1 809.5,1391.6 810.5,1393.6 811.5,1384.3 812.5,1386.4 813.5,1387.1 814.5,1388.9 815.5,1387.3 816.5,1388.8 817.5,1387.5 818.5,1396.3 819.5,1388.2 820.5,1385.7 821.5,1386.9 822.5,1396.0 823.5,1390.3 824.5,1389.7 825.5,1386.1 826.5,1386.5 827.5,1384.9 828.5,1388.6 829.5,1384.2 830.5,1387.1 831.5,1388.3 832.5,1394.3 833.5,1387.8 834.5,1391.3 835.5,1398.1 836.5,1387.2 837.5,1394.6 838.5,1391.6 839.5,1391.9 840.5,1394.1 841.5,1392.5 842.5,1389.4 843.5,1395.8 844.5,1397.1 845.5,1386.1 846.5,1387.2 847.5,1392.0 848.5,1385.1 849.5,1395.4 850.5,1391.1 851.5,1390.7 852.5,1392.0 853.5,1389.5 854.5,1392.0 855.5,1394.9 856.5,1389.1 857.5,1383.2 858.5,1384.8 859.5,1385.1 860.5,1386.7 861.5,1381.4 862.5,1388.2 863.5,1384.7 864.5,1383.9 865.5,1387.5 866.5,1378.7 867.5,1378.7 868.5,1377.3 869.5,1385.4 870.5,1375.8 871.5,1383.2 872.5,1382.6 873.5,1381.2 874.5,1379.3 875.5,1385.0 876.5,1381.1 877.5,1382.0 878.5,1382.1 879.5,1382.1 880.5,1385.8 881.5,1381.5 882.5,1375.7 883.5,1384.0 884.5,1386.1 885.5,1373.6 886.5,1384.7 887.5,1380.4 888.5,1381.4 889.5,1377.8 890.5,1380.0 891.5,1376.3 892.5,1380.0 893.5,1380.4 894.5,1362.0 895.5,1367.1 896.5,1361.2 897.5,1363.9 898.5,1356.9 899.5,1349.4 900.5,1335.1 901.5,1333.7 902.5,1322.5 903.5,1322.9 904.5,1321.8 905.5,1313.9 906.5,1313.7 907.5,1317.3 908.5,1308.0 909.5,1312.5 910.5,1301.9 911.5,1301.0 912.5,1288.4 913.5,1289.7 914.5,1275.0 915.5,1272.8 916.5,1268.3 917.5,1255.1 918.5,1257.0 919.5,1250.6 920.5,1241.0 921.5,1242.8 922.5,1257.2 923.5,1278.8 924.5,1290.4 925.5,1286.1 926.5,1298.7 927.5,1301.5 928.5,1303.5 929.5,1306.6 930.5,1306.0 931.5,1303.7 932.5,1299.5 933.5,1306.8 934.5,1304.7 935.5,1303.5 936.5,1303.2 937.5,1305.3 938.5,1307.7 939.5,1305.2 940.5,1311.7 941.5,1307.4 942.5,1302.6 943.5,1304.9 944.5,1318.4 945.5,1302.7 946.5,1301.4 947.5,1304.2 948.5,1296.0 949.5,1288.7 950.5,1284.8 951.5,1277.7 952.5,1273.3 953.5,1255.9 954.5,1264.9 955.5,1255.1 956.5,1259.0 957.5,1258.5 958.5,1260.2 959.5,1256.8 960.5,1257.9 961.5,1255.7 962.5,1242.7 963.5,1248.2 964.5,1245.7 965.5,1254.1 966.5,1262.4 967.5,1268.1 968.5,1275.6 969.5,1277.2 970.5,1286.9 971.5,1293.0 972.5,1293.5 973.5,1301.0 974.5,1303.7 975.5,1313.4 976.5,1316.6 977.5,1318.3 978.5,1324.3 979.5,1338.2 980.5,1338.3 981.5,1344.6 982.5,1339.5 983.5,1349.1 984.5,1355.8 985.5,1357.0 986.5,1359.7 987.5,1346.7 988.5,1360.0 989.5,1355.9 990.5,1362.7 991.5,1358.8 992.5,1355.5 993.5,1356.9 994.5,1355.5 995.5,1357.1 996.5,1361.0 997.5,1355.5 998.5,1354.3 999.5,1354.5 1000.5,1340.1 1001.5,1347.0 1002.5,1342.8 1003.5,1334.3 1004.5,1313.9 1005.5,1297.6 1006.5,1272.9 1007.5,1217.3 1008.5,1113.0 1009.5,1020.6 1010.5,929.0 1011.5,830.7 1012.5,789.9 1013.5,774.3 1014.5,769.6 1015.5,770.4 1016.5,734.9 1017.5,677.1 1018.5,628.4 1019.5,594.9 1020.5,575.6 1021.5,560.2 1022.5,575.8 1023.5,591.5 1024.5,605.3 1025.5,644.1 1026.5,676.8 1027.5,721.2 1028.5,749.7 1029.5,793.1 1030.5,850.8 1031.5,912.9 1032.5,967.4 1033.5,987.3 1034.5,1007.6 1035.5,1032.9 1036.5,1052.7 1037.5,1060.5 1038.5,1076.8 1039.5,1080.0 1040.5,1086.5 1041.5,1090.1 1042.5,1100.6 1043.5,1091.8 1044.5,1066.7 1045.5,1051.2 1046.5,1029.8 1047.5,1019.5 1048.5,993.0 1049.5,975.3 1050.5,989.2 1051.5,1012.5 1052.5,1037.4 1053.5,1054.1 1054.5,1062.0 1055.5,1079.8 1056.5,1087.2 1057.5,1082.5 1058.5,1067.5 1059.5,1066.3 1060.5,1055.6 1061.5,1051.0 1062.5,1044.8 1063.5,1022.5 1064.5,1006.8 1065.5,1008.4 1066.5,1005.6 1067.5,989.2 1068.5,1007.5 1069.5,1027.5 1070.5,1036.8 1071.5,1054.0 1072.5,1083.8 1073.5,1105.4 1074.5,1130.0 1075.5,1151.6 1076.5,1165.0 1077.5,1189.3 1078.5,1207.0 1079.5,1223.5 1080.5,1244.5 1081.5,1248.7 1082.5,1263.7 1083.5,1269.6 1084.5,1277.9 1085.5,1280.7 1086.5,1285.8 1087.5,1294.7 1088.5,1298.8 1089.5,1303.1 1090.5,1306.7 1091.5,1309.9 1092.5,1311.9 1093.5,1319.1 1094.5,1310.3 1095.5,1314.2 1096.5,1312.2 1097.5,1319.8 1098.5,1320.3 1099.5,1325.2 1100.5,1320.8 1101.5,1324.4 1102.5,1328.2 1103.5,1327.6 1104.5,1323.5 1105.5,1326.7 1106.5,1335.7 1107.5,1346.3 1108.5,1352.9 1109.5,1344.3 1110.5,1346.8 1111.5,1349.0 1112.5,1348.9 1113.5,1349.7 1114.5,1356.2 1115.5,1356.3 1116.5,1348.2 1117.5,1336.1 1118.5,1354.8 1119.5,1355.3 1120.5,1353.2 1121.5,1356.1 1122.5,1358.7 1123.5,1360.3 1124.5,1355.5 1125.5,1364.9 1126.5,1360.4 1127.5,1367.8 1128.5,1361.7 1129.5,1363.7 1130.5,1366.7 1131.5,1366.2 1132.5,1375.5 1133.5,1372.2 1134.5,1370.6 1135.5,1367.9 1136.5,1367.9 1137.5,1370.5 1138.5,1367.9 1139.5,1367.5 1140.5,1359.8 1141.5,1369.6 1142.5,1369.2 1143.5,1369.5 1144.5,1372.4 1145.5,1373.5 1146.5,1369.3 1147.5,1373.9 1148.5,1375.1 1149.5,1373.1 1150.5,1366.5 1151.5,1377.4 1152.5,1374.4 1153.5,1372.0 1154.5,1371.1 1155.5,1367.0 1156.5,1365.7 1157.5,1375.9 1158.5,1370.3 1159.5,1365.9 1160.5,1369.5 1161.5,1378.2 1162.5,1377.8 1163.5,1375.2 1164.5,1371.8 1165.5,1378.4 1166.5,1370.1 1167.5,1375.4 1168.5,1370.2 1169.5,1370.2 1170.5,1372.3 1171.5,1371.3 1172.5,1376.5 1173.5,1376.5 1174.5,1373.1 1175.5,1381.5 1176.5,1382.5 1177.5,1386.2 1178.5,1374.0 1179.5,1383.5 1180.5,1376.0 1181.5,1378.2 1182.5,1375.7 1183.5,1378.6 1184.5,1369.8 1185.5,1373.9 1186.5,1378.2 1187.5,1383.5 1188.5,1380.8 1189.5,1386.0 1190.5,1378.6 1191.5,1377.1 1192.5,1379.6 1193.5,1374.5 1194.5,1374.4 1195.5,1381.3 1196.5,1376.4 1197.5,1381.6 1198.5,1379.7 1199.5,1381.3 1200.5,1380.1 1201.5,1385.4 1202.5,1381.4 1203.5,1385.4 1204.5,1373.8 1205.5,1381.7 1206.5,1379.6 1207.5,1385.2 1208.5,1381.9 1209.5,1377.0 1210.5,1387.1 1211.5,1376.8 1212.5,1378.8 1213.5,1367.0 1214.5,1371.5 1215.5,1369.7 1216.5,1371.4 1217.5,1367.6 1218.5,1374.9 1219.5,1361.2 1220.5,1360.6 1221.5,1363.7 1222.5,1346.8 1223.5,1336.2 1224.5,1315.7 1225.5,1305.6 1226.5,1286.2 1227.5,1267.6 1228.5,1257.2 1229.5,1244.7 1230.5,1253.9 1231.5,1270.5 1232.5,1283.7 1233.5,1303.8 1234.5,1313.8 1235.5,1340.2 1236.5,1347.9 1237.5,1349.4 1238.5,1364.6 1239.5,1364.4 1240.5,1371.4 1241.5,1374.5 1242.5,1370.6 1243.5,1372.4 1244.5,1375.3 1245.5,1380.4 1246.5,1371.9 1247.5,1368.2 1248.5,1369.9 1249.5,1380.7 1250.5,1370.1 1251.5,1381.9 1252.5,1379.1 1253.5,1377.8 1254.5,1378.9 1255.5,1383.3 1256.5,1381.8 1257.5,1380.1 1258.5,1379.7 1259.5,1376.4 1260.5,1374.0 1261.5,1375.1 1262.5,1375.8 1263.5,1367.0 1264.5,1366.6 1265.5,1366.2 1266.5,1369.4 1267.5,1356.3 1268.5,1352.0 1269.5,1348.1 1270.5,1353.8 1271.5,1347.7 1272.5,1352.2 1273.5,1343.4 1274.5,1343.1 1275.5,1349.0 1276.5,1346.7 1277.5,1349.2 1278.5,1354.1 1279.5,1367.0 1280.5,1368.1 1281.5,1368.2 1282.5,1376.2 1283.5,1379.1 1284.5,1379.9 1285.5,1376.0 1286.5,1380.9 1287.5,1387.8 1288.5,1373.2 1289.5,1370.4 1290.5,1380.7 1291.5,1377.7 1292.5,1382.1 1293.5,1384.3 1294.5,1387.5 1295.5,1381.6 1296.5,1384.1 1297.5,1380.9 1298.5,1384.3 1299.5,1382.6 1300.5,1393.6 1301.5,1384.1 1302.5,1382.9 1303.5,1383.9 1304.5,1379.4 1305.5,1384.7 1306.5,1381.4 1307.5,1391.8 1308.5,1380.9 1309.5,1381.4 1310.5,1388.5 1311.5,1394.3 1312.5,1389.8 1313.5,1385.9 1314.5,1378.7 1315.5,1389.4 1316.5,1382.5 1317.5,1381.6 1318.5,1381.9 1319.5,1386.8 1320.5,1381.6 1321.5,1389.9 1322.5,1392.3 1323.5,1384.9 1324.5,1388.0 1325.5,1393.6 1326.5,1379.3 1327.5,1381.4 1328.5,1382.0 1329.5,1387.9 1330.5,1386.8 1331.5,1390.0 1332.5,1383.3 1333.5,1384.2 1334.5,1383.3 1335.5,1377.7 1336.5,1386.2 1337.5,1385.2 1338.5,1390.5 1339.5,1378.4 1340.5,1379.9 1341.5,1394.3 1342.5,1394.3 1343.5,1378.7 1344.5,1377.7 1345.5,1382.6 1346.5,1379.2 1347.5,1389.5 1348.5,1383.3 1349.5,1380.2 1350.5,1385.0 1351.5,1389.0 1352.5,1386.5 1353.5,1389.8 1354.5,1378.6 1355.5,1387.8 1356.5,1388.7 1357.5,1393.0 1358.5,1379.1 1359.5,1385.9 1360.5,1383.2 1361.5,1386.2 1362.5,1384.6 1363.5,1385.7 1364.5,1388.4 1365.5,1384.1 1366.5,1389.4 1367.5,1385.0 1368.5,1384.7 1369.5,1383.1 1370.5,1390.2 1371.5,1377.1 1372.5,1386.1 1373.5,1391.9 1374.5,1394.0 1375.5,1386.9 1376.5,1387.4 1377.5,1384.0 1378.5,1392.5 1379.5,1385.8 1380.5,1383.3 1381.5,1380.6 1382.5,1391.5 1383.5,1386.9 1384.5,1388.1 1385.5,1386.1 1386.5,1387.8 1387.5,1387.2 1388.5,1392.0 1389.5,1386.7 1390.5,1394.4 1391.5,1387.5 1392.5,1377.6 1393.5,1389.7 1394.5,1377.9 1395.5,1380.2 1396.5,1388.4 1397.5,1385.4 1398.5,1385.7 1399.5,1392.6 1400.5,1396.9 1401.5,1388.5 1402.5,1391.6 1403.5,1382.9 1404.5,1391.8 1405.5,1376.4 1406.5,1376.0 1407.5,1390.0 1408.5,1396.4 1409.5,1387.4 1410.5,1391.2 1411.5,1389.2 1412.5,1394.6 1413.5,1393.2 1414.5,1384.0 1415.5,1390.9 1416.5,1393.2 1417.5,1382.6 1418.5,1382.5 1419.5,1386.8 1420.5,1390.4 1421.5,1379.6 1422.5,1388.2 1423.5,1384.3 1424.5,1392.8 1425.5,1393.1 1426.5,1386.6 1427.5,1381.3 1428.5,1392.1 1429.5,1390.6 1430.5,1390.2 1431.5,1375.0 1432.5,1389.2 1433.5,1387.6 1434.5,1385.5 1435.5,1386.1 1436.5,1381.9 1437.5,1393.9 1438.5,1387.0 1439.5,1386.7 1440.5,1393.4 1441.5,1388.1 1442.5,1388.1 1443.5,1391.3 1444.5,1393.0 1445.5,1385.1 1446.5,1388.8 1447.5,1389.4 1448.5,1387.0 1449.5,1389.2 1450.5,1385.5 1451.5,1384.3 1452.5,1390.1 1453.5,1387.3 1454.5,1387.5 1455.5,1386.6 1456.5,1388.9 1457.5,1387.1 1458.5,1388.7 1459.5,1390.0 1460.5,1388.4 1461.5,1393.0 1462.5,1384.0 1463.5,1385.1 1464.5,1390.4 1465.5,1391.2 1466.5,1391.7 1467.5,1394.0 1468.5,1394.7 1469.5,1388.6 1470.5,1392.6 1471.5,1387.9 1472.5,1389.1 1473.5,1388.7 1474.5,1394.9 1475.5,1381.5 1476.5,1381.0 1477.5,1397.9 1478.5,1389.5 1479.5,1390.1 1480.5,1386.4 1481.5,1393.2 1482.5,1388.5 1483.5,1390.8 1484.5,1384.4 1485.5,1390.9 1486.5,1388.0 1487.5,1386.0 1488.5,1393.2 1489.5,1387.9 1490.5,1388.2 1491.5,1380.9 1492.5,1384.7 1493.5,1390.2 1494.5,1379.7 1495.5,1390.0 1496.5,1388.1 1497.5,1387.2 1498.5,1384.7 1499.5,1389.0 1500.5,1386.3 1501.5,1386.1 1502.5,1382.8 1503.5,1386.3 1504.5,1384.3 1505.5,1388.2 1506.5,1375.3 1507.5,1380.7 1508.5,1378.5 1509.5,1387.9 1510.5,1393.7 1511.5,1394.5 1512.5,1394.0 1513.5,1387.2 1514.5,1391.1 1515.5,1391.3 1516.5,1393.5 1517.5,1380.3 1518.5,1392.2 1519.5,1386.9 1520.5,1382.8 1521.5,1386.6 1522.5,1387.2 1523.5,1385.5 1524.5,1376.5 1525.5,1383.3 1526.5,1386.8 1527.5,1392.1 1528.5,1380.8 1529.5,1379.7 1530.5,1387.8 1531.5,1382.4 1532.5,1393.9 1533.5,1388.1 1534.5,1378.9 1535.5,1390.7 1536.5,1380.7 1537.5,1378.8 1538.5,1389.7 1539.5,1384.6 1540.5,1378.4 1541.5,1375.1 1542.5,1385.2 1543.5,1379.5 1544.5,1389.5 1545.5,1388.9 1546.5,1384.4 1547.5,1383.2 1548.5,1385.6 1549.5,1381.4 1550.5,1382.2 1551.5,1377.2 1552.5,1376.4 1553.5,1376.1 1554.5,1372.6 1555.5,1363.0 1556.5,1366.7 1557.5,1360.1 1558.5,1358.5 1559.5,1355.3 1560.5,1355.6 1561.5,1354.4 1562.5,1360.5 1563.5,1357.4 1564.5,1354.2 1565.5,1349.1 1566.5,1349.6 1567.5,1329.6 1568.5,1330.4 1569.5,1322.5 1570.5,1316.2 1571.5,1300.6 1572.5,1299.5 1573.5,1288.6 1574.5,1286.8 1575.5,1275.0 1576.5,1266.4 1577.5,1264.8 1578.5,1258.7 1579.5,1261.4 1580.5,1255.7 1581.5,1249.8 1582.5,1259.1 1583.5,1248.0 1584.5,1247.9 1585.5,1251.1 1586.5,1236.7 1587.5,1226.2 1588.5,1211.7 1589.5,1203.7 1590.5,1190.5 1591.5,1182.2 1592.5,1179.6 1593.5,1158.2 1594.5,1120.8 1595.5,1053.0 1596.5,1004.4 1597.5,989.2 1598.5,981.0 1599.5,982.3 1600.5,976.8 1601.5,996.1 1602.5,1001.7 1603.5,999.0 1604.5,1023.2 1605.5,1034.0 1606.5,1053.8 1607.5,1057.2 1608.5,1069.3 1609.5,1078.1 1610.5,1096.5 1611.5,1110.3 1612.5,1135.6 1613.5,1141.9 1614.5,1150.4 1615.5,1138.5 1616.5,1135.8 1617.5,1123.7 1618.5,1120.2 1619.5,1114.9 1620.5,1107.1 1621.5,1102.6 1622.5,1101.2 1623.5,1099.9 1624.5,1107.8 1625.5,1113.8 1626.5,1111.3 1627.5,1098.0 1628.5,1099.6 1629.5,1090.0 1630.5,1088.1 1631.5,1079.7 1632.5,1072.0 1633.5,1064.2 1634.5,1061.2 1635.5,1056.0 1636.5,1066.4 1637.5,1049.4 1638.5,1062.9 1639.5,1071.4 1640.5,1085.0 1641.5,1084.6 1642.5,1098.3 1643.5,1101.9 1644.5,1105.4 1645.5,1106.5 1646.5,1108.7 1647.5,1116.2 1648.5,1120.1 1649.5,1113.7 1650.5,1120.7 1651.5,1126.7 1652.5,1138.4 1653.5,1150.8 1654.5,1173.1 1655.5,1178.8 1656.5,1189.5 1657.5,1201.2 1658.5,1200.6 1659.5,1204.0 1660.5,1211.1 1661.5,1219.4 1662.5,1223.6 1663.5,1225.5 1664.5,1242.3 1665.5,1238.1 1666.5,1255.4 1667.5,1245.6 1668.5,1260.4 1669.5,1265.3 1670.5,1274.0 1671.5,1274.3 1672.5,1286.5 1673.5,1283.0 1674.5,1284.8 1675.5,1298.5 1676.5,1307.4 1677.5,1306.4 1678.5,1318.5 1679.5,1322.0 1680.5,1325.1 1681.5,1326.9 1682.5,1341.1 1683.5,1338.9 1684.5,1344.6 1685.5,1352.0 1686.5,1353.5 1687.5,1360.5 1688.5,1364.4 1689.5,1372.2 1690.5,1375.4 1691.5,1366.9 1692.5,1366.1 1693.5,1374.8 1694.5,1374.0 1695.5,1368.7 1696.5,1373.8 1697.5,1386.3 1698.5,1378.5 1699.5,1383.5 1700.5,1380.7 1701.5,1382.8 1702.5,1387.2 1703.5,1375.1 1704.5,1393.9 1705.5,1388.0 1706.5,1379.6 1707.5,1385.5 1708.5,1384.9 1709.5,1391.5 1710.5,1385.4 1711.5,1392.7 1712.5,1395.2 1713.5,1395.6 1714.5,1386.4 1715.5,1391.4 1716.5,1388.4 1717.5,1389.8 1718.5,1391.8 1719.5,1395.6 1720.5,1389.4 1721.5,1387.8 1722.5,1395.0 1723.5,1393.0 1724.5,1394.2 1725.5,1399.0 1726.5,1389.0 1727.5,1387.2 1728.5,1389.0 1729.5,1386.8 1730.5,1386.5 1731.5,1382.0 1732.5,1383.8 1733.5,1384.1 1734.5,1391.9 1735.5,1387.8 1736.5,1391.0 1737.5,1396.2 1738.5,1390.4 1739.5,1399.1 1740.5,1396.3 1741.5,1386.4 1742.5,1386.8 1743.5,1396.1 1744.5,1386.5 1745.5,1388.0 1746.5,1390.9 1747.5,1396.2 1748.5,1394.4 1749.5,1391.4 1750.5,1387.5 1751.5,1391.2 1752.5,1397.6 1753.5,1390.3 1754.5,1383.9 1755.5,1392.9 1756.5,1397.3 1757.5,1387.7 1758.5,1394.5 1759.5,1391.8 1760.5,1390.6 1761.5,1392.6 1762.5,1391.5 1763.5,1388.3 1764.5,1387.3 1765.5,1388.7 1766.5,1386.7 1767.5,1388.4 1768.5,1392.4 1769.5,1382.6 1770.5,1388.5 1771.5,1387.6 1772.5,1385.2 1773.5,1389.9 1774.5,1395.1 1775.5,1396.9 1776.5,1392.3 1777.5,1387.0 1778.5,1390.0 1779.5,1389.2 1780.5,1393.3 1781.5,1396.7 1782.5,1391.5 1783.5,1398.0 1784.5,1394.7 1785.5,1390.1 1786.5,1396.1 1787.5,1400.3 1788.5,1392.9 1789.5,1392.9 1790.5,1393.6 1791.5,1400.6 1792.5,1389.7 1793.5,1393.4 1794.5,1390.4 1795.5,1388.7 1796.5,1391.4 1797.5,1387.8 1798.5,1389.5 1799.5,1393.4 1800.5,1393.4 1801.5,1383.3 1802.5,1382.7 1803.5,1393.6 1804.5,1392.1 1805.5,1392.0 1806.5,1390.8 1807.5,1399.8 1808.5,1389.7 1809.5,1391.6 1810.5,1391.1 1811.5,1393.2 1812.5,1385.5 1813.5,1392.0 1814.5,1383.1 1815.5,1384.3 1816.5,1393.6 1817.5,1388.8 1818.5,1390.1 1819.5,1396.7 1820.5,1405.3 1821.5,1397.8 1822.5,1394.8 1823.5,1386.0 1824.5,1388.9 1825.5,1389.4 1826.5,1391.5 1827.5,1388.5 1828.5,1395.8 1829.5,1396.1 1830.5,1398.7 1831.5,1390.4 1832.5,1394.9 1833.5,1386.2 1834.5,1399.7 1835.5,1392.1 1836.5,1391.9 1837.5,1398.2 1838.5,1390.0 1839.5,1397.0 1840.5,1383.2 1841.5,1384.1 1842.5,1390.8 1843.5,1389.4 1844.5,1390.0 1845.5,1391.0 1846.5,1385.9 1847.5,1394.6 1848.5,1392.9 1849.5,1397.8 1850.5,1389.4 1851.5,1394.0 1852.5,1390.0 1853.5,1397.0 1854.5,1403.3 1855.5,1389.5 1856.5,1389.8 1857.5,1387.3 1858.5,1390.7 1859.5,1387.5 1860.5,1386.4 1861.5,1391.9 1862.5,1398.4 1863.5,1386.8 1864.5,1388.7 1865.5,1391.2 1866.5,1394.6 1867.5,1382.8 1868.5,1389.7 1869.5,1390.2 1870.5,1394.8 1871.5,1394.3 1872.5,1390.4 1873.5,1396.5 1874.5,1386.2 1875.5,1393.0 1876.5,1385.9 1877.5,1390.7 1878.5,1394.5 1879.5,1382.9 1880.5,1390.9 1881.5,1392.2 1882.5,1385.6 1883.5,1387.3 1884.5,1388.5 1885.5,1396.9 1886.5,1396.6 1887.5,1387.1 1888.5,1394.3 1889.5,1391.4 1890.5,1397.9 1891.5,1393.7 1892.5,1402.0 1893.5,1395.2 1894.5,1387.7 1895.5,1392.0 1896.5,1393.8 1897.5,1392.3 1898.5,1391.8 1899.5,1384.2 1900.5,1391.6 1901.5,1391.0 1902.5,1395.5 1903.5,1391.9 1904.5,1392.9 1905.5,1398.1 1906.5,1402.0 1907.5,1395.8 1908.5,1389.5 1909.5,1396.0 1910.5,1394.3 1911.5,1387.1 1912.5,1391.3 1913.5,1397.7 1914.5,1382.8 1915.5,1389.3 1916.5,1392.4 1917.5,1392.4 1918.5,1390.6 1919.5,1395.9 1920.5,1387.2 1921.5,1392.7 1922.5,1391.7 1923.5,1392.8 1924.5,1396.2 1925.5,1393.4 1926.5,1379.6 1927.5,1396.5 1928.5,1395.0 1929.5,1392.6 1930.5,1396.6 1931.5,1389.4 1932.5,1397.5 1933.5,1390.6 1934.5,1396.3 1935.5,1393.8 1936.5,1394.1 1937.5,1382.4 1938.5,1395.6 1939.5,1389.2 1940.5,1391.3 1941.5,1395.3 1942.5,1387.8 1943.5,1390.9 1944.5,1397.0 1945.5,1397.6 1946.5,1390.2 1947.5,1378.6 1948.5,1398.2 1949.5,1392.0 1950.5,1394.1 1951.5,1391.4 1952.5,1396.4 1953.5,1393.3 1954.5,1394.0 1955.5,1390.8 1956.5,1388.2 1957.5,1383.6 1958.5,1397.7 1959.5,1390.9 1960.5,1396.3 1961.5,1398.0 1962.5,1400.9 1963.5,1396.3 1964.5,1393.7 1965.5,1394.3 1966.5,1391.4 1967.5,1378.8 1968.5,1388.6 1969.5,1389.9 1970.5,1388.9 1971.5,1389.8 1972.5,1393.2 1973.5,1397.5 1974.5,1398.9 1975.5,1391.7 1976.5,1397.6 1977.5,1390.3 1978.5,1394.6 1979.5,1395.2 1980.5,1392.8 1981.5,1391.5 1982.5,1385.9 1983.5,1395.6 1984.5,1397.2 1985.5,1394.6 1986.5,1392.5 1987.5,1396.5 1988.5,1397.3 1989.5,1392.1 1990.5,1392.3 1991.5,1391.5 1992.5,1398.8 1993.5,1390.9 1994.5,1393.3 1995.5,1389.4 1996.5,1394.7 1997.5,1392.0 1998.5,1394.3 1999.5,1384.3 2000.5,1398.3 2001.5,1395.9 2002.5,1394.7 2003.5,1402.9 2004.5,1392.7 2005.5,1383.8 2006.5,1387.4 2007.5,1386.5 2008.5,1391.9 2009.5,1394.9 2010.5,1393.9 2011.5,1399.0 2012.5,1400.6 2013.5,1388.8 2014.5,1392.4 2015.5,1386.0 2016.5,1396.6 2017.5,1390.6 2018.5,1392.4 2019.5,1385.4 2020.5,1391.7 2021.5,1396.4 2022.5,1396.1 2023.5,1386.7 2024.5,1395.7 2025.5,1392.1 2026.5,1391.1 2027.5,1386.6 2028.5,1385.7 2029.5,1384.7 2030.5,1394.4 2031.5,1391.6 2032.5,1389.5 2033.5,1389.9 2034.5,1389.7 2035.5,1397.3 2036.5,1392.8 2037.5,1398.9 2038.5,1394.2 2039.5,1392.2 2040.5,1391.3 2041.5,1403.1 2042.5,1393.7 2043.5,1399.9 2044.5,1391.7 2045.5,1391.1 2046.5,1391.2 2047.5,1387.8 2048.5,1390.6 2049.5,1394.9 2050.5,1393.5 2051.5,1391.3 2052.5,1399.9 2053.5,1394.9 2054.5,1393.0 2055.5,1399.0 2056.5,1390.2 2057.5,1390.9 2058.5,1393.2 2059.5,1395.5 2060.5,1396.0 2061.5,1391.8 2062.5,1391.9 2063.5,1389.5 2064.5,1395.7 2065.5,1390.3 2066.5,1388.0 2067.5,1396.0 2068.5,1391.3 2069.5,1391.2 2070.5,1391.7 2071.5,1387.0 2072.5,1391.8 2073.5,1389.1 2074.5,1391.1 2075.5,1390.3 2076.5,1394.2 2077.5,1395.4 2078.5,1389.6 2079.5,1391.4 2080.5,1388.1 2081.5,1393.3 2082.5,1393.9 2083.5,1389.4 2084.5,1391.7 2085.5,1392.6"/>
<polyline stroke="#008000" points="303.5,1388.9 304.5,1394.9 305.5,1389.9 306.5,1389.5 307.5,1389.7 308.5,1392.9 309.5,1385.4 310.5,1399.6 311.5,1399.1 312.5,1399.0 313.5,1386.7 314.5,1396.2 315.5,1395.3 316.5,1395.2 317.5,1393.6 318.5,1393.6 319.5,1394.9 320.5,1399.5 321.5,1391.2 322.5,1392.5 323.5,1385.3 324.5,1388.9 325.5,1390.1 326.5,1395.5 327.5,1389.2 328.5,1387.5 329.5,1383.4 330.5,1389.1 331.5,1387.5 332.5,1388.2 333.5,1383.4 334.5,1385.1 335.5,1389.6 336.5,1396.2 337.5,1383.5 338.5,1390.6 339.5,1394.9 340.5,1398.0 341.5,1399.6 342.5,1390.6 343.5,1391.7 344.5,1388.9 345.5,1384.4 346.5,1391.9 347.5,1387.9 348.5,1391.3 349.5,1392.6 350.5,1398.1 351.5,1391.6 352.5,1383.4 353.5,1390.4 354.5,1387.6 355.5,1389.3 356.5,1382.0 357.5,1384.9 358.5,1394.0 359.5,1393.1 360.5,1386.3 361.5,1390.2 362.5,1390.8 363.5,1386.3 364.5,1389.2 365.5,1391.2 366.5,1378.9 367.5,1389.7 368.5,1396.5 369.5,1388.8 370.5,1388.7 371.5,1382.5 372.5,1388.4 373.5,1392.6 374.5,1388.5 375.5,1395.4 376.5,1379.3 377.5,1388.4 378.5,1393.5 379.5,1398.5 380.5,1394.4 381.5,1393.4 382.5,1387.2 383.5,1391.1 384.5,1388.8 385.5,1392.5 386.5,1388.6 387.5,1392.4 388.5,1388.2 389.5,1390.4 390.5,1385.8 391.5,1389.7 392.5,1393.5 393.5,1395.5 394.5,1390.5 395.5,1387.9 396.5,1383.9 397.5,1392.2 398.5,1394.7 399.5,1385.5 400.5,1392.0 401.5,1388.3 402.5,1388.9 403.5,1389.8 404.5,1389.8 405.5,1389.4 406.5,1398.9 407.5,1391.9 408.5,1392.5 409.5,1391.6 410.5,1391.4 411.5,1396.4 412.5,1385.9 413.5,1389.9 414.5,1388.8 415.5,1387.5 416.5,1389.0 417.5,1387.3 418.5,1386.8 419.5,1391.9 420.5,1392.5 421.5,1384.5 422.5,1392.2 423.5,1381.1 424.5,1396.3 425.5,1391.9 426.5,1392.9 427.5,1391.0 428.5,1395.3 429.5,1389.3 430.5,1381.9 431.5,1392.8 432.5,1400.2 433.5,1388.5 434.5,1389.5 435.5,1388.0 436.5,1393.7 437.5,1388.2 438.5,1386.1 439.5,1391.9 440.5,1389.7 441.5,1387.7 442.5,1386.5 443.5,1390.2 444.5,1387.9 445.5,1379.9 446.5,1379.7 447.5,1392.8 448.5,1379.7 449.5,1391.3 450.5,1385.9 451.5,1396.4 452.5,1392.5 453.5,1394.3 454.5,1387.6 455.5,1389.7 456.5,1388.4 457.5,1388.4 458.5,1389.6 459.5,1387.3 460.5,1391.6 461.5,1393.1 462.5,1395.6 463.5,1396.2 464.5,1393.6 465.5,1389.0 466.5,1385.6 467.5,1390.1 468.5,1381.1 469.5,1384.5 470.5,1389.8 471.5,1388.5 472.5,1390.1 473.5,1397.7 474.5,1386.5 475.5,1388.8 476.5,1396.4 477.5,1384.9 478.5,1390.1 479.5,1387.9 480.5,1393.6 481.5,1386.4 482.5,1384.6 483.5,1388.6 484.5,1387.3 485.5,1395.5 486.5,1385.8 487.5,1388.9 488.5,1389.7 489.5,1387.3 490.5,1385.9 491.5,1390.1 492.5,1385.1 493.5,1380.0 494.5,1391.4 495.5,1386.2 496.5,1393.8 497.5,1386.3 498.5,1382.9 499.5,1389.9 500.5,1394.4 501.5,1391.9 502.5,1380.6 503.5,1394.6 504.5,1393.0 505.5,1384.2 506.5,1391.3 507.5,1385.1 508.5,1390.3 509.5,1393.4 510.5,1384.0 511.5,1383.1 512.5,1390.9 513.5,1376.8 514.5,1384.4 515.5,1381.7 516.5,1382.8 517.5,1388.6 518.5,1380.7 519.5,1386.0 520.5,1385.9 521.5,1388.4 522.5,1391.2 523.5,1379.6 524.5,1387.3 525.5,1389.7 526.5,1385.5 527.5,1393.1 528.5,1385.9 529.5,1375.4 530.5,1389.2 531.5,1383.6 532.5,1390.2 533.5,1384.9 534.5,1380.4 535.5,1389.7 536.5,1389.7 537.5,1381.5 538.5,1386.3 539.5,1385.7 540.5,1387.2 541.5,1395.5 542.5,1397.5 543.5,1398.3 544.5,1388.1 545.5,1396.2 546.5,1397.7 547.5,1392.6 548.5,1390.7 549.5,1388.5 550.5,1396.5 551.5,1382.4 552.5,1391.5 553.5,1386.9 554.5,1388.4 555.5,1393.3 556.5,1388.1 557.5,1388.8 558.5,1385.7 559.5,1376.3 560.5,1381.8 561.5,1387.2 562.5,1388.6 563.5,1393.1 564.5,1397.7 565.5,1388.8 566.5,1392.2 567.5,1390.1 568.5,1390.6 569.5,1386.5 570.5,1390.1 571.5,1378.1 572.5,1384.5 573.5,1390.4 574.5,1386.6 575.5,1382.2 576.5,1393.4 577.5,1387.5 578.5,1390.6 579.5,1387.7 580.5,1389.3 581.5,1385.5 582.5,1383.5 583.5,1382.5 584.5,1391.9 585.5,1383.4 586.5,1387.6 587.5,1392.0 588.5,1390.9 589.5,1384.6 590.5,1392.5 591.5,1395.5 592.5,1388.5 593.5,1392.0 594.5,1387.7 595.5,1388.9 596.5,1383.4 597.5,1391.2 598.5,1389.6 599.5,1383.0 600.5,1380.4 601.5,1387.0 602.5,1383.0 603.5,1386.1 604.5,1387.9 605.5,1394.6 606.5,1377.8 607.5,1381.3 608.5,1395.8 609.5,1382.6 610.5,1388.7 611.5,1390.8 612.5,1389.0 613.5,1383.4 614.5,1386.8 615.5,1387.4 616.5,1387.3 617.5,1388.4 618.5,1384.8 619.5,1396.4 620.5,1394.2 621.5,1390.2 622.5,1395.2 623.5,1389.8 624.5,1391.9 625.5,1388.2 626.5,1389.8 627.5,1385.6 628.5,1387.5 629.5,1384.1 630.5,1389.1 631.5,1395.9 632.5,1388.9 633.5,1389.3 634.5,1391.8 635.5,1385.4 636.5,1387.0 637.5,1381.9 638.5,1389.5 639.5,1380.7 640.5,1384.8 641.5,1380.5 642.5,1389.7 643.5,1384.5 644.5,1386.7 645.5,1387.6 646.5,1382.0 647.5,1381.7 648.5,1382.1 649.5,1387.7 650.5,1378.8 651.5,1392.2 652.5,1383.0 653.5,1391.2 654.5,1387.2 655.5,1382.7 656.5,1387.7 657.5,1386.2 658.5,1389.5 659.5,1374.9 660.5,1390.2 661.5,1386.2 662.5,1383.0 663.5,1370.2 664.5,1383.6 665.5,1381.2 666.5,1378.6 667.5,1391.8 668.5,1379.4 669.5,1381.9 670.5,1377.1 671.5,1377.0 672.5,1381.6 673.5,1379.5 674.5,1387.8 675.5,1390.6 676.5,1387.0 677.5,1385.3 678.5,1387.5 679.5,1384.2 680.5,1383.3 681.5,1378.6 682.5,1386.8 683.5,1388.2 684.5,1384.0 685.5,1384.8 686.5,1382.8 687.5,1377.6 688.5,1388.1 689.5,1381.2 690.5,1378.4 691.5,1378.6 692.5,1390.3 693.5,1385.2 694.5,1378.3 695.5,1383.8 696.5,1382.3 697.5,1385.2 698.5,1379.6 699.5,1384.0 700.5,1385.8 701.5,1383.5 702.5,1377.3 703.5,1381.0 704.5,1389.6 705.5,1391.9 706.5,1380.9 707.5,1391.8 708.5,1384.8 709.5,1389.1 710.5,1385.6 711.5,1389.8 712.5,1396.5 713.5,1379.7 714.5,1384.9 715.5,1384.6 716.5,1376.6 717.5,1380.1 718.5,1378.7 719.5,1385.0 720.5,1384.4 721.5,1383.7 722.5,1388.6 723.5,1382.7 724.5,1384.4 725.5,1387.5 726.5,1387.8 727.5,1382.0 728.5,1385.7 729.5,1382.2 730.5,1381.2 731.5,1381.4 732.5,1391.8 733.5,1374.0 734.5,1369.1 735.5,1371.8 736.5,1368.3 737.5,1357.9 738.5,1363.1 739.5,1350.2 740.5,1352.0 741.5,1349.3 742.5,1357.7 743.5,1360.5 744.5,1363.5 745.5,1374.4 746.5,1374.0 747.5,1367.2 748.5,1375.7 749.5,1377.5 750.5,1373.0 751.5,1370.1 752.5,1378.0 753.5,1380.9 754.5,1381.5 755.5,1380.7 756.5,1389.6 757.5,1381.6 758.5,1381.1 759.5,1378.0 760.5,1377.6 761.5,1379.5 762.5,1374.2 763.5,1383.3 764.5,1384.7 765.5,1378.1 766.5,1385.0 767.5,1388.3 768.5,1388.1 769.5,1385.5 770.5,1390.6 771.5,1380.2 772.5,1382.6 773.5,1378.4 774.5,1388.2 775.5,1385.7 776.5,1387.2 777.5,1382.6 778.5,1383.5 779.5,1381.9 780.5,1381.6 781.5,1388.5 782.5,1381.8 783.5,1374.5 784.5,1381.9 785.5,1379.6 786.5,1390.0 787.5,1385.4 788.5,1384.0 789.5,1386.6 790.5,1387.9 791.5,1379.1 792.5,1379.3 793.5,1375.7 794.5,1386.8 795.5,1392.7 796.5,1380.4 797.5,1384.9 798.5,1388.4 799.5,1382.2 800.5,1385.3 801.5,1392.6 802.5,1385.2 803.5,1392.3 804.5,1382.6 805.5,1389.2 806.5,1389.6 807.5,1379.6 808.5,1378.3 809.5,1383.3 810.5,1387.3 811.5,1380.5 812.5,1382.9 813.5,1382.7 814.5,1385.6 815.5,1390.4 816.5,1386.3 817.5,1378.8 818.5,1388.1 819.5,1386.2 820.5,1386.3 821.5,1381.9 822.5,1384.1 823.5,1386.5 824.5,1376.3 825.5,1382.8 826.5,1381.6 827.5,1385.1 828.5,1388.5 829.5,1380.5 830.5,1384.5 831.5,1382.5 832.5,1393.9 833.5,1378.4 834.5,1385.8 835.5,1382.8 836.5,1390.8 837.5,1386.0 838.5,1386.1 839.5,1382.4 840.5,1383.7 841.5,1394.8 842.5,1384.4 843.5,1383.8 844.5,1384.9 845.5,1382.0 846.5,1379.8 847.5,1377.3 848.5,1385.2 849.5,1374.2 850.5,1378.5 851.5,1375.3 852.5,1382.2 853.5,1379.0 854.5,1385.2 855.5,1380.6 856.5,1382.1 857.5,1379.4 858.5,1375.6 859.5,1384.2 860.5,1378.7 861.5,1386.7 862.5,1378.6 863.5,1372.5 864.5,1385.9 865.5,1381.0 866.5,1391.4 867.5,1375.6 868.5,1367.5 869.5,1379.9 870.5,1374.4 871.5,1370.0 872.5,1379.3 873.5,1375.8 874.5,1380.1 875.5,1378.7 876.5,1376.1 877.5,1372.0 878.5,1374.2 879.5,1364.2 880.5,1375.0 881.5,1369.2 882.5,1371.2 883.5,1371.1 884.5,1380.2 885.5,1372.8 886.5,1376.1 887.5,1364.4 888.5,1369.2 889.5,1366.1 890.5,1375.3 891.5,1377.0 892.5,1372.2 893.5,1361.3 894.5,1359.3 895.5,1346.2 896.5,1337.2 897.5,1339.0 898.5,1328.8 899.5,1335.9 900.5,1323.3 901.5,1311.4 902.5,1304.3 903.5,1306.5 904.5,1299.5 905.5,1290.9 906.5,1289.1 907.5,1288.4 908.5,1290.6 909.5,1276.1 910.5,1274.3 911.5,1276.2 912.5,1262.7 913.5,1260.1 914.5,1245.3 915.5,1235.2 916.5,1223.6 917.5,1209.3 918.5,1197.1 919.5,1200.2 920.5,1195.3 921.5,1206.6 922.5,1219.3 923.5,1233.6 924.5,1251.9 925.5,1251.6 926.5,1247.9 927.5,1260.0 928.5,1264.5 929.5,1272.6 930.5,1264.0 931.5,1271.1 932.5,1275.3 933.5,1277.6 934.5,1273.0 935.5,1268.1 936.5,1278.9 937.5,1281.1 938.5,1287.8 939.5,1275.9 940.5,1284.3 941.5,1283.6 942.5,1284.8 943.5,1283.0 944.5,1274.7 945.5,1279.7 946.5,1274.1 947.5,1276.4 948.5,1269.0 949.5,1254.2 950.5,1244.2 951.5,1242.1 952.5,1227.4 953.5,1221.5 954.5,1209.9 955.5,1216.2 956.5,1217.6 957.5,1210.1 958.5,1213.9 959.5,1207.3 960.5,1202.0 961.5,1205.1 962.5,1202.6 963.5,1197.1 964.5,1196.7 965.5,1211.8 966.5,1218.4 967.5,1228.3 968.5,1235.3 969.5,1235.7 970.5,1252.6 971.5,1260.2 972.5,1258.8 973.5,1276.0 974.5,1285.4 975.5,1285.0 976.5,1289.4 977.5,1292.6 978.5,1296.9 979.5,1321.8 980.5,1317.6 981.5,1321.4 982.5,1322.1 983.5,1331.4 984.5,1332.1 985.5,1335.9 986.5,1339.3 987.5,1344.7 988.5,1340.9 989.5,1346.3 990.5,1347.0 991.5,1345.5 992.5,1341.2 993.5,1353.3 994.5,1345.0 995.5,1338.8 996.5,1344.7 997.5,1345.5 998.5,1340.1 999.5,1332.4 1000.5,1335.7 1001.5,1331.6 1002.5,1318.8 1003.5,1316.3 1004.5,1301.0 1005.5,1267.3 1006.5,1247.0 1007.5,1170.3 1008.5,1042.2 1009.5,926.2 1010.5,804.7 1011.5,701.0 1012.5,637.9 1013.5,627.5 1014.5,617.4 1015.5,617.8 1016.5,571.7 1017.5,508.2 1018.5,441.3 1019.5,399.7 1020.5,388.9 1021.5,380.8 1022.5,390.7 1023.5,408.9 1024.5,412.3 1025.5,461.6 1026.5,509.7 1027.5,560.3 1028.5,596.1 1029.5,650.3 1030.5,727.6 1031.5,806.9 1032.5,850.6 1033.5,885.9 1034.5,924.2 1035.5,956.3 1036.5,972.0 1037.5,982.5 1038.5,995.2 1039.5,1003.0 1040.5,1008.5 1041.5,1015.6 1042.5,1030.7 1043.5,1016.7 1044.5,989.0 1045.5,959.8 1046.5,939.5 1047.5,917.2 1048.5,895.9 1049.5,880.2 1050.5,896.4 1051.5,915.8 1052.5,942.3 1053.5,967.9 1054.5,984.5 1055.5,1008.8 1056.5,1014.1 1057.5,1010.8 1058.5,990.8 1059.5,986.4 1060.5,967.6 1061.5,962.6 1062.5,946.8 1063.5,936.4 1064.5,915.6 1065.5,909.0 1066.5,906.7 1067.5,892.8 1068.5,915.0 1069.5,925.6 1070.5,949.4 1071.5,972.2 1072.5,1004.0 1073.5,1029.9 1074.5,1070.3 1075.5,1091.7 1076.5,1107.6 1077.5,1146.7 1078.5,1161.6 1079.5,1190.3 1080.5,1213.3 1081.5,1210.8 1082.5,1225.7 1083.5,1229.2 1084.5,1253.2 1085.5,1253.7 1086.5,1255.3 1087.5,1274.0 1088.5,1267.3 1089.5,1271.4 1090.5,1278.0 1091.5,1277.6 1092.5,1285.3 1093.5,1295.7 1094.5,1298.1 1095.5,1297.0 1096.5,1291.2 1097.5,1301.0 1098.5,1299.1 1099.5,1306.3 1100.5,1305.9 1101.5,1309.0 1102.5,1308.7 1103.5,1308.7 1104.5,1321.0 1105.5,1325.9 1106.5,1323.4 1107.5,1325.2 1108.5,1325.9 1109.5,1324.7 1110.5,1332.7 1111.5,1332.9 1112.5,1334.2 1113.5,1330.6 1114.5,1338.1 1115.5,1332.2 1116.5,1330.2 1117.5,1340.8 1118.5,1335.4 1119.5,1340.9 1120.5,1345.2 1121.5,1337.7 1122.5,1342.0 1123.5,1349.3 1124.5,1346.3 1125.5,1352.4 1126.5,1356.1 1127.5,1346.4 1128.5,1351.5 1129.5,1345.1 1130.5,1352.4 1131.5,1352.9 1132.5,1355.7 1133.5,1355.8 1134.5,1361.5 1135.5,1360.9 1136.5,1369.2 1137.5,1371.1 1138.5,1370.4 1139.5,1368.3 1140.5,1366.8 1141.5,1367.9 1142.5,1362.6 1143.5,1357.3 1144.5,1378.4 1145.5,1361.8 1146.5,1363.9 1147.5,1370.0 1148.5,1366.5 1149.5,1375.1 1150.5,1367.6 1151.5,1360.0 1152.5,1372.3 1153.5,1370.0 1154.5,1367.1 1155.5,1364.8 1156.5,1367.7 1157.5,1370.6 1158.5,1366.3 1159.5,1372.3 1160.5,1360.1 1161.5,1365.4 1162.5,1370.4 1163.5,1374.3 1164.5,1373.2 1165.5,1373.9 1166.5,1372.3 1167.5,1369.6 1168.5,1377.8 1169.5,1372.4 1170.5,1373.8 1171.5,1378.6 1172.5,1369.4 1173.5,1373.0 1174.5,1373.8 1175.5,1377.7 1176.5,1378.6 1177.5,1375.5 1178.5,1382.1 1179.5,1374.3 1180.5,1380.5 1181.5,1375.5 1182.5,1372.7 1183.5,1377.2 1184.5,1379.8 1185.5,1381.3 1186.5,1378.5 1187.5,1384.3 1188.5,1379.7 1189.5,1374.9 1190.5,1386.6 1191.5,1381.4 1192.5,1376.5 1193.5,1382.1 1194.5,1381.5 1195.5,1381.9 1196.5,1372.3 1197.5,1383.9 1198.5,1373.9 1199.5,1372.8 1200.5,1370.9 1201.5,1374.0 1202.5,1370.5 1203.5,1373.7 1204.5,1375.9 1205.5,1361.9 1206.5,1369.0 1207.5,1377.9 1208.5,1376.0 1209.5,1370.6 1210.5,1365.9 1211.5,1372.5 1212.5,1368.4 1213.5,1370.6 1214.5,1366.5 1215.5,1373.5 1216.5,1373.9 1217.5,1368.5 1218.5,1366.7 1219.5,1364.8 1220.5,1355.7 1221.5,1352.2 1222.5,1346.7 1223.5,1341.2 1224.5,1318.6 1225.5,1299.4 1226.5,1284.0 1227.5,1257.8 1228.5,1238.2 1229.5,1212.7 1230.5,1202.4 1231.5,1209.2 1232.5,1213.9 1233.5,1235.9 1234.5,1259.9 1235.5,1277.8 1236.5,1295.9 1237.5,1317.3 1238.5,1336.5 1239.5,1340.3 1240.5,1357.5 1241.5,1357.2 1242.5,1371.1 1243.5,1366.9 1244.5,1373.9 1245.5,1376.3 1246.5,1367.2 1247.5,1369.1 1248.5,1367.9 1249.5,1370.4 1250.5,1370.3 1251.5,1372.5 1252.5,1373.9 1253.5,1373.2 1254.5,1364.2 1255.5,1378.0 1256.5,1379.4 1257.5,1376.1 1258.5,1374.1 1259.5,1368.2 1260.5,1365.0 1261.5,1364.0 1262.5,1368.6 1263.5,1362.9 1264.5,1355.9 1265.5,1358.5 1266.5,1352.8 1267.5,1359.3 1268.5,1348.4 1269.5,1346.1 1270.5,1352.5 1271.5,1345.5 1272.5,1342.0 1273.5,1348.3 1274.5,1342.1 1275.5,1344.5 1276.5,1350.8 1277.5,1356.2 1278.5,1360.0 1279.5,1360.5 1280.5,1359.9 1281.5,1372.7 1282.5,1368.0 1283.5,1369.6 1284.5,1365.0 1285.5,1379.9 1286.5,1376.7 1287.5,1383.6 1288.5,1375.8 1289.5,1378.1 1290.5,1381.9 1291.5,1377.8 1292.5,1382.2 1293.5,1382.3 1294.5,1374.8 1295.5,1383.5 1296.5,1391.3 1297.5,1379.2 1298.5,1384.8 1299.5,1383.8 1300.5,1373.0 1301.5,1379.1 1302.5,1374.2 1303.5,1382.4 1304.5,1379.9 1305.5,1378.3 1306.5,1371.6 1307.5,1377.8 1308.5,1383.6 1309.5,1372.8 1310.5,1379.0 1311.5,1377.0 1312.5,1374.7 1313.5,1369.3 1314.5,1379.1 1315.5,1372.7 1316.5,1385.9 1317.5,1379.9 1318.5,1379.8 1319.5,1391.1 1320.5,1386.4 1321.5,1385.8 1322.5,1380.6 1323.5,1384.4 1324.5,1383.4 1325.5,1383.6 1326.5,1378.1 1327.5,1379.9 1328.5,1379.8 1329.5,1380.2 1330.5,1376.0 1331.5,1381.4 1332.5,1377.9 1333.5,1377.6 1334.5,1376.3 1335.5,1374.4 1336.5,1378.3 1337.5,1386.5 1338.5,1377.3 1339.5,1376.8 1340.5,1376.6 1341.5,1378.1 1342.5,1388.3 1343.5,1382.1 1344.5,1378.3 1345.5,1378.3 1346.5,1382.4 1347.5,1381.7 1348.5,1387.0 1349.5,1380.9 1350.5,1391.4 1351.5,1373.8 1352.5,1378.4 1353.5,1387.3 1354.5,1376.6 1355.5,1373.6 1356.5,1379.6 1357.5,1384.0 1358.5,1383.7 1359.5,1386.6 1360.5,1378.0 1361.5,1385.1 1362.5,1378.9 1363.5,1383.8 1364.5,1376.5 1365.5,1384.5 1366.5,1379.2 1367.5,1381.9 1368.5,1374.9 1369.5,1381.0 1370.5,1380.0 1371.5,1374.3 1372.5,1383.8 1373.5,1384.7 1374.5,1380.5 1375.5,1385.5 1376.5,1375.2 1377.5,1382.9 1378.5,1383.6 1379.5,1386.9 1380.5,1399.2 1381.5,1380.5 1382.5,1386.0 1383.5,1393.5 1384.5,1388.6 1385.5,1383.0 1386.5,1365.1 1387.5,1379.5 1388.5,1378.7 1389.5,1378.3 1390.5,1383.2 1391.5,1382.4 1392.5,1379.8 1393.5,1385.8 1394.5,1380.2 1395.5,1377.7 1396.5,1390.6 1397.5,1381.5 1398.5,1381.6 1399.5,1379.6 1400.5,1372.4 1401.5,1385.5 1402.5,1371.4 1403.5,1376.7 1404.5,1369.0 1405.5,1381.2 1406.5,1378.5 1407.5,1381.3 1408.5,1379.7 1409.5,1386.8 1410.5,1387.2 1411.5,1385.3 1412.5,1381.9 1413.5,1389.7 1414.5,1384.8 1415.5,1385.5 1416.5,1381.4 1417.5,1379.3 1418.5,1389.4 1419.5,1387.4 1420.5,1384.3 1421.5,1386.2 1422.5,1374.7 1423.5,1372.4 1424.5,1375.8 1425.5,1376.9 1426.5,1384.4 1427.5,1384.7 1428.5,1379.6 1429.5,1375.8 1430.5,1384.0 1431.5,1381.3 1432.5,1375.3 1433.5,1374.3 1434.5,1385.3 1435.5,1379.3 1436.5,1376.8 1437.5,1386.8 1438.5,1382.0 1439.5,1379.5 1440.5,1383.0 1441.5,1378.9 1442.5,1383.4 1443.5,1389.5 1444.5,1387.8 1445.5,1391.8 1446.5,1388.4 1447.5,1380.2 1448.5,1380.9 1449.5,1379.2 1450.5,1374.9 1451.5,1384.4 1452.5,1381.1 1453.5,1378.2 1454.5,1371.4 1455.5,1377.1 1456.5,1378.8 1457.5,1377.1 1458.5,1382.4 1459.5,1387.3 1460.5,1377.7 1461.5,1382.7 1462.5,1380.5 1463.5,1389.0 1464.5,1389.3 1465.5,1383.6 1466.5,1387.0 1467.5,1384.4 1468.5,1391.2 1469.5,1387.1 1470.5,1383.1 1471.5,1380.5 1472.5,1382.9 1473.5,1380.4 1474.5,1381.5 1475.5,1382.0 1476.5,1382.1 1477.5,1380.2 1478.5,1387.4 1479.5,1380.9 1480.5,1383.8 1481.5,1378.3 1482.5,1378.7 1483.5,1376.8 1484.5,1379.2 1485.5,1379.9 1486.5,1386.6 1487.5,1376.1 1488.5,1388.7 1489.5,1391.5 1490.5,1382.5 1491.5,1381.8 1492.5,1384.9 1493.5,1386.0 1494.5,1389.5 1495.5,1377.1 1496.5,1392.6 1497.5,1375.6 1498.5,1391.9 1499.5,1388.9 1500.5,1384.4 1501.5,1383.9 1502.5,1378.5 1503.5,1383.1 1504.5,1380.3 1505.5,1385.4 1506.5,1373.9 1507.5,1380.7 1508.5,1383.1 1509.5,1371.3 1510.5,1376.7 1511.5,1379.2 1512.5,1383.9 1513.5,1380.2 1514.5,1379.1 1515.5,1378.4 1516.5,1381.3 1517.5,1377.2 1518.5,1385.1 1519.5,1380.2 1520.5,1384.5 1521.5,1380.9 1522.5,1383.3 1523.5,1377.5 1524.5,1375.4 1525.5,1375.4 1526.5,1385.1 1527.5,1377.6 1528.5,1386.1 1529.5,1393.1 1530.5,1386.5 1531.5,1377.9 1532.5,1380.1 1533.5,1378.6 1534.5,1382.5 1535.5,1379.9 1536.5,1385.9 1537.5,1374.2 1538.5,1374.0 1539.5,1377.6 1540.5,1380.8 1541.5,1380.2 1542.5,1374.8 1543.5,1376.6 1544.5,1383.0 1545.5,1377.0 1546.5,1376.9 1547.5,1378.2 1548.5,1378.3 1549.5,1378.3 1550.5,1378.4 1551.5,1376.5 1552.5,1375.0 1553.5,1364.5 1554.5,1373.5 1555.5,1363.6 1556.5,1357.3 1557.5,1348.0 1558.5,1356.2 1559.5,1345.7 1560.5,1342.8 1561.5,1341.1 1562.5,1334.4 1563.5,1346.5 1564.5,1329.8 1565.5,1326.1 1566.5,1315.8 1567.5,1310.2 1568.5,1305.0 1569.5,1300.9 1570.5,1282.9 1571.5,1277.2 1572.5,1273.2 1573.5,1258.3 1574.5,1250.7 1575.5,1238.2 1576.5,1222.7 1577.5,1214.1 1578.5,1221.0 1579.5,1208.7 1580.5,1203.8 1581.5,1212.1 1582.5,1208.1 1583.5,1205.1 1584.5,1202.1 1585.5,1210.5 1586.5,1201.5 1587.5,1181.7 1588.5,1165.0 1589.5,1146.0 1590.5,1128.6 1591.5,1122.5 1592.5,1097.4 1593.5,1086.5 1594.5,1029.4 1595.5,943.8 1596.5,882.7 1597.5,869.1 1598.5,854.7 1599.5,858.1 1600.5,858.3 1601.5,856.3 1602.5,869.2 1603.5,880.9 1604.5,900.6 1605.5,935.0 1606.5,939.7 1607.5,962.9 1608.5,976.3 1609.5,987.5 1610.5,1013.7 1611.5,1025.2 1612.5,1061.3 1613.5,1066.5 1614.5,1070.1 1615.5,1067.9 1616.5,1052.6 1617.5,1043.2 1618.5,1036.8 1619.5,1028.5 1620.5,1025.8 1621.5,1011.1 1622.5,1009.0 1623.5,1013.1 1624.5,1020.3 1625.5,1034.7 1626.5,1019.1 1627.5,1018.2 1628.5,1007.3 1629.5,996.1 1630.5,986.7 1631.5,980.7 1632.5,970.2 1633.5,962.0 1634.5,957.8 1635.5,957.8 1636.5,956.5 1637.5,955.0 1638.5,972.4 1639.5,986.0 1640.5,985.6 1641.5,997.7 1642.5,1015.2 1643.5,1007.4 1644.5,1012.3 1645.5,1028.5 1646.5,1029.6 1647.5,1031.0 1648.5,1038.9 1649.5,1043.6 1650.5,1048.1 1651.5,1050.4 1652.5,1078.9 1653.5,1083.1 1654.5,1093.9 1655.5,1125.5 1656.5,1132.0 1657.5,1144.1 1658.5,1148.7 1659.5,1145.7 1660.5,1147.5 1661.5,1156.8 1662.5,1160.8 1663.5,1180.5 1664.5,1193.8 1665.5,1195.0 1666.5,1200.0 1667.5,1204.0 1668.5,1215.2 1669.5,1228.6 1670.5,1228.7 1671.5,1241.2 1672.5,1249.9 1673.5,1259.2 1674.5,1263.9 1675.5,1270.6 1676.5,1280.6 1677.5,1298.8 1678.5,1300.1 1679.5,1301.0 1680.5,1302.5 1681.5,1310.2 1682.5,1316.1 1683.5,1318.4 1684.5,1327.6 1685.5,1329.4 1686.5,1335.5 1687.5,1344.2 1688.5,1351.9 1689.5,1350.4 1690.5,1351.5 1691.5,1361.4 1692.5,1359.3 1693.5,1358.4 1694.5,1367.0 1695.5,1362.1 1696.5,1367.4 1697.5,1373.1 1698.5,1368.1 1699.5,1368.1 1700.5,1373.4 1701.5,1369.7 1702.5,1377.5 1703.5,1373.1 1704.5,1373.2 1705.5,1379.7 1706.5,1375.6 1707.5,1370.4 1708.5,1380.1 1709.5,1382.9 1710.5,1385.0 1711.5,1383.1 1712.5,1385.4 1713.5,1388.7 1714.5,1382.1 1715.5,1382.2 1716.5,1388.8 1717.5,1385.2 1718.5,1372.5 1719.5,1384.1 1720.5,1384.8 1721.5,1371.8 1722.5,1387.9 1723.5,1381.2 1724.5,1377.2 1725.5,1388.6 1726.5,1394.6 1727.5,1390.4 1728.5,1392.2 1729.5,1387.4 1730.5,1383.1 1731.5,1385.2 1732.5,1379.1 1733.5,1383.1 1734.5,1383.2 1735.5,1390.7 1736.5,1380.1 1737.5,1385.0 1738.5,1385.7 1739.5,1386.3 1740.5,1379.9 1741.5,1384.2 1742.5,1388.1 1743.5,1394.1 1744.5,1389.2 1745.5,1387.9 1746.5,1382.3 1747.5,1382.9 1748.5,1382.4 1749.5,1388.0 1750.5,1379.2 1751.5,1371.2 1752.5,1388.6 1753.5,1387.3 1754.5,1383.3 1755.5,1380.1 1756.5,1383.7 1757.5,1384.5 1758.5,1378.7 1759.5,1389.5 1760.5,1393.2 1761.5,1390.2 1762.5,1379.5 1763.5,1378.2 1764.5,1383.5 1765.5,1388.0 1766.5,1385.9 1767.5,1381.4 1768.5,1380.1 1769.5,1388.3 1770.5,1390.2 1771.5,1386.0 1772.5,1390.0 1773.5,1384.2 1774.5,1385.5 1775.5,1383.8 1776.5,1383.9 1777.5,1382.6 1778.5,1388.3 1779.5,1386.8 1780.5,1380.7 1781.5,1380.6 1782.5,1378.2 1783.5,1383.9 1784.5,1388.1 1785.5,1385.9 1786.5,1386.6 1787.5,1383.3 1788.5,1386.0 1789.5,1382.5 1790.5,1381.7 1791.5,1381.1 1792.5,1380.5 1793.5,1387.3 1794.5,1378.5 1795.5,1376.9 1796.5,1381.1 1797.5,1378.1 1798.5,1383.2 1799.5,1387.1 1800.5,1381.9 1801.5,1383.9 1802.5,1383.8 1803.5,1376.0 1804.5,1386.6 1805.5,1377.9 1806.5,1385.3 1807.5,1390.6 1808.5,1380.5 1809.5,1383.8 1810.5,1384.4 1811.5,1385.7 1812.5,1383.5 1813.5,1387.6 1814.5,1379.7 1815.5,1390.1 1816.5,1387.5 1817.5,1391.1 1818.5,1386.5 1819.5,1396.5 1820.5,1388.4 1821.5,1388.3 1822.5,1385.5 1823.5,1393.1 1824.5,1389.0 1825.5,1385.5 1826.5,1374.4 1827.5,1384.4 1828.5,1381.2 1829.5,1384.9 1830.5,1372.5 1831.5,1381.9 1832.5,1382.1 1833.5,1381.3 1834.5,1388.8 1835.5,1389.0 1836.5,1387.5 1837.5,1390.1 1838.5,1382.5 1839.5,1388.3 1840.5,1376.2 1841.5,1384.0 1842.5,1388.2 1843.5,1384.9 1844.5,1383.3 1845.5,1386.9 1846.5,1385.5 1847.5,1388.5 1848.5,1391.0 1849.5,1388.3 1850.5,1380.8 1851.5,1389.9 1852.5,1388.9 1853.5,1395.3 1854.5,1391.6 1855.5,1387.1 1856.5,1389.1 1857.5,1382.0 1858.5,1382.0 1859.5,1387.6 1860.5,1386.2 1861.5,1383.4 1862.5,1385.3 1863.5,1388.7 1864.5,1395.3 1865.5,1381.7 1866.5,1386.8 1867.5,1385.7 1868.5,1389.1 1869.5,1379.9 1870.5,1386.6 1871.5,1385.6 1872.5,1394.9 1873.5,1388.3 1874.5,1386.5 1875.5,1384.5 1876.5,1383.3 1877.5,1387.4 1878.5,1383.0 1879.5,1388.4 1880.5,1389.0 1881.5,1388.2 1882.5,1394.6 1883.5,1396.2 1884.5,1378.8 1885.5,1393.4 1886.5,1388.8 1887.5,1384.1 1888.5,1389.7 1889.5,1382.7 1890.5,1395.7 1891.5,1386.9 1892.5,1384.7 1893.5,1377.6 1894.5,1379.9 1895.5,1388.2 1896.5,1380.6 1897.5,1382.3 1898.5,1388.3 1899.5,1385.8 1900.5,1380.0 1901.5,1386.5 1902.5,1390.0 1903.5,1389.0 1904.5,1391.6 1905.5,1392.6 1906.5,1384.1 1907.5,1383.6 1908.5,1381.5 1909.5,1393.0 1910.5,1391.8 1911.5,1385.6 1912.5,1386.6 1913.5,1387.4 1914.5,1384.9 1915.5,1386.3 1916.5,1390.1 1917.5,1377.1 1918.5,1380.3 1919.5,1387.3 1920.5,1378.1 1921.5,1387.9 1922.5,1381.9 1923.5,1384.6 1924.5,1388.2 1925.5,1381.9 1926.5,1395.2 1927.5,1390.1 1928.5,1390.0 1929.5,1395.9 1930.5,1394.3 1931.5,1387.4 1932.5,1386.9 1933.5,1392.4 1934.5,1386.0 1935.5,1386.5 1936.5,1385.3 1937.5,1389.7 1938.5,1389.2 1939.5,1386.3 1940.5,1390.9 1941.5,1391.8 1942.5,1393.1 1943.5,1385.7 1944.5,1382.4 1945.5,1395.2 1946.5,1388.8 1947.5,1384.6 1948.5,1381.1 1949.5,1385.8 1950.5,1390.2 1951.5,1384.1 1952.5,1378.1 1953.5,1386.7 1954.5,1386.0 1955.5,1382.2 1956.5,1395.7 1957.5,1386.3 1958.5,1377.9 1959.5,1385.4 1960.5,1388.8 1961.5,1391.1 1962.5,1391.9 1963.5,1394.9 1964.5,1391.6 1965.5,1394.1 1966.5,1389.3 1967.5,1389.3 1968.5,1390.2 1969.5,1389.0 1970.5,1386.9 1971.5,1392.2 1972.5,1384.8 1973.5,1387.0 1974.5,1385.8 1975.5,1390.2 1976.5,1390.4 1977.5,1389.4 1978.5,1389.5 1979.5,1391.2 1980.5,1390.3 1981.5,1390.2 1982.5,1388.8 1983.5,1389.9 1984.5,1390.1 1985.5,1391.0 1986.5,1381.8 1987.5,1390.2 1988.5,1387.7 1989.5,1390.8 1990.5,1385.7 1991.5,1380.9 1992.5,1388.7 1993.5,1385.4 1994.5,1386.9 1995.5,1383.8 1996.5,1388.1 1997.5,1388.6 1998.5,1389.2 1999.5,1395.8 2000.5,1383.3 2001.5,1380.0 2002.5,1389.5 2003.5,1382.2 2004.5,1380.7 2005.5,1379.4 2006.5,1387.5 2007.5,1384.0 2008.5,1381.2 2009.5,1385.2 2010.5,1387.3 2011.5,1388.7 2012.5,1391.1 2013.5,1387.8 2014.5,1391.5 2015.5,1380.2 2016.5,1384.2 2017.5,1387.2 2018.5,1393.2 2019.5,1383.6 2020.5,1382.9 2021.5,1386.7 2022.5,1384.9 2023.5,1384.9 2024.5,1388.6 2025.5,1389.6 2026.5,1388.4 2027.5,1384.3 2028.5,1391.9 2029.5,1396.0 2030.5,1388.8 2031.5,1388.0 2032.5,1387.8 2033.5,1385.8 2034.5,1390.4 2035.5,1388.7 2036.5,1386.7 2037.5,1385.6 2038.5,1383.5 2039.5,1382.6 2040.5,1384.4 2041.5,1385.0 2042.5,1387.4 2043.5,1384.5 2044.5,1388.3 2045.5,1384.9 2046.5,1381.0 2047.5,1381.4 2048.5,1388.8 2049.5,1381.0 2050.5,1395.7 2051.5,1384.3 2052.5,1386.0 2053.5,1385.9 2054.5,1383.0 2055.5,1386.1 2056.5,1375.8 2057.5,1387.5 2058.5,1388.1 2059.5,1386.6 2060.5,1396.7 2061.5,1390.2 2062.5,1395.7 2063.5,1384.9 2064.5,1392.1 2065.5,1390.3 2066.5,1396.4 2067.5,1381.8 2068.5,1395.8 2069.5,1394.9 2070.5,1392.3 2071.5,1398.6 2072.5,1394.9 2073.5,1391.1 2074.5,1384.9 2075.5,1384.3 2076.5,1392.8 2077.5,1390.0 2078.5,1384.9 2079.5,1382.9 2080.5,1391.0 2081.5,1388.8 2082.5,1387.9 2083.5,1387.6 2084.5,1389.4 2085.5,1381.3"/>
<polyline stroke="#ff0000" points="303.5,1390.9 304.5,1379.3 305.5,1389.6 306.5,1387.2 307.5,1386.6 308.5,1389.9 309.5,1392.9 310.5,1383.9 311.5,1375.2 312.5,1395.7 313.5,1375.9 314.5,1382.1 315.5,1390.0 316.5,1382.4 317.5,1388.6 318.5,1386.9 319.5,1383.4 320.5,1393.0 321.5,1384.7 322.5,1380.7 323.5,1380.3 324.5,1386.5 325.5,1379.5 326.5,1389.5 327.5,1381.8 328.5,1378.8 329.5,1387.7 330.5,1383.6 331.5,1377.7 332.5,1376.0 333.5,1386.4 334.5,1387.5 335.5,1396.1 336.5,1396.8 337.5,1396.5 338.5,1385.8 339.5,1382.7 340.5,1387.1 341.5,1388.1 342.5,1380.3 343.5,1379.6 344.5,1381.9 345.5,1376.1 346.5,1383.1 347.5,1383.9 348.5,1389.5 349.5,1384.5 350.5,1379.0 351.5,1384.3 352.5,1383.0 353.5,1379.9 354.5,1379.5 355.5,1378.1 356.5,1378.7 357.5,1379.4 358.5,1387.0 359.5,1382.9 360.5,1391.8 361.5,1383.2 362.5,1390.0 363.5,1384.8 364.5,1382.9 365.5,1387.6 366.5,1385.7 367.5,1393.2 368.5,1388.6 369.5,1380.3 370.5,1387.7 371.5,1378.9 372.5,1388.0 373.5,1386.0 374.5,1387.4 375.5,1383.1 376.5,1381.4 377.5,1389.2 378.5,1385.4 379.5,1377.3 380.5,1386.1 381.5,1388.2 382.5,1382.3 383.5,1384.8 384.5,1386.6 385.5,1391.2 386.5,1379.0 387.5,1385.1 388.5,1382.4 389.5,1387.2 390.5,1376.3 391.5,1378.6 392.5,1377.4 393.5,1382.3 394.5,1379.9 395.5,1378.5 396.5,1378.6 397.5,1382.9 398.5,1385.6 399.5,1387.7 400.5,1389.7 401.5,1390.2 402.5,1383.2 403.5,1384.7 404.5,1391.4 405.5,1381.7 406.5,1375.0 407.5,1380.3 408.5,1387.2 409.5,1379.6 410.5,1376.0 411.5,1379.4 412.5,1383.2 413.5,1373.8 414.5,1374.4 415.5,1383.9 416.5,1379.8 417.5,1381.5 418.5,1379.7 419.5,1377.0 420.5,1380.2 421.5,1383.5 422.5,1386.7 423.5,1387.1 424.5,1383.2 425.5,1377.4 426.5,1381.0 427.5,1382.2 428.5,1381.8 429.5,1383.6 430.5,1382.0 431.5,1390.1 432.5,1383.7 433.5,1387.6 434.5,1384.9 435.5,1379.1 436.5,1387.3 437.5,1387.4 438.5,1392.6 439.5,1383.3 440.5,1386.4 441.5,1377.7 442.5,1378.6 443.5,1386.2 444.5,1381.4 445.5,1396.5 446.5,1387.8 447.5,1379.7 448.5,1382.2 449.5,1385.2 450.5,1386.0 451.5,1392.3 452.5,1392.1 453.5,1384.9 454.5,1377.6 455.5,1394.9 456.5,1381.1 457.5,1379.8 458.5,1376.8 459.5,1383.9 460.5,1381.5 461.5,1378.9 462.5,1384.5 463.5,1386.5 464.5,1385.9 465.5,1382.8 466.5,1381.2 467.5,1383.4 468.5,1383.5 469.5,1387.6 470.5,1388.3 471.5,1380.2 472.5,1385.8 473.5,1386.1 474.5,1381.4 475.5,1379.7 476.5,1379.1 477.5,1382.5 478.5,1374.8 479.5,1381.6 480.5,1369.7 481.5,1375.1 482.5,1379.4 483.5,1377.0 484.5,1379.2 485.5,1372.1 486.5,1387.6 487.5,1377.0 488.5,1376.3 489.5,1386.1 490.5,1372.0 491.5,1383.3 492.5,1383.8 493.5,1388.1 494.5,1378.9 495.5,1381.5 496.5,1384.6 497.5,1380.3 498.5,1377.8 499.5,1375.1 500.5,1379.7 501.5,1385.4 502.5,1384.2 503.5,1392.6 504.5,1385.4 505.5,1378.1 506.5,1378.7 507.5,1380.9 508.5,1382.1 509.5,1374.0 510.5,1380.8 511.5,1378.9 512.5,1382.1 513.5,1387.2 514.5,1376.8 515.5,1388.7 516.5,1387.5 517.5,1383.1 518.5,1383.7 519.5,1382.5 520.5,1382.4 521.5,1375.3 522.5,1379.8 523.5,1378.7 524.5,1387.6 525.5,1384.4 526.5,1375.9 527.5,1387.0 528.5,1376.8 529.5,1387.5 530.5,1381.6 531.5,1386.6 532.5,1381.3 533.5,1385.2 534.5,1381.0 535.5,1371.0 536.5,1379.6 537.5,1368.5 538.5,1380.3 539.5,1384.4 540.5,1380.0 541.5,1383.9 542.5,1375.8 543.5,1381.0 544.5,1379.9 545.5,1382.0 546.5,1372.6 547.5,1379.0 548.5,1379.4 549.5,1385.3 550.5,1386.2 551.5,1382.1 552.5,1379.4 553.5,1379.4 554.5,1388.7 555.5,1381.3 556.5,1381.8 557.5,1386.8 558.5,1378.6 559.5,1390.9 560.5,1379.2 561.5,1369.1 562.5,1385.1 563.5,1380.5 564.5,1389.3 565.5,1384.1 566.5,1377.2 567.5,1385.2 568.5,1380.0 569.5,1380.5 570.5,1379.5 571.5,1376.2 572.5,1374.9 573.5,1372.0 574.5,1374.8 575.5,1382.3 576.5,1374.7 577.5,1376.7 578.5,1390.5 579.5,1380.9 580.5,1380.6 581.5,1380.3 582.5,1382.4 583.5,1390.8 584.5,1385.9 585.5,1393.7 586.5,1384.4 587.5,1373.9 588.5,1379.4 589.5,1377.9 590.5,1383.5 591.5,1385.3 592.5,1385.1 593.5,1379.2 594.5,1383.0 595.5,1381.8 596.5,1373.3 597.5,1385.9 598.5,1384.7 599.5,1381.6 600.5,1380.4 601.5,1380.8 602.5,1386.5 603.5,1378.7 604.5,1379.7 605.5,1377.4 606.5,1384.1 607.5,1378.7 608.5,1379.8 609.5,1384.8 610.5,1383.4 611.5,1385.2 612.5,1376.2 613.5,1396.0 614.5,1387.5 615.5,1387.8 616.5,1380.9 617.5,1381.7 618.5,1380.3 619.5,1375.5 620.5,1386.9 621.5,1384.3 622.5,1382.5 623.5,1387.8 624.5,1381.1 625.5,1381.3 626.5,1385.7 627.5,1389.9 628.5,1373.5 629.5,1377.6 630.5,1376.8 631.5,1377.4 632.5,1377.3 633.5,1373.6 634.5,1378.1 635.5,1381.9 636.5,1376.9 637.5,1380.9 638.5,1385.3 639.5,1385.9 640.5,1375.8 641.5,1377.2 642.5,1370.2 643.5,1381.1 644.5,1382.0 645.5,1377.1 646.5,1373.3 647.5,1377.5 648.5,1378.5 649.5,1371.6 650.5,1382.9 651.5,1384.5 652.5,1381.6 653.5,1379.3 654.5,1375.8 655.5,1372.6 656.5,1375.4 657.5,1370.4 658.5,1381.2 659.5,1368.8 660.5,1381.1 661.5,1372.0 662.5,1381.5 663.5,1375.5 664.5,1376.7 665.5,1374.6 666.5,1373.9 667.5,1379.1 668.5,1379.4 669.5,1378.8 670.5,1386.5 671.5,1384.3 672.5,1388.6 673.5,1381.2 674.5,1370.6 675.5,1376.5 676.5,1382.7 677.5,1381.0 678.5,1372.5 679.5,1378.9 680.5,1384.4 681.5,1382.5 682.5,1383.7 683.5,1384.6 684.5,1377.5 685.5,1380.3 686.5,1387.2 687.5,1382.4 688.5,1384.7 689.5,1384.6 690.5,1385.7 691.5,1370.7 692.5,1380.0 693.5,1376.1 694.5,1375.1 695.5,1381.3 696.5,1377.5 697.5,1377.7 698.5,1379.0 699.5,1369.7 700.5,1377.8 701.5,1379.8 702.5,1375.8 703.5,1371.0 704.5,1375.0 705.5,1382.2 706.5,1384.3 707.5,1384.4 708.5,1382.6 709.5,1377.0 710.5,1374.3 711.5,1388.2 712.5,1378.1 713.5,1383.4 714.5,1375.8 715.5,1375.0 716.5,1382.9 717.5,1381.3 718.5,1383.5 719.5,1377.4 720.5,1386.5 721.5,1384.3 722.5,1381.9 723.5,1372.7 724.5,1366.7 725.5,1377.0 726.5,1382.4 727.5,1376.4 728.5,1381.0 729.5,1374.9 730.5,1381.7 731.5,1377.6 732.5,1374.8 733.5,1370.9 734.5,1372.0 735.5,1364.0 736.5,1367.1 737.5,1373.7 738.5,1359.0 739.5,1362.8 740.5,1363.8 741.5,1354.2 742.5,1366.9 743.5,1364.0 744.5,1369.9 745.5,1362.9 746.5,1372.9 747.5,1372.1 748.5,1381.0 749.5,1369.2 750.5,1381.5 751.5,1373.1 752.5,1372.4 753.5,1371.9 754.5,1368.8 755.5,1381.8 756.5,1373.7 757.5,1373.8 758.5,1371.5 759.5,1367.9 760.5,1372.7 761.5,1378.0 762.5,1376.2 763.5,1370.0 764.5,1383.2 765.5,1377.8 766.5,1382.7 767.5,1373.1 768.5,1385.6 769.5,1379.9 770.5,1379.1 771.5,1378.0 772.5,1367.6 773.5,1371.2 774.5,1383.2 775.5,1369.2 776.5,1385.3 777.5,1389.1 778.5,1387.7 779.5,1379.6 780.5,1377.1 781.5,1388.2 782.5,1374.8 783.5,1376.9 784.5,1371.8 785.5,1376.4 786.5,1370.4 787.5,1359.1 788.5,1379.5 789.5,1367.5 790.5,1373.1 791.5,1370.7 792.5,1368.3 793.5,1378.5 794.5,1374.7 795.5,1378.6 796.5,1379.9 797.5,1375.2 798.5,1375.6 799.5,1371.6 800.5,1371.5 801.5,1377.4 802.5,1380.2 803.5,1361.1 804.5,1366.0 805.5,1377.1 806.5,1381.9 807.5,1380.6 808.5,1378.3 809.5,1374.7 810.5,1375.1 811.5,1376.7 812.5,1379.0 813.5,1376.6 814.5,1378.7 815.5,1377.0 816.5,1377.4 817.5,1373.9 818.5,1384.2 819.5,1376.2 820.5,1374.9 821.5,1377.8 822.5,1372.8 823.5,1376.8 824.5,1375.6 825.5,1375.2 826.5,1376.9 827.5,1380.4 828.5,1374.6 829.5,1379.7 830.5,1379.2 831.5,1378.9 832.5,1381.8 833.5,1381.5 834.5,1372.6 835.5,1377.5 836.5,1383.9 837.5,1386.0 838.5,1375.2 839.5,1379.7 840.5,1376.8 841.5,1378.8 842.5,1377.7 843.5,1376.0 844.5,1380.1 845.5,1373.8 846.5,1368.6 847.5,1369.7 848.5,1380.8 849.5,1379.1 850.5,1379.0 851.5,1373.9 852.5,1368.7 853.5,1371.0 854.5,1380.6 855.5,1372.9 856.5,1370.0 857.5,1376.1 858.5,1365.2 859.5,1376.1 860.5,1366.7 861.5,1360.3 862.5,1376.3 863.5,1372.0 864.5,1368.4 865.5,1357.2 866.5,1381.1 867.5,1371.2 868.5,1372.7 869.5,1375.6 870.5,1376.7 871.5,1374.0 872.5,1371.6 873.5,1374.7 874.5,1360.5 875.5,1371.8 876.5,1368.3 877.5,1369.4 878.5,1368.2 879.5,1365.9 880.5,1369.8 881.5,1367.3 882.5,1358.3 883.5,1361.3 884.5,1367.3 885.5,1361.6 886.5,1368.8 887.5,1363.5 888.5,1370.1 889.5,1367.9 890.5,1366.0 891.5,1355.7 892.5,1359.8 893.5,1354.8 894.5,1349.8 895.5,1341.7 896.5,1334.2 897.5,1325.2 898.5,1320.5 899.5,1316.4 900.5,1305.1 901.5,1285.3 902.5,1278.2 903.5,1280.2 904.5,1288.5 905.5,1272.1 906.5,1276.1 907.5,1276.0 908.5,1272.2 909.5,1269.0 910.5,1253.9 911.5,1248.6 912.5,1255.5 913.5,1242.8 914.5,1229.0 915.5,1213.5 916.5,1219.4 917.5,1193.2 918.5,1181.2 919.5,1184.0 920.5,1176.2 921.5,1181.8 922.5,1201.6 923.5,1225.3 924.5,1235.6 925.5,1241.2 926.5,1249.3 927.5,1249.3 928.5,1258.2 929.5,1259.6 930.5,1257.9 931.5,1254.1 932.5,1262.2 933.5,1272.7 934.5,1258.9 935.5,1266.9 936.5,1261.8 937.5,1269.3 938.5,1265.4 939.5,1266.6 940.5,1265.0 941.5,1258.0 942.5,1265.0 943.5,1259.0 944.5,1257.0 945.5,1258.7 946.5,1266.4 947.5,1254.6 948.5,1264.1 949.5,1248.0 950.5,1233.0 951.5,1218.2 952.5,1204.8 953.5,1193.0 954.5,1188.1 955.5,1192.9 956.5,1186.4 957.5,1194.5 958.5,1187.3 959.5,1199.8 960.5,1191.1 961.5,1186.6 962.5,1181.2 963.5,1189.2 964.5,1181.1 965.5,1188.9 966.5,1198.2 967.5,1212.2 968.5,1210.6 969.5,1226.6 970.5,1227.0 971.5,1238.8 972.5,1246.6 973.5,1255.7 974.5,1263.9 975.5,1267.8 976.5,1275.4 977.5,1284.4 978.5,1295.2 979.5,1304.1 980.5,1310.5 981.5,1308.0 982.5,1321.4 983.5,1325.9 984.5,1326.9 985.5,1339.1 986.5,1335.1 987.5,1334.9 988.5,1339.7 989.5,1337.6 990.5,1331.6 991.5,1335.6 992.5,1333.6 993.5,1329.0 994.5,1336.8 995.5,1339.5 996.5,1333.6 997.5,1329.5 998.5,1337.7 999.5,1324.3 1000.5,1324.2 1001.5,1317.8 1002.5,1313.0 1003.5,1302.7 1004.5,1278.2 1005.5,1249.0 1006.5,1216.2 1007.5,1136.7 1008.5,989.8 1009.5,853.4 1010.5,726.3 1011.5,605.3 1012.5,522.5 1013.5,501.7 1014.5,506.0 1015.5,502.3 1016.5,448.0 1017.5,382.9 1018.5,301.9 1019.5,255.6 1020.5,251.6 1021.5,230.1 1022.5,240.9 1023.5,263.7 1024.5,275.2 1025.5,325.8 1026.5,376.1 1027.5,427.3 1028.5,484.4 1029.5,543.5 1030.5,627.4 1031.5,719.3 1032.5,781.8 1033.5,815.2 1034.5,850.1 1035.5,886.7 1036.5,905.1 1037.5,913.9 1038.5,925.3 1039.5,937.1 1040.5,946.1 1041.5,968.9 1042.5,974.2 1043.5,957.1 1044.5,928.9 1045.5,912.7 1046.5,871.2 1047.5,858.2 1048.5,826.8 1049.5,803.2 1050.5,826.8 1051.5,859.5 1052.5,883.3 1053.5,902.9 1054.5,925.1 1055.5,947.0 1056.5,954.1 1057.5,946.1 1058.5,938.3 1059.5,913.9 1060.5,916.5 1061.5,893.9 1062.5,882.5 1063.5,866.6 1064.5,854.3 1065.5,843.7 1066.5,841.1 1067.5,830.1 1068.5,853.0 1069.5,864.6 1070.5,889.5 1071.5,913.0 1072.5,939.8 1073.5,978.0 1074.5,1006.5 1075.5,1042.3 1076.5,1066.5 1077.5,1097.7 1078.5,1135.6 1079.5,1155.9 1080.5,1174.6 1081.5,1185.4 1082.5,1198.4 1083.5,1210.8 1084.5,1217.2 1085.5,1229.5 1086.5,1242.1 1087.5,1241.4 1088.5,1259.9 1089.5,1257.8 1090.5,1262.7 1091.5,1261.4 1092.5,1274.6 1093.5,1283.5 1094.5,1278.1 1095.5,1273.0 1096.5,1283.7 1097.5,1285.6 1098.5,1288.9 1099.5,1290.8 1100.5,1288.4 1101.5,1289.0 1102.5,1299.7 1103.5,1306.0 1104.5,1300.4 1105.5,1311.2 1106.5,1313.6 1107.5,1317.4 1108.5,1318.5 1109.5,1316.9 1110.5,1320.4 1111.5,1318.7 1112.5,1321.6 1113.5,1321.3 1114.5,1327.6 1115.5,1329.2 1116.5,1329.9 1117.5,1333.5 1118.5,1336.0 1119.5,1333.5 1120.5,1345.6 1121.5,1351.0 1122.5,1339.6 1123.5,1344.3 1124.5,1337.1 1125.5,1343.7 1126.5,1349.0 1127.5,1334.9 1128.5,1344.8 1129.5,1350.3 1130.5,1352.8 1131.5,1347.2 1132.5,1352.5 1133.5,1347.1 1134.5,1343.1 1135.5,1354.9 1136.5,1351.1 1137.5,1348.8 1138.5,1345.4 1139.5,1350.7 1140.5,1358.5 1141.5,1350.6 1142.5,1359.2 1143.5,1358.4 1144.5,1355.9 1145.5,1362.9 1146.5,1344.3 1147.5,1353.6 1148.5,1358.8 1149.5,1363.0 1150.5,1366.3 1151.5,1359.7 1152.5,1358.6 1153.5,1364.0 1154.5,1363.5 1155.5,1360.6 1156.5,1364.0 1157.5,1373.0 1158.5,1362.3 1159.5,1365.0 1160.5,1363.4 1161.5,1370.6 1162.5,1377.0 1163.5,1372.9 1164.5,1365.6 1165.5,1357.3 1166.5,1355.9 1167.5,1365.3 1168.5,1373.5 1169.5,1368.5 1170.5,1365.0 1171.5,1365.2 1172.5,1367.1 1173.5,1361.9 1174.5,1372.9 1175.5,1379.5 1176.5,1374.6 1177.5,1376.7 1178.5,1362.0 1179.5,1373.5 1180.5,1379.2 1181.5,1369.5 1182.5,1367.5 1183.5,1371.8 1184.5,1371.3 1185.5,1367.7 1186.5,1370.1 1187.5,1376.0 1188.5,1370.5 1189.5,1369.3 1190.5,1372.2 1191.5,1369.8 1192.5,1370.9 1193.5,1374.2 1194.5,1373.1 1195.5,1368.5 1196.5,1372.6 1197.5,1363.9 1198.5,1363.1 1199.5,1378.1 1200.5,1369.5 1201.5,1372.9 1202.5,1372.3 1203.5,1368.5 1204.5,1369.6 1205.5,1365.9 1206.5,1366.7 1207.5,1366.2 1208.5,1371.1 1209.5,1368.7 1210.5,1359.9 1211.5,1377.1 1212.5,1357.0 1213.5,1366.4 1214.5,1357.0 1215.5,1371.9 1216.5,1358.1 1217.5,1346.3 1218.5,1331.2 1219.5,1324.8 1220.5,1318.4 1221.5,1298.9 1222.5,1279.3 1223.5,1253.9 1224.5,1237.1 1225.5,1229.9 1226.5,1230.9 1227.5,1241.2 1228.5,1256.2 1229.5,1280.3 1230.5,1295.1 1231.5,1312.2 1232.5,1327.8 1233.5,1339.1 1234.5,1338.3 1235.5,1354.5 1236.5,1354.7 1237.5,1353.8 1238.5,1358.8 1239.5,1363.4 1240.5,1359.8 1241.5,1371.6 1242.5,1371.0 1243.5,1367.4 1244.5,1366.5 1245.5,1365.8 1246.5,1356.7 1247.5,1357.4 1248.5,1365.2 1249.5,1364.2 1250.5,1370.2 1251.5,1365.5 1252.5,1374.1 1253.5,1362.6 1254.5,1372.3 1255.5,1368.2 1256.5,1377.4 1257.5,1365.3 1258.5,1368.6 1259.5,1361.6 1260.5,1368.6 1261.5,1373.9 1262.5,1367.1 1263.5,1366.2 1264.5,1350.3 1265.5,1357.1 1266.5,1354.1 1267.5,1343.9 1268.5,1341.0 1269.5,1335.5 1270.5,1335.8 1271.5,1339.5 1272.5,1335.0 1273.5,1339.2 1274.5,1325.5 1275.5,1330.6 1276.5,1340.3 1277.5,1339.8 1278.5,1343.6 1279.5,1347.4 1280.5,1351.3 1281.5,1353.0 1282.5,1359.9 1283.5,1373.5 1284.5,1378.9 1285.5,1362.8 1286.5,1367.4 1287.5,1382.4 1288.5,1370.4 1289.5,1375.0 1290.5,1373.4 1291.5,1383.0 1292.5,1368.3 1293.5,1372.9 1294.5,1369.4 1295.5,1368.6 1296.5,1367.7 1297.5,1365.8 1298.5,1371.8 1299.5,1372.2 1300.5,1376.4 1301.5,1371.5 1302.5,1375.5 1303.5,1380.1 1304.5,1369.5 1305.5,1372.1 1306.5,1387.8 1307.5,1378.8 1308.5,1376.5 1309.5,1376.2 1310.5,1370.3 1311.5,1375.3 1312.5,1374.1 1313.5,1373.1 1314.5,1372.1 1315.5,1380.2 1316.5,1376.6 1317.5,1378.3 1318.5,1375.6 1319.5,1376.4 1320.5,1371.9 1321.5,1375.4 1322.5,1379.4 1323.5,1376.2 1324.5,1381.4 1325.5,1374.3 1326.5,1368.7 1327.5,1378.5 1328.5,1383.7 1329.5,1377.0 1330.5,1379.6 1331.5,1377.8 1332.5,1381.0 1333.5,1378.4 1334.5,1384.0 1335.5,1372.6 1336.5,1381.0 1337.5,1377.1 1338.5,1374.8 1339.5,1377.4 1340.5,1373.0 1341.5,1375.0 1342.5,1375.2 1343.5,1374.3 1344.5,1371.7 1345.5,1380.7 1346.5,1379.9 1347.5,1379.7 1348.5,1378.4 1349.5,1370.2 1350.5,1375.3 1351.5,1376.3 1352.5,1374.1 1353.5,1369.9 1354.5,1378.5 1355.5,1370.8 1356.5,1386.4 1357.5,1379.8 1358.5,1368.7 1359.5,1368.1 1360.5,1374.1 1361.5,1376.9 1362.5,1371.4 1363.5,1377.6 1364.5,1369.2 1365.5,1371.3 1366.5,1373.3 1367.5,1380.5 1368.5,1372.0 1369.5,1377.5 1370.5,1377.4 1371.5,1378.2 1372.5,1376.8 1373.5,1373.8 1374.5,1367.3 1375.5,1371.5 1376.5,1359.2 1377.5,1375.8 1378.5,1368.6 1379.5,1377.1 1380.5,1375.3 1381.5,1380.0 1382.5,1369.7 1383.5,1374.8 1384.5,1376.1 1385.5,1377.8 1386.5,1373.2 1387.5,1379.6 1388.5,1375.2 1389.5,1365.1 1390.5,1376.8 1391.5,1378.4 1392.5,1379.7 1393.5,1371.2 1394.5,1374.8 1395.5,1378.8 1396.5,1379.5 1397.5,1376.1 1398.5,1381.3 1399.5,1367.5 1400.5,1378.0 1401.5,1377.8 1402.5,1377.1 1403.5,1384.8 1404.5,1383.3 1405.5,1378.9 1406.5,1378.1 1407.5,1384.4 1408.5,1371.4 1409.5,1377.1 1410.5,1372.9 1411.5,1372.7 1412.5,1378.0 1413.5,1364.8 1414.5,1374.7 1415.5,1383.6 1416.5,1385.5 1417.5,1374.6 1418.5,1370.5 1419.5,1374.0 1420.5,1366.5 1421.5,1375.7 1422.5,1371.6 1423.5,1370.6 1424.5,1378.8 1425.5,1373.1 1426.5,1373.5 1427.5,1370.9 1428.5,1371.0 1429.5,1372.6 1430.5,1380.7 1431.5,1373.7 1432.5,1371.8 1433.5,1376.1 1434.5,1372.8 1435.5,1372.8 1436.5,1371.3 1437.5,1376.8 1438.5,1375.3 1439.5,1376.9 1440.5,1378.0 1441.5,1381.5 1442.5,1380.6 1443.5,1384.5 1444.5,1380.5 1445.5,1376.5 1446.5,1376.8 1447.5,1376.1 1448.5,1379.7 1449.5,1372.5 1450.5,1380.4 1451.5,1374.1 1452.5,1374.7 1453.5,1379.2 1454.5,1378.7 1455.5,1372.0 1456.5,1375.5 1457.5,1374.5 1458.5,1361.7 1459.5,1372.9 1460.5,1375.0 1461.5,1372.2 1462.5,1378.5 1463.5,1377.0 1464.5,1375.0 1465.5,1381.6 1466.5,1378.7 1467.5,1379.7 1468.5,1378.4 1469.5,1386.9 1470.5,1370.6 1471.5,1379.1 1472.5,1376.2 1473.5,1383.3 1474.5,1384.4 1475.5,1377.7 1476.5,1378.2 1477.5,1359.7 1478.5,1377.9 1479.5,1376.9 1480.5,1370.0 1481.5,1368.1 1482.5,1367.2 1483.5,1371.8 1484.5,1371.0 1485.5,1376.5 1486.5,1367.7 1487.5,1369.7 1488.5,1359.9 1489.5,1384.8 1490.5,1374.4 1491.5,1382.0 1492.5,1375.8 1493.5,1374.9 1494.5,1369.9 1495.5,1374.9 1496.5,1374.5 1497.5,1376.8 1498.5,1377.4 1499.5,1369.5 1500.5,1376.7 1501.5,1370.0 1502.5,1363.1 1503.5,1377.0 1504.5,1371.0 1505.5,1372.4 1506.5,1381.3 1507.5,1377.5 1508.5,1376.3 1509.5,1372.6 1510.5,1378.3 1511.5,1376.2 1512.5,1374.4 1513.5,1370.7 1514.5,1370.2 1515.5,1377.1 1516.5,1367.1 1517.5,1373.7 1518.5,1379.9 1519.5,1384.2 1520.5,1380.2 1521.5,1389.3 1522.5,1378.0 1523.5,1376.5 1524.5,1373.2 1525.5,1376.2 1526.5,1385.5 1527.5,1378.3 1528.5,1373.3 1529.5,1386.0 1530.5,1379.6 1531.5,1372.8 1532.5,1374.9 1533.5,1383.6 1534.5,1375.7 1535.5,1372.1 1536.5,1361.6 1537.5,1372.3 1538.5,1374.3 1539.5,1369.4 1540.5,1362.3 1541.5,1369.2 1542.5,1365.9 1543.5,1373.1 1544.5,1379.1 1545.5,1372.5 1546.5,1372.2 1547.5,1367.3 1548.5,1367.3 1549.5,1373.9 1550.5,1365.9 1551.5,1360.8 1552.5,1362.3 1553.5,1353.5 1554.5,1353.6 1555.5,1350.3 1556.5,1348.8 1557.5,1341.9 1558.5,1330.7 1559.5,1340.9 1560.5,1345.4 1561.5,1339.2 1562.5,1338.4 1563.5,1331.7 1564.5,1327.3 1565.5,1304.9 1566.5,1302.9 1567.5,1287.7 1568.5,1289.5 1569.5,1277.0 1570.5,1256.4 1571.5,1263.1 1572.5,1244.2 1573.5,1240.2 1574.5,1212.6 1575.5,1212.7 1576.5,1194.7 1577.5,1186.6 1578.5,1187.4 1579.5,1162.5 1580.5,1171.3 1581.5,1162.4 1582.5,1171.8 1583.5,1173.8 1584.5,1164.8 1585.5,1163.9 1586.5,1138.1 1587.5,1137.8 1588.5,1121.5 1589.5,1098.5 1590.5,1074.9 1591.5,1057.2 1592.5,1046.6 1593.5,1019.5 1594.5,957.4 1595.5,853.9 1596.5,788.6 1597.5,769.0 1598.5,765.8 1599.5,756.1 1600.5,749.4 1601.5,763.1 1602.5,775.4 1603.5,779.0 1604.5,807.7 1605.5,839.7 1606.5,856.6 1607.5,873.9 1608.5,897.1 1609.5,905.0 1610.5,926.2 1611.5,961.0 1612.5,987.2 1613.5,1008.3 1614.5,1002.5 1615.5,1000.4 1616.5,990.6 1617.5,979.4 1618.5,965.3 1619.5,955.5 1620.5,947.6 1621.5,930.6 1622.5,924.2 1623.5,944.2 1624.5,943.5 1625.5,953.4 1626.5,934.3 1627.5,942.3 1628.5,930.1 1629.5,918.5 1630.5,916.2 1631.5,901.9 1632.5,889.2 1633.5,890.7 1634.5,876.5 1635.5,867.2 1636.5,876.0 1637.5,875.1 1638.5,893.0 1639.5,893.7 1640.5,912.8 1641.5,913.8 1642.5,919.4 1643.5,934.7 1644.5,948.5 1645.5,946.8 1646.5,956.4 1647.5,963.7 1648.5,965.5 1649.5,969.9 1650.5,980.8 1651.5,985.1 1652.5,994.3 1653.5,1019.7 1654.5,1037.1 1655.5,1063.3 1656.5,1075.8 1657.5,1091.9 1658.5,1090.9 1659.5,1101.3 1660.5,1101.6 1661.5,1123.7 1662.5,1124.9 1663.5,1137.4 1664.5,1148.3 1665.5,1145.9 1666.5,1170.7 1667.5,1174.0 1668.5,1183.3 1669.5,1189.5 1670.5,1196.7 1671.5,1218.1 1672.5,1222.0 1673.5,1231.5 1674.5,1234.3 1675.5,1242.7 1676.5,1258.3 1677.5,1267.9 1678.5,1278.9 1679.5,1279.7 1680.5,1280.7 1681.5,1293.6 1682.5,1305.5 1683.5,1313.1 1684.5,1319.3 1685.5,1330.2 1686.5,1321.3 1687.5,1335.5 1688.5,1340.5 1689.5,1331.1 1690.5,1342.8 1691.5,1339.6 1692.5,1347.8 1693.5,1346.7 1694.5,1354.0 1695.5,1358.3 1696.5,1356.9 1697.5,1357.7 1698.5,1358.2 1699.5,1363.5 1700.5,1366.0 1701.5,1367.3 1702.5,1365.3 1703.5,1370.3 1704.5,1370.8 1705.5,1367.8 1706.5,1368.2 1707.5,1369.0 1708.5,1375.0 1709.5,1378.4 1710.5,1371.0 1711.5,1372.5 1712.5,1376.1 1713.5,1375.2 1714.5,1373.9 1715.5,1380.0 1716.5,1378.3 1717.5,1385.1 1718.5,1381.1 1719.5,1383.0 1720.5,1384.8 1721.5,1375.4 1722.5,1389.9 1723.5,1377.4 1724.5,1374.0 1725.5,1376.2 1726.5,1385.5 1727.5,1377.3 1728.5,1386.2 1729.5,1380.6 1730.5,1368.7 1731.5,1373.4 1732.5,1368.3 1733.5,1378.7 1734.5,1383.6 1735.5,1378.0 1736.5,1369.5 1737.5,1372.0 1738.5,1372.0 1739.5,1378.2 1740.5,1378.7 1741.5,1380.0 1742.5,1366.6 1743.5,1379.9 1744.5,1372.2 1745.5,1380.7 1746.5,1373.4 1747.5,1384.7 1748.5,1382.4 1749.5,1378.9 1750.5,1383.6 1751.5,1383.2 1752.5,1381.9 1753.5,1382.9 1754.5,1372.5 1755.5,1373.5 1756.5,1384.4 1757.5,1370.1 1758.5,1378.3 1759.5,1378.8 1760.5,1380.0 1761.5,1375.7 1762.5,1376.6 1763.5,1382.3 1764.5,1379.8 1765.5,1386.1 1766.5,1371.7 1767.5,1384.2 1768.5,1384.4 1769.5,1383.5 1770.5,1379.2 1771.5,1375.8 1772.5,1380.3 1773.5,1378.3 1774.5,1380.1 1775.5,1373.0 1776.5,1378.2 1777.5,1387.5 1778.5,1373.5 1779.5,1379.0 1780.5,1371.8 1781.5,1383.3 1782.5,1382.5 1783.5,1380.6 1784.5,1385.5 1785.5,1379.9 1786.5,1371.6 1787.5,1373.6 1788.5,1387.6 1789.5,1370.9 1790.5,1375.7 1791.5,1374.2 1792.5,1378.5 1793.5,1378.4 1794.5,1379.6 1795.5,1380.1 1796.5,1385.4 1797.5,1376.0 1798.5,1379.5 1799.5,1369.9 1800.5,1378.2 1801.5,1380.8 1802.5,1379.7 1803.5,1379.3 1804.5,1378.9 1805.5,1379.0 1806.5,1381.1 1807.5,1387.4 1808.5,1373.0 1809.5,1379.5 1810.5,1378.5 1811.5,1379.9 1812.5,1381.5 1813.5,1381.1 1814.5,1384.8 1815.5,1382.7 1816.5,1370.8 1817.5,1374.9 1818.5,1370.9 1819.5,1382.1 1820.5,1386.9 1821.5,1383.7 1822.5,1389.2 1823.5,1372.5 1824.5,1372.6 1825.5,1378.8 1826.5,1378.7 1827.5,1379.5 1828.5,1382.0 1829.5,1364.6 1830.5,1385.9 1831.5,1383.3 1832.5,1382.2 1833.5,1389.7 1834.5,1387.2 1835.5,1381.4 1836.5,1382.4 1837.5,1395.4 1838.5,1379.8 1839.5,1381.7 1840.5,1378.8 1841.5,1381.5 1842.5,1377.3 1843.5,1385.0 1844.5,1379.6 1845.5,1383.4 1846.5,1381.1 1847.5,1373.4 1848.5,1371.3 1849.5,1378.4 1850.5,1380.3 1851.5,1374.2 1852.5,1374.8 1853.5,1367.4 1854.5,1372.8 1855.5,1386.5 1856.5,1376.1 1857.5,1378.6 1858.5,1381.9 1859.5,1378.5 1860.5,1379.4 1861.5,1381.5 1862.5,1373.0 1863.5,1378.2 1864.5,1368.0 1865.5,1379.6 1866.5,1375.2 1867.5,1386.4 1868.5,1376.3 1869.5,1383.3 1870.5,1375.6 1871.5,1375.9 1872.5,1380.1 1873.5,1384.4 1874.5,1381.1 1875.5,1380.6 1876.5,1388.5 1877.5,1382.9 1878.5,1384.1 1879.5,1374.3 1880.5,1372.6 1881.5,1383.9 1882.5,1383.5 1883.5,1387.8 1884.5,1381.2 1885.5,1379.1 1886.5,1374.5 1887.5,1388.0 1888.5,1377.5 1889.5,1382.0 1890.5,1384.4 1891.5,1382.7 1892.5,1384.5 1893.5,1378.8 1894.5,1380.4 1895.5,1374.1 1896.5,1369.0 1897.5,1386.2 1898.5,1381.7 1899.5,1375.5 1900.5,1384.0 1901.5,1381.1 1902.5,1375.7 1903.5,1384.7 1904.5,1375.1 1905.5,1378.0 1906.5,1383.0 1907.5,1381.5 1908.5,1384.6 1909.5,1384.6 1910.5,1384.3 1911.5,1382.2 1912.5,1381.9 1913.5,1383.9 1914.5,1384.0 1915.5,1369.3 1916.5,1383.2 1917.5,1378.5 1918.5,1371.9 1919.5,1372.4 1920.5,1379.6 1921.5,1366.7 1922.5,1367.3 1923.5,1376.6 1924.5,1381.2 1925.5,1373.7 1926.5,1378.9 1927.5,1381.0 1928.5,1384.8 1929.5,1384.7 1930.5,1381.5 1931.5,1377.8 1932.5,1390.2 1933.5,1390.2 1934.5,1373.8 1935.5,1381.2 1936.5,1373.8 1937.5,1376.7 1938.5,1372.4 1939.5,1375.1 1940.5,1381.5 1941.5,1381.6 1942.5,1379.4 1943.5,1377.0 1944.5,1382.4 1945.5,1385.6 1946.5,1377.8 1947.5,1378.4 1948.5,1379.0 1949.5,1383.1 1950.5,1376.2 1951.5,1387.4 1952.5,1382.6 1953.5,1375.4 1954.5,1387.0 1955.5,1380.5 1956.5,1380.4 1957.5,1380.3 1958.5,1389.2 1959.5,1376.3 1960.5,1379.6 1961.5,1377.6 1962.5,1378.2 1963.5,1379.1 1964.5,1373.8 1965.5,1372.7 1966.5,1387.6 1967.5,1382.9 1968.5,1380.4 1969.5,1389.9 1970.5,1373.7 1971.5,1384.3 1972.5,1378.5 1973.5,1380.2 1974.5,1382.2 1975.5,1385.6 1976.5,1382.4 1977.5,1380.0 1978.5,1376.7 1979.5,1381.0 1980.5,1381.7 1981.5,1381.0 1982.5,1373.7 1983.5,1377.9 1984.5,1381.7 1985.5,1383.8 1986.5,1379.4 1987.5,1381.4 1988.5,1379.1 1989.5,1371.2 1990.5,1374.3 1991.5,1376.5 1992.5,1375.7 1993.5,1369.8 1994.5,1383.2 1995.5,1377.0 1996.5,1381.3 1997.5,1381.1 1998.5,1382.4 1999.5,1384.5 2000.5,1380.3 2001.5,1391.9 2002.5,1379.8 2003.5,1377.3 2004.5,1384.5 2005.5,1384.6 2006.5,1371.5 2007.5,1384.3 2008.5,1382.1 2009.5,1384.0 2010.5,1383.3 2011.5,1383.4 2012.5,1389.7 2013.5,1369.0 2014.5,1382.8 2015.5,1377.3 2016.5,1379.0 2017.5,1372.2 2018.5,1374.9 2019.5,1372.6 2020.5,1372.0 2021.5,1373.0 2022.5,1376.5 2023.5,1372.8 2024.5,1384.7 2025.5,1374.0 2026.5,1375.3 2027.5,1377.3 2028.5,1384.8 2029.5,1372.7 2030.5,1381.8 2031.5,1376.0 2032.5,1387.2 2033.5,1379.8 2034.5,1382.3 2035.5,1424.2 2036.5,1424.5 2037.5,1423.3 2038.5,1382.4 2039.5,1381.7 2040.5,1374.2 2041.5,1390.3 2042.5,1376.2 2043.5,1383.9 2044.5,1384.3 2045.5,1382.8 2046.5,1388.9 2047.5,1387.7 2048.5,1386.4 2049.5,1384.4 2050.5,1379.2 2051.5,1377.9 2052.5,1384.5 2053.5,1380.6 2054.5,1379.6 2055.5,1381.9 2056.5,1379.2 2057.5,1382.5 2058.5,1377.1 2059.5,1380.5 2060.5,1379.1 2061.5,1377.7 2062.5,1377.8 2063.5,1381.4 2064.5,1384.3 2065.5,1379.1 2066.5,1382.4 2067.5,1383.3 2068.5,1382.4 2069.5,1378.7 2070.5,1380.4 2071.5,1379.8 2072.5,1384.6 2073.5,1377.7 2074.5,1382.5 2075.5,1373.7 2076.5,1373.1 2077.5,1375.4 2078.5,1371.2 2079.5,1370.9 2080.5,1374.1 2081.5,1385.5 2082.5,1378.0 2083.5,1379.3 2084.5,1378.0 2085.5,1387.0"/>
</g>
<rect x="1231" y="87" width="824" height="656" fill="#fff" stroke="none"/>
<g fill="#000" shape-rendering="crispEdges">
<rect x="1229" y="85" width="828" height="4"/>
<rect x="1229" y="741" width="828" height="4"/>
<rect x="1229" y="85" width="4" height="660"/>
<rect x="2053" y="85" width="4" height="660"/>
<rect x="1364" y="144" width="2" height="476"/>
<rect x="1364" y="617" width="636" height="3"/>
<rect x="1354" y="548.5" width="11" height="3"/>
<rect x="1354" y="466.4" width="11" height="3"/>
<rect x="1354" y="384.3" width="11" height="3"/>
<rect x="1354" y="302.2" width="11" height="3"/>
<rect x="1354" y="220.1" width="11" height="3"/>
<rect x="1359" y="589.6" width="6" height="3"/>
<rect x="1359" y="507.4" width="6" height="3"/>
<rect x="1359" y="425.4" width="6" height="3"/>
<rect x="1359" y="343.2" width="6" height="3"/>
<rect x="1359" y="261.1" width="6" height="3"/>
<rect x="1359" y="179.1" width="6" height="3"/>
<rect x="1431.3" y="619" width="3" height="10"/>
<rect x="1667.5" y="619" width="3" height="10"/>
<rect x="1903.7" y="619" width="3" height="10"/>
<rect x="1549.4" y="619" width="3" height="5"/>
<rect x="1785.6" y="619" width="3" height="5"/>
<rect x="1399.1" y="582.9" width="19" height="19"/>
<rect x="1546.0" y="449.0" width="19" height="19"/>
<rect x="1659.8" y="372.8" width="19" height="19"/>
<rect x="1752.8" y="316.1" width="19" height="19"/>
<rect x="1832.0" y="266.7" width="19" height="19"/>
<rect x="1899.8" y="223.5" width="19" height="19"/>
<rect x="1960.4" y="191.9" width="19" height="19"/>
</g>
<line x1="1406.7" y1="574.4" x2="1954" y2="199.6" stroke="#000" stroke-width="3.6" stroke-dasharray="17 5 4 6"/>
<g font-weight="bold" font-size="36.5" fill="#000">
<text transform="translate(1351.3,559.3) scale(0.9,1)" text-anchor="end">2.0</text>
<text transform="translate(1351.3,477.2) scale(0.9,1)" text-anchor="end">2.2</text>
<text transform="translate(1351.3,395.1) scale(0.9,1)" text-anchor="end">2.4</text>
<text transform="translate(1351.3,313.0) scale(0.9,1)" text-anchor="end">2.6</text>
<text transform="translate(1351.3,230.9) scale(0.9,1)" text-anchor="end">2.8</text>
<text transform="translate(1435.3,658.5) scale(0.9,1)" text-anchor="middle">-0.2</text>
<text transform="translate(1670.0,658.5) scale(0.9,1)" text-anchor="middle">0.0</text>
<text transform="translate(1906.2,658.5) scale(0.9,1)" text-anchor="middle">0.2</text>
</g>
<text transform="translate(1477.2,700.9) scale(0.92,1)" font-weight="bold" font-size="41" letter-spacing="-1.41">Log</text>
<text transform="translate(1540,714.8) scale(0.9,1)" font-size="24.7">10</text>
<text transform="translate(1574,700.9) scale(0.92,1)" font-weight="bold" font-size="41" letter-spacing="-1.63">(NIR laser power) (W)</text>
<g transform="translate(1282,566) rotate(-90)">
<text transform="translate(-2.8,0) scale(0.92,1)" font-weight="bold" font-size="37.5" letter-spacing="1">Log</text>
<text transform="translate(60.2,13) scale(0.9,1)" font-size="24.7">10</text>
<text transform="translate(93.4,0) scale(0.92,1)" font-weight="bold" font-size="37.5" letter-spacing="0">(Green UCL) (a.u.)</text>
</g>
<text x="1544" y="280.2" font-size="47" letter-spacing="-3.3" stroke="#000" stroke-width="1.5">Slope ~ 2.0</text>
</svg></body></html>
